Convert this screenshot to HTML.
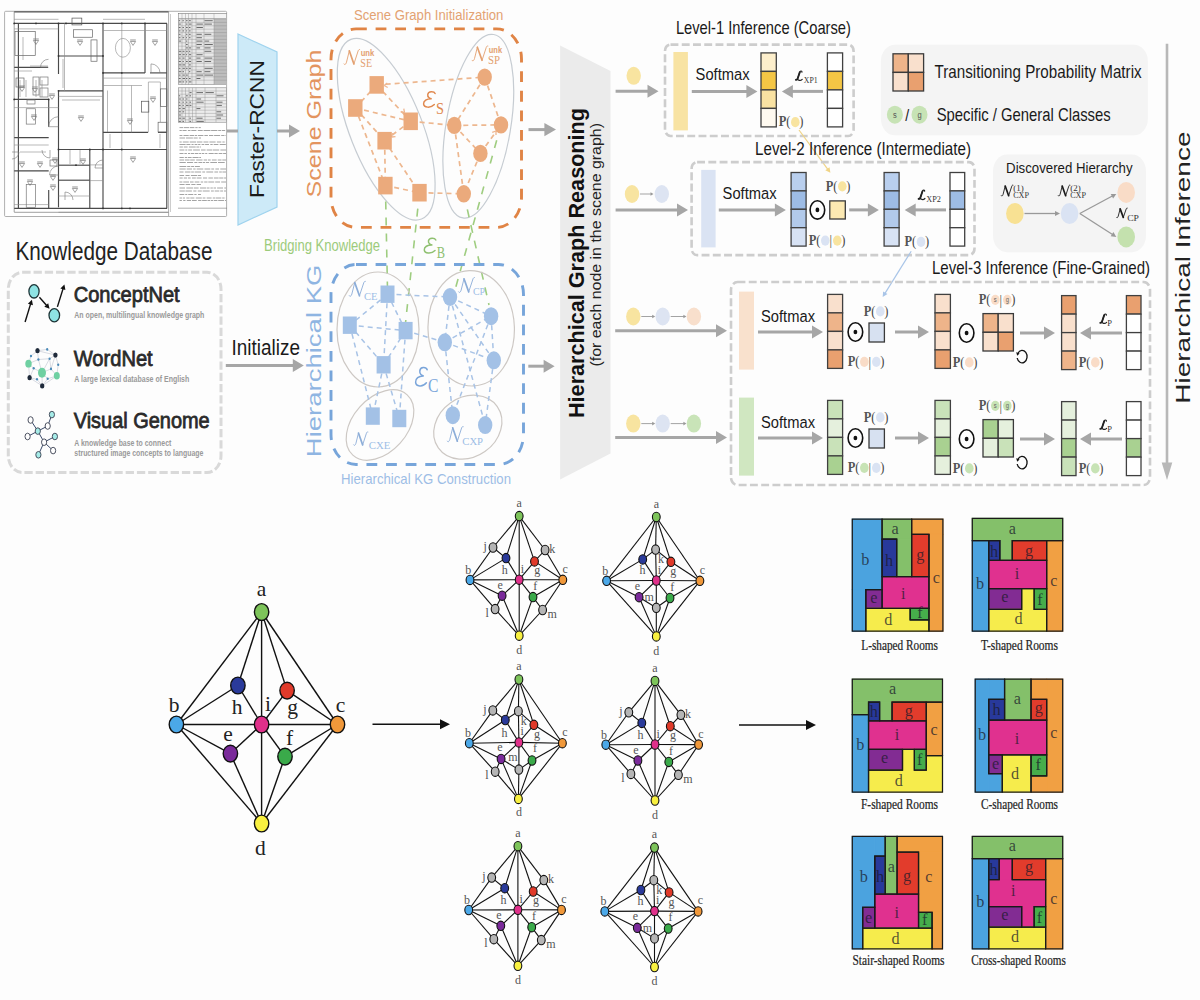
<!DOCTYPE html>
<html><head><meta charset="utf-8"><style>
html,body{margin:0;padding:0;background:#fdfdfd;width:1200px;height:1000px;overflow:hidden;}
svg{display:block;font-family:"Liberation Sans", sans-serif;}
</style></head><body>
<svg width="1200" height="1000" viewBox="0 0 1200 1000">
<rect x="0" y="0" width="1200" height="1000" fill="#fdfdfd"/>
<g fill="none">
<rect x="4.6" y="11.3" width="222" height="205.2" rx="1" fill="#fff" stroke="#9a9a9a" stroke-width="0.8"/>
<line x1="14.2" y1="11.8" x2="168.6" y2="11.8" stroke="#555" stroke-width="1.3" />
<line x1="14.2" y1="11.8" x2="14.2" y2="212.1" stroke="#777" stroke-width="0.7" />
<line x1="168.6" y1="11.8" x2="168.6" y2="216.0" stroke="#888" stroke-width="0.7" />
<line x1="170.5" y1="14.0" x2="170.5" y2="212.0" stroke="#999" stroke-width="0.5" />
<line x1="14.2" y1="212.3" x2="168.6" y2="212.3" stroke="#777" stroke-width="0.7" />
<line x1="14.2" y1="19.3" x2="58.5" y2="19.3" stroke="#888" stroke-width="0.6" />
<line x1="103.0" y1="19.3" x2="145.0" y2="19.3" stroke="#888" stroke-width="0.6" />
<line x1="14.2" y1="23.4" x2="167.0" y2="23.4" stroke="#4a4a4a" stroke-width="1.15" />
<line x1="14.2" y1="208.4" x2="167.0" y2="208.4" stroke="#4a4a4a" stroke-width="1.15" />
<line x1="18.4" y1="23.4" x2="18.4" y2="208.4" stroke="#4a4a4a" stroke-width="1.15" />
<line x1="166.8" y1="23.4" x2="166.8" y2="208.4" stroke="#4a4a4a" stroke-width="1.15" />
<line x1="58.5" y1="23.4" x2="58.5" y2="74.0" stroke="#4a4a4a" stroke-width="1.15" />
<line x1="58.5" y1="90.7" x2="58.5" y2="207.3" stroke="#4a4a4a" stroke-width="1.15" />
<line x1="103.0" y1="23.4" x2="103.0" y2="208.4" stroke="#4a4a4a" stroke-width="1.15" />
<line x1="145.0" y1="23.4" x2="145.0" y2="72.9" stroke="#4a4a4a" stroke-width="1.15" />
<line x1="48.7" y1="99.4" x2="48.7" y2="126.7" stroke="#4a4a4a" stroke-width="1.15" />
<line x1="48.7" y1="190.0" x2="48.7" y2="208.4" stroke="#4a4a4a" stroke-width="1.15" />
<line x1="89.8" y1="149.5" x2="89.8" y2="208.4" stroke="#4a4a4a" stroke-width="1.15" />
<line x1="58.5" y1="56.0" x2="103.0" y2="56.0" stroke="#4a4a4a" stroke-width="1.15" />
<line x1="103.0" y1="72.9" x2="145.0" y2="72.9" stroke="#4a4a4a" stroke-width="1.15" />
<line x1="150.0" y1="72.9" x2="166.8" y2="72.9" stroke="#4a4a4a" stroke-width="1.15" />
<line x1="58.5" y1="90.8" x2="103.0" y2="90.8" stroke="#4a4a4a" stroke-width="1.15" />
<line x1="14.2" y1="67.3" x2="48.0" y2="67.3" stroke="#4a4a4a" stroke-width="1.15" />
<line x1="14.2" y1="99.4" x2="48.7" y2="99.4" stroke="#4a4a4a" stroke-width="1.15" />
<line x1="14.2" y1="137.6" x2="48.7" y2="137.6" stroke="#4a4a4a" stroke-width="1.15" />
<line x1="14.2" y1="170.9" x2="48.7" y2="170.9" stroke="#4a4a4a" stroke-width="1.15" />
<line x1="58.5" y1="149.5" x2="166.8" y2="149.5" stroke="#4a4a4a" stroke-width="1.15" />
<line x1="103.0" y1="132.4" x2="148.0" y2="132.4" stroke="#4a4a4a" stroke-width="1.15" />
<line x1="58.5" y1="165.2" x2="89.8" y2="165.2" stroke="#4a4a4a" stroke-width="1.15" />
<line x1="58.5" y1="180.2" x2="89.8" y2="180.2" stroke="#4a4a4a" stroke-width="1.15" />
<line x1="158.0" y1="132.4" x2="166.8" y2="132.4" stroke="#4a4a4a" stroke-width="1.15" />
<line x1="64.5" y1="23.4" x2="64.5" y2="91.0" stroke="#8a8a8a" stroke-width="0.6" />
<line x1="121.8" y1="23.4" x2="121.8" y2="208.4" stroke="#8a8a8a" stroke-width="0.6" />
<line x1="14.2" y1="28.9" x2="58.5" y2="28.9" stroke="#8a8a8a" stroke-width="0.6" />
<line x1="103.0" y1="30.5" x2="166.8" y2="30.5" stroke="#8a8a8a" stroke-width="0.6" />
<line x1="103.0" y1="78.1" x2="166.8" y2="78.1" stroke="#8a8a8a" stroke-width="0.6" />
<line x1="58.5" y1="96.4" x2="103.0" y2="96.4" stroke="#8a8a8a" stroke-width="0.6" />
<line x1="14.2" y1="107.6" x2="58.5" y2="107.6" stroke="#8a8a8a" stroke-width="0.6" />
<line x1="14.2" y1="71.0" x2="32.0" y2="71.0" stroke="#8a8a8a" stroke-width="0.6" />
<line x1="131.5" y1="85.5" x2="131.5" y2="132.4" stroke="#8a8a8a" stroke-width="0.6" />
<line x1="107.5" y1="90.5" x2="107.5" y2="132.0" stroke="#8a8a8a" stroke-width="0.6" />
<line x1="148.4" y1="82.0" x2="148.4" y2="132.4" stroke="#8a8a8a" stroke-width="0.6" />
<line x1="160.4" y1="82.0" x2="160.4" y2="122.0" stroke="#8a8a8a" stroke-width="0.6" />
<line x1="103.0" y1="85.5" x2="142.0" y2="85.5" stroke="#8a8a8a" stroke-width="0.6" />
<line x1="148.4" y1="82.0" x2="160.4" y2="82.0" stroke="#8a8a8a" stroke-width="0.6" />
<line x1="14.2" y1="204.6" x2="48.7" y2="204.6" stroke="#8a8a8a" stroke-width="0.6" />
<line x1="58.5" y1="212.3" x2="168.0" y2="212.3" stroke="#8a8a8a" stroke-width="0.6" />
<line x1="62.0" y1="100.0" x2="100.0" y2="100.0" stroke="#8a8a8a" stroke-width="0.6" />
<line x1="89.8" y1="164.9" x2="103.0" y2="164.9" stroke="#8a8a8a" stroke-width="0.6" />
<line x1="89.8" y1="180.6" x2="103.0" y2="180.6" stroke="#8a8a8a" stroke-width="0.6" />
<line x1="23.0" y1="37.0" x2="23.0" y2="60.0" stroke="#8a8a8a" stroke-width="0.6" />
<line x1="30.0" y1="66.0" x2="48.0" y2="66.0" stroke="#8a8a8a" stroke-width="0.6" />
<line x1="14.2" y1="145.0" x2="48.7" y2="145.0" stroke="#8a8a8a" stroke-width="0.6" />
<line x1="20.0" y1="152.0" x2="46.0" y2="152.0" stroke="#8a8a8a" stroke-width="0.6" />
<line x1="63.0" y1="59.0" x2="63.0" y2="88.0" stroke="#8a8a8a" stroke-width="0.6" />
<line x1="20.0" y1="80.0" x2="20.0" y2="97.0" stroke="#8a8a8a" stroke-width="0.6" />
<line x1="26.0" y1="80.0" x2="26.0" y2="97.0" stroke="#8a8a8a" stroke-width="0.6" />
<line x1="36.0" y1="80.0" x2="36.0" y2="97.0" stroke="#8a8a8a" stroke-width="0.6" />
<line x1="42.0" y1="80.0" x2="42.0" y2="97.0" stroke="#8a8a8a" stroke-width="0.6" />
<line x1="110.0" y1="134.0" x2="110.0" y2="148.0" stroke="#8a8a8a" stroke-width="0.6" />
<line x1="160.0" y1="134.0" x2="160.0" y2="148.0" stroke="#8a8a8a" stroke-width="0.6" />
<line x1="70.0" y1="150.0" x2="70.0" y2="164.0" stroke="#8a8a8a" stroke-width="0.6" />
<line x1="80.0" y1="150.0" x2="80.0" y2="164.0" stroke="#8a8a8a" stroke-width="0.6" />
<line x1="58.5" y1="196.0" x2="89.8" y2="196.0" stroke="#8a8a8a" stroke-width="0.6" />
<rect x="15" y="31.6" width="20.25" height="24" stroke="#666" stroke-width="0.7"/>
<rect x="72" y="18.1" width="9.8" height="6.8" stroke="#555" stroke-width="0.7"/>
<rect x="73.5" y="29.75" width="19" height="7.5" stroke="#666" stroke-width="0.7"/>
<rect x="91" y="39.9" width="6" height="21.35" stroke="#666" stroke-width="0.7"/>
<rect x="26.25" y="108.75" width="9.35" height="15.35" stroke="#777" stroke-width="0.7"/>
<rect x="26.25" y="184.4" width="9.35" height="22.9" stroke="#777" stroke-width="0.7"/>
<rect x="141.6" y="101.25" width="7.2" height="10.85" stroke="#555" stroke-width="0.7"/>
<rect x="158.1" y="122.25" width="8.7" height="9.75" stroke="#666" stroke-width="0.7"/>
<rect x="160.4" y="88.9" width="6.4" height="17.6" stroke="#666" stroke-width="0.7"/>
<rect x="16" y="78" width="8" height="9" stroke="#666" stroke-width="0.7"/>
<rect x="27" y="100" width="8" height="4" stroke="#777" stroke-width="0.7"/>
<rect x="33" y="77" width="6" height="18" stroke="#777" stroke-width="0.7"/>
<rect x="40" y="77" width="8" height="8" stroke="#777" stroke-width="0.7"/>
<rect x="40" y="88" width="8" height="9" stroke="#777" stroke-width="0.7"/>
<rect x="50" y="160" width="7" height="6" stroke="#777" stroke-width="0.7"/>
<ellipse cx="122.9" cy="47.8" rx="7.5" ry="9.4" fill="none" stroke="#888" stroke-width="0.6" />
<path d="M48.5 67.3 L40.5 67.3 A8 8 0 0 1 48.5 59.3" stroke="#777" stroke-width="0.6"/>
<path d="M58.5 126.7 L48.5 126.7 A10 10 0 0 1 58.5 116.7" stroke="#777" stroke-width="0.6"/>
<path d="M50.0 150.0 L50.0 158.0 A8 8 0 0 1 42.0 150.0" stroke="#777" stroke-width="0.6"/>
<path d="M58.5 175.0 L49.5 175.0 A9 9 0 0 1 58.5 166.0" stroke="#777" stroke-width="0.6"/>
<path d="M65.0 200.0 L65.0 192.0 A8 8 0 0 1 73.0 200.0" stroke="#777" stroke-width="0.6"/>
<path d="M151.0 72.9 L151.0 63.9 A9 9 0 0 1 160.0 72.9" stroke="#777" stroke-width="0.6"/>
<path d="M12.0 152.0 L19.0 152.0 A7 7 0 0 1 12.0 159.0" stroke="#777" stroke-width="0.6"/>
<path d="M103.0 168.0 L95.0 168.0 A8 8 0 0 1 103.0 160.0" stroke="#777" stroke-width="0.6"/>
<path d="M33.4 40.5 L36.0 44.4 L38.6 40.5 Z" stroke="#666" stroke-width="0.6"/>
<line x1="33.2" y1="39.0" x2="38.8" y2="39.0" stroke="#777" stroke-width="0.8" />
<path d="M77.4 41.5 L80.0 45.4 L82.6 41.5 Z" stroke="#666" stroke-width="0.6"/>
<line x1="77.2" y1="40.0" x2="82.8" y2="40.0" stroke="#777" stroke-width="0.8" />
<path d="M130.4 41.5 L133.0 45.4 L135.6 41.5 Z" stroke="#666" stroke-width="0.6"/>
<line x1="130.2" y1="40.0" x2="135.8" y2="40.0" stroke="#777" stroke-width="0.8" />
<path d="M152.4 41.5 L155.0 45.4 L157.6 41.5 Z" stroke="#666" stroke-width="0.6"/>
<line x1="152.2" y1="40.0" x2="157.8" y2="40.0" stroke="#777" stroke-width="0.8" />
<path d="M19.4 87.5 L22.0 91.4 L24.6 87.5 Z" stroke="#666" stroke-width="0.6"/>
<line x1="19.2" y1="86.0" x2="24.8" y2="86.0" stroke="#777" stroke-width="0.8" />
<path d="M32.4 88.5 L35.0 92.4 L37.6 88.5 Z" stroke="#666" stroke-width="0.6"/>
<line x1="32.2" y1="87.0" x2="37.8" y2="87.0" stroke="#777" stroke-width="0.8" />
<path d="M49.4 95.5 L52.0 99.4 L54.6 95.5 Z" stroke="#666" stroke-width="0.6"/>
<line x1="49.2" y1="94.0" x2="54.8" y2="94.0" stroke="#777" stroke-width="0.8" />
<path d="M78.4 117.5 L81.0 121.4 L83.6 117.5 Z" stroke="#666" stroke-width="0.6"/>
<line x1="78.2" y1="116.0" x2="83.8" y2="116.0" stroke="#777" stroke-width="0.8" />
<path d="M31.4 116.5 L34.0 120.4 L36.6 116.5 Z" stroke="#666" stroke-width="0.6"/>
<line x1="31.2" y1="115.0" x2="36.8" y2="115.0" stroke="#777" stroke-width="0.8" />
<path d="M127.4 120.5 L130.0 124.4 L132.6 120.5 Z" stroke="#666" stroke-width="0.6"/>
<line x1="127.2" y1="119.0" x2="132.8" y2="119.0" stroke="#777" stroke-width="0.8" />
<path d="M150.4 98.5 L153.0 102.4 L155.6 98.5 Z" stroke="#666" stroke-width="0.6"/>
<line x1="150.2" y1="97.0" x2="155.8" y2="97.0" stroke="#777" stroke-width="0.8" />
<path d="M27.4 181.5 L30.0 185.4 L32.6 181.5 Z" stroke="#666" stroke-width="0.6"/>
<line x1="27.2" y1="180.0" x2="32.8" y2="180.0" stroke="#777" stroke-width="0.8" />
<path d="M72.4 188.5 L75.0 192.4 L77.6 188.5 Z" stroke="#666" stroke-width="0.6"/>
<line x1="72.2" y1="187.0" x2="77.8" y2="187.0" stroke="#777" stroke-width="0.8" />
<path d="M80.4 160.5 L83.0 164.4 L85.6 160.5 Z" stroke="#666" stroke-width="0.6"/>
<line x1="80.2" y1="159.0" x2="85.8" y2="159.0" stroke="#777" stroke-width="0.8" />
<path d="M130.4 158.5 L133.0 162.4 L135.6 158.5 Z" stroke="#666" stroke-width="0.6"/>
<line x1="130.2" y1="157.0" x2="135.8" y2="157.0" stroke="#777" stroke-width="0.8" />
<path d="M52.4 159.5 L55.0 163.4 L57.6 159.5 Z" stroke="#666" stroke-width="0.6"/>
<line x1="52.2" y1="158.0" x2="57.8" y2="158.0" stroke="#777" stroke-width="0.8" />
<path d="M19.4 163.5 L22.0 167.4 L24.6 163.5 Z" stroke="#666" stroke-width="0.6"/>
<line x1="19.2" y1="162.0" x2="24.8" y2="162.0" stroke="#777" stroke-width="0.8" />
<path d="M37.4 163.5 L40.0 167.4 L42.6 163.5 Z" stroke="#666" stroke-width="0.6"/>
<line x1="37.2" y1="162.0" x2="42.8" y2="162.0" stroke="#777" stroke-width="0.8" />
<path d="M50.4 176.5 L53.0 180.4 L55.6 176.5 Z" stroke="#666" stroke-width="0.6"/>
<line x1="50.2" y1="175.0" x2="55.8" y2="175.0" stroke="#777" stroke-width="0.8" />
<path d="M50.4 186.5 L53.0 190.4 L55.6 186.5 Z" stroke="#666" stroke-width="0.6"/>
<line x1="50.2" y1="185.0" x2="55.8" y2="185.0" stroke="#777" stroke-width="0.8" />
<ellipse cx="14.2" cy="23.4" rx="0.9" ry="0.9" fill="#333" stroke="none" stroke-width="1" />
<ellipse cx="58.5" cy="23.4" rx="0.9" ry="0.9" fill="#333" stroke="none" stroke-width="1" />
<ellipse cx="103.0" cy="23.4" rx="0.9" ry="0.9" fill="#333" stroke="none" stroke-width="1" />
<ellipse cx="121.8" cy="23.4" rx="0.9" ry="0.9" fill="#333" stroke="none" stroke-width="1" />
<ellipse cx="145.0" cy="23.4" rx="0.9" ry="0.9" fill="#333" stroke="none" stroke-width="1" />
<ellipse cx="58.5" cy="56.0" rx="0.9" ry="0.9" fill="#333" stroke="none" stroke-width="1" />
<ellipse cx="103.0" cy="56.0" rx="0.9" ry="0.9" fill="#333" stroke="none" stroke-width="1" />
<ellipse cx="103.0" cy="72.9" rx="0.9" ry="0.9" fill="#333" stroke="none" stroke-width="1" />
<ellipse cx="121.8" cy="72.9" rx="0.9" ry="0.9" fill="#333" stroke="none" stroke-width="1" />
<ellipse cx="14.2" cy="99.4" rx="0.9" ry="0.9" fill="#333" stroke="none" stroke-width="1" />
<ellipse cx="48.7" cy="99.4" rx="0.9" ry="0.9" fill="#333" stroke="none" stroke-width="1" />
<ellipse cx="58.5" cy="90.8" rx="0.9" ry="0.9" fill="#333" stroke="none" stroke-width="1" />
<ellipse cx="103.0" cy="149.5" rx="0.9" ry="0.9" fill="#333" stroke="none" stroke-width="1" />
<ellipse cx="121.8" cy="149.5" rx="0.9" ry="0.9" fill="#333" stroke="none" stroke-width="1" />
<ellipse cx="58.5" cy="149.5" rx="0.9" ry="0.9" fill="#333" stroke="none" stroke-width="1" />
<ellipse cx="89.8" cy="149.5" rx="0.9" ry="0.9" fill="#333" stroke="none" stroke-width="1" />
<ellipse cx="103.0" cy="208.4" rx="0.9" ry="0.9" fill="#333" stroke="none" stroke-width="1" />
<ellipse cx="121.8" cy="208.4" rx="0.9" ry="0.9" fill="#333" stroke="none" stroke-width="1" />
<ellipse cx="130.0" cy="208.4" rx="0.9" ry="0.9" fill="#333" stroke="none" stroke-width="1" />
<ellipse cx="76.0" cy="165.2" rx="0.9" ry="0.9" fill="#333" stroke="none" stroke-width="1" />
<ellipse cx="66.0" cy="23.4" rx="0.9" ry="0.9" fill="#333" stroke="none" stroke-width="1" />
<ellipse cx="36.0" cy="23.4" rx="0.9" ry="0.9" fill="#333" stroke="none" stroke-width="1" />
</g>
<g>
<rect x="178.3" y="13.6" width="48.4" height="71.0" rx="0" ry="0.0" fill="#e9e9e9" stroke="#777" stroke-width="0.5" />
<rect x="178.3" y="13.6" width="48.4" height="5.0" rx="0" ry="0.0" fill="#f4f4f4" stroke="#777" stroke-width="0.4" />
<rect x="214.0" y="19.0" width="12.7" height="65.0" rx="0" ry="0.0" fill="#bdbdbd" stroke="none" stroke-width="1" />
<line x1="178.3" y1="19.0" x2="226.7" y2="19.0" stroke="#8c8c8c" stroke-width="0.4" />
<line x1="178.3" y1="22.4" x2="226.7" y2="22.4" stroke="#8c8c8c" stroke-width="0.4" />
<line x1="178.3" y1="25.8" x2="226.7" y2="25.8" stroke="#8c8c8c" stroke-width="0.4" />
<line x1="178.3" y1="29.2" x2="226.7" y2="29.2" stroke="#8c8c8c" stroke-width="0.4" />
<line x1="178.3" y1="32.6" x2="226.7" y2="32.6" stroke="#8c8c8c" stroke-width="0.4" />
<line x1="178.3" y1="36.0" x2="226.7" y2="36.0" stroke="#8c8c8c" stroke-width="0.4" />
<line x1="178.3" y1="39.4" x2="226.7" y2="39.4" stroke="#8c8c8c" stroke-width="0.4" />
<line x1="178.3" y1="42.8" x2="226.7" y2="42.8" stroke="#8c8c8c" stroke-width="0.4" />
<line x1="178.3" y1="46.2" x2="226.7" y2="46.2" stroke="#8c8c8c" stroke-width="0.4" />
<line x1="178.3" y1="49.6" x2="226.7" y2="49.6" stroke="#8c8c8c" stroke-width="0.4" />
<line x1="178.3" y1="53.0" x2="226.7" y2="53.0" stroke="#8c8c8c" stroke-width="0.4" />
<line x1="178.3" y1="56.4" x2="226.7" y2="56.4" stroke="#8c8c8c" stroke-width="0.4" />
<line x1="178.3" y1="59.8" x2="226.7" y2="59.8" stroke="#8c8c8c" stroke-width="0.4" />
<line x1="178.3" y1="63.2" x2="226.7" y2="63.2" stroke="#8c8c8c" stroke-width="0.4" />
<line x1="178.3" y1="66.6" x2="226.7" y2="66.6" stroke="#8c8c8c" stroke-width="0.4" />
<line x1="178.3" y1="70.0" x2="226.7" y2="70.0" stroke="#8c8c8c" stroke-width="0.4" />
<line x1="178.3" y1="73.4" x2="226.7" y2="73.4" stroke="#8c8c8c" stroke-width="0.4" />
<line x1="178.3" y1="76.8" x2="226.7" y2="76.8" stroke="#8c8c8c" stroke-width="0.4" />
<line x1="178.3" y1="80.2" x2="226.7" y2="80.2" stroke="#8c8c8c" stroke-width="0.4" />
<line x1="182.0" y1="13.6" x2="182.0" y2="84.6" stroke="#8c8c8c" stroke-width="0.4" />
<line x1="185.5" y1="13.6" x2="185.5" y2="84.6" stroke="#8c8c8c" stroke-width="0.4" />
<line x1="188.5" y1="13.6" x2="188.5" y2="84.6" stroke="#8c8c8c" stroke-width="0.4" />
<line x1="192.0" y1="13.6" x2="192.0" y2="84.6" stroke="#8c8c8c" stroke-width="0.4" />
<line x1="196.0" y1="13.6" x2="196.0" y2="84.6" stroke="#8c8c8c" stroke-width="0.4" />
<line x1="204.0" y1="13.6" x2="204.0" y2="84.6" stroke="#8c8c8c" stroke-width="0.4" />
<line x1="214.0" y1="13.6" x2="214.0" y2="84.6" stroke="#8c8c8c" stroke-width="0.4" />
<rect x="178.3" y="87.8" width="48.4" height="34.4" rx="0" ry="0.0" fill="#ececec" stroke="#777" stroke-width="0.5" />
<line x1="178.3" y1="91.0" x2="226.7" y2="91.0" stroke="#8c8c8c" stroke-width="0.4" />
<line x1="178.3" y1="94.2" x2="226.7" y2="94.2" stroke="#8c8c8c" stroke-width="0.4" />
<line x1="178.3" y1="97.4" x2="226.7" y2="97.4" stroke="#8c8c8c" stroke-width="0.4" />
<line x1="178.3" y1="100.6" x2="226.7" y2="100.6" stroke="#8c8c8c" stroke-width="0.4" />
<line x1="178.3" y1="103.8" x2="226.7" y2="103.8" stroke="#8c8c8c" stroke-width="0.4" />
<line x1="178.3" y1="107.0" x2="226.7" y2="107.0" stroke="#8c8c8c" stroke-width="0.4" />
<line x1="178.3" y1="110.2" x2="226.7" y2="110.2" stroke="#8c8c8c" stroke-width="0.4" />
<line x1="178.3" y1="113.4" x2="226.7" y2="113.4" stroke="#8c8c8c" stroke-width="0.4" />
<line x1="178.3" y1="116.6" x2="226.7" y2="116.6" stroke="#8c8c8c" stroke-width="0.4" />
<line x1="178.3" y1="119.8" x2="226.7" y2="119.8" stroke="#8c8c8c" stroke-width="0.4" />
<line x1="182.0" y1="87.8" x2="182.0" y2="122.2" stroke="#8c8c8c" stroke-width="0.4" />
<line x1="185.5" y1="87.8" x2="185.5" y2="122.2" stroke="#8c8c8c" stroke-width="0.4" />
<line x1="189.0" y1="87.8" x2="189.0" y2="122.2" stroke="#8c8c8c" stroke-width="0.4" />
<line x1="192.5" y1="87.8" x2="192.5" y2="122.2" stroke="#8c8c8c" stroke-width="0.4" />
<line x1="196.0" y1="87.8" x2="196.0" y2="122.2" stroke="#8c8c8c" stroke-width="0.4" />
<line x1="205.0" y1="87.8" x2="205.0" y2="122.2" stroke="#8c8c8c" stroke-width="0.4" />
<line x1="216.0" y1="87.8" x2="216.0" y2="122.2" stroke="#8c8c8c" stroke-width="0.4" />
<line x1="179.5" y1="127.6" x2="183.1" y2="127.6" stroke="#9a9a9a" stroke-width="0.9" />
<line x1="183.8" y1="127.6" x2="189.1" y2="127.6" stroke="#9a9a9a" stroke-width="0.9" />
<line x1="189.8" y1="127.6" x2="194.4" y2="127.6" stroke="#9a9a9a" stroke-width="0.9" />
<line x1="195.3" y1="127.6" x2="197.6" y2="127.6" stroke="#9a9a9a" stroke-width="0.9" />
<line x1="198.6" y1="127.6" x2="200.8" y2="127.6" stroke="#9a9a9a" stroke-width="0.9" />
<line x1="179.5" y1="130.5" x2="181.8" y2="130.5" stroke="#9a9a9a" stroke-width="0.9" />
<line x1="182.5" y1="130.5" x2="186.6" y2="130.5" stroke="#9a9a9a" stroke-width="0.9" />
<line x1="187.9" y1="130.5" x2="190.5" y2="130.5" stroke="#9a9a9a" stroke-width="0.9" />
<line x1="191.3" y1="130.5" x2="196.4" y2="130.5" stroke="#9a9a9a" stroke-width="0.9" />
<line x1="197.8" y1="130.5" x2="202.7" y2="130.5" stroke="#9a9a9a" stroke-width="0.9" />
<line x1="203.6" y1="130.5" x2="210.5" y2="130.5" stroke="#9a9a9a" stroke-width="0.9" />
<line x1="211.1" y1="130.5" x2="217.4" y2="130.5" stroke="#9a9a9a" stroke-width="0.9" />
<line x1="218.2" y1="130.5" x2="221.0" y2="130.5" stroke="#9a9a9a" stroke-width="0.9" />
<line x1="221.7" y1="130.5" x2="225.2" y2="130.5" stroke="#9a9a9a" stroke-width="0.9" />
<line x1="179.5" y1="135.5" x2="182.4" y2="135.5" stroke="#9a9a9a" stroke-width="0.9" />
<line x1="183.5" y1="135.5" x2="188.7" y2="135.5" stroke="#9a9a9a" stroke-width="0.9" />
<line x1="189.6" y1="135.5" x2="194.3" y2="135.5" stroke="#9a9a9a" stroke-width="0.9" />
<line x1="195.0" y1="135.5" x2="197.2" y2="135.5" stroke="#9a9a9a" stroke-width="0.9" />
<line x1="198.0" y1="135.5" x2="203.4" y2="135.5" stroke="#9a9a9a" stroke-width="0.9" />
<line x1="204.4" y1="135.5" x2="207.9" y2="135.5" stroke="#9a9a9a" stroke-width="0.9" />
<line x1="209.0" y1="135.5" x2="213.3" y2="135.5" stroke="#9a9a9a" stroke-width="0.9" />
<line x1="214.1" y1="135.5" x2="220.1" y2="135.5" stroke="#9a9a9a" stroke-width="0.9" />
<line x1="221.2" y1="135.5" x2="224.5" y2="135.5" stroke="#9a9a9a" stroke-width="0.9" />
<line x1="225.5" y1="135.5" x2="226.0" y2="135.5" stroke="#9a9a9a" stroke-width="0.9" />
<line x1="179.5" y1="138.0" x2="185.1" y2="138.0" stroke="#9a9a9a" stroke-width="0.9" />
<line x1="186.0" y1="138.0" x2="192.9" y2="138.0" stroke="#9a9a9a" stroke-width="0.9" />
<line x1="193.6" y1="138.0" x2="197.7" y2="138.0" stroke="#9a9a9a" stroke-width="0.9" />
<line x1="198.9" y1="138.0" x2="201.0" y2="138.0" stroke="#9a9a9a" stroke-width="0.9" />
<line x1="179.5" y1="142.0" x2="181.7" y2="142.0" stroke="#9a9a9a" stroke-width="0.9" />
<line x1="182.8" y1="142.0" x2="188.7" y2="142.0" stroke="#9a9a9a" stroke-width="0.9" />
<line x1="189.7" y1="142.0" x2="196.1" y2="142.0" stroke="#9a9a9a" stroke-width="0.9" />
<line x1="196.9" y1="142.0" x2="202.4" y2="142.0" stroke="#9a9a9a" stroke-width="0.9" />
<line x1="203.5" y1="142.0" x2="208.4" y2="142.0" stroke="#9a9a9a" stroke-width="0.9" />
<line x1="209.4" y1="142.0" x2="215.6" y2="142.0" stroke="#9a9a9a" stroke-width="0.9" />
<line x1="216.9" y1="142.0" x2="221.3" y2="142.0" stroke="#9a9a9a" stroke-width="0.9" />
<line x1="222.4" y1="142.0" x2="224.7" y2="142.0" stroke="#9a9a9a" stroke-width="0.9" />
<line x1="225.9" y1="142.0" x2="226.0" y2="142.0" stroke="#9a9a9a" stroke-width="0.9" />
<line x1="179.5" y1="144.5" x2="185.6" y2="144.5" stroke="#9a9a9a" stroke-width="0.9" />
<line x1="186.4" y1="144.5" x2="190.4" y2="144.5" stroke="#9a9a9a" stroke-width="0.9" />
<line x1="191.5" y1="144.5" x2="193.6" y2="144.5" stroke="#9a9a9a" stroke-width="0.9" />
<line x1="194.6" y1="144.5" x2="197.4" y2="144.5" stroke="#9a9a9a" stroke-width="0.9" />
<line x1="198.1" y1="144.5" x2="200.4" y2="144.5" stroke="#9a9a9a" stroke-width="0.9" />
<line x1="201.6" y1="144.5" x2="204.3" y2="144.5" stroke="#9a9a9a" stroke-width="0.9" />
<line x1="205.1" y1="144.5" x2="209.0" y2="144.5" stroke="#9a9a9a" stroke-width="0.9" />
<line x1="210.3" y1="144.5" x2="212.7" y2="144.5" stroke="#9a9a9a" stroke-width="0.9" />
<line x1="213.7" y1="144.5" x2="218.4" y2="144.5" stroke="#9a9a9a" stroke-width="0.9" />
<line x1="219.7" y1="144.5" x2="225.8" y2="144.5" stroke="#9a9a9a" stroke-width="0.9" />
<line x1="179.5" y1="147.0" x2="182.9" y2="147.0" stroke="#9a9a9a" stroke-width="0.9" />
<line x1="183.8" y1="147.0" x2="187.6" y2="147.0" stroke="#9a9a9a" stroke-width="0.9" />
<line x1="188.9" y1="147.0" x2="195.7" y2="147.0" stroke="#9a9a9a" stroke-width="0.9" />
<line x1="196.4" y1="147.0" x2="199.3" y2="147.0" stroke="#9a9a9a" stroke-width="0.9" />
<line x1="200.1" y1="147.0" x2="201.0" y2="147.0" stroke="#9a9a9a" stroke-width="0.9" />
<line x1="179.5" y1="150.0" x2="184.4" y2="150.0" stroke="#9a9a9a" stroke-width="0.9" />
<line x1="185.3" y1="150.0" x2="187.3" y2="150.0" stroke="#9a9a9a" stroke-width="0.9" />
<line x1="188.2" y1="150.0" x2="192.1" y2="150.0" stroke="#9a9a9a" stroke-width="0.9" />
<line x1="193.1" y1="150.0" x2="199.9" y2="150.0" stroke="#9a9a9a" stroke-width="0.9" />
<line x1="201.0" y1="150.0" x2="205.6" y2="150.0" stroke="#9a9a9a" stroke-width="0.9" />
<line x1="206.7" y1="150.0" x2="212.1" y2="150.0" stroke="#9a9a9a" stroke-width="0.9" />
<line x1="212.7" y1="150.0" x2="219.2" y2="150.0" stroke="#9a9a9a" stroke-width="0.9" />
<line x1="220.4" y1="150.0" x2="226.0" y2="150.0" stroke="#9a9a9a" stroke-width="0.9" />
<line x1="179.5" y1="153.5" x2="183.5" y2="153.5" stroke="#9a9a9a" stroke-width="0.9" />
<line x1="184.4" y1="153.5" x2="186.9" y2="153.5" stroke="#9a9a9a" stroke-width="0.9" />
<line x1="188.0" y1="153.5" x2="190.3" y2="153.5" stroke="#9a9a9a" stroke-width="0.9" />
<line x1="191.0" y1="153.5" x2="194.0" y2="153.5" stroke="#9a9a9a" stroke-width="0.9" />
<line x1="194.7" y1="153.5" x2="198.4" y2="153.5" stroke="#9a9a9a" stroke-width="0.9" />
<line x1="199.1" y1="153.5" x2="201.1" y2="153.5" stroke="#9a9a9a" stroke-width="0.9" />
<line x1="201.8" y1="153.5" x2="204.3" y2="153.5" stroke="#9a9a9a" stroke-width="0.9" />
<line x1="205.2" y1="153.5" x2="207.3" y2="153.5" stroke="#9a9a9a" stroke-width="0.9" />
<line x1="208.6" y1="153.5" x2="213.7" y2="153.5" stroke="#9a9a9a" stroke-width="0.9" />
<line x1="214.4" y1="153.5" x2="217.7" y2="153.5" stroke="#9a9a9a" stroke-width="0.9" />
<line x1="218.6" y1="153.5" x2="222.4" y2="153.5" stroke="#9a9a9a" stroke-width="0.9" />
<line x1="223.1" y1="153.5" x2="226.0" y2="153.5" stroke="#9a9a9a" stroke-width="0.9" />
<line x1="179.5" y1="157.5" x2="183.8" y2="157.5" stroke="#9a9a9a" stroke-width="0.9" />
<line x1="184.8" y1="157.5" x2="187.2" y2="157.5" stroke="#9a9a9a" stroke-width="0.9" />
<line x1="187.9" y1="157.5" x2="191.6" y2="157.5" stroke="#9a9a9a" stroke-width="0.9" />
<line x1="192.5" y1="157.5" x2="198.6" y2="157.5" stroke="#9a9a9a" stroke-width="0.9" />
<line x1="199.3" y1="157.5" x2="201.0" y2="157.5" stroke="#9a9a9a" stroke-width="0.9" />
<line x1="179.5" y1="160.0" x2="184.1" y2="160.0" stroke="#9a9a9a" stroke-width="0.9" />
<line x1="184.9" y1="160.0" x2="189.6" y2="160.0" stroke="#9a9a9a" stroke-width="0.9" />
<line x1="190.2" y1="160.0" x2="194.8" y2="160.0" stroke="#9a9a9a" stroke-width="0.9" />
<line x1="196.2" y1="160.0" x2="202.5" y2="160.0" stroke="#9a9a9a" stroke-width="0.9" />
<line x1="203.7" y1="160.0" x2="207.0" y2="160.0" stroke="#9a9a9a" stroke-width="0.9" />
<line x1="207.9" y1="160.0" x2="210.7" y2="160.0" stroke="#9a9a9a" stroke-width="0.9" />
<line x1="211.9" y1="160.0" x2="216.6" y2="160.0" stroke="#9a9a9a" stroke-width="0.9" />
<line x1="217.8" y1="160.0" x2="221.5" y2="160.0" stroke="#9a9a9a" stroke-width="0.9" />
<line x1="222.3" y1="160.0" x2="226.0" y2="160.0" stroke="#9a9a9a" stroke-width="0.9" />
<line x1="179.5" y1="162.5" x2="185.8" y2="162.5" stroke="#9a9a9a" stroke-width="0.9" />
<line x1="187.0" y1="162.5" x2="193.1" y2="162.5" stroke="#9a9a9a" stroke-width="0.9" />
<line x1="194.3" y1="162.5" x2="197.4" y2="162.5" stroke="#9a9a9a" stroke-width="0.9" />
<line x1="198.4" y1="162.5" x2="202.2" y2="162.5" stroke="#9a9a9a" stroke-width="0.9" />
<line x1="202.8" y1="162.5" x2="205.0" y2="162.5" stroke="#9a9a9a" stroke-width="0.9" />
<line x1="205.8" y1="162.5" x2="209.1" y2="162.5" stroke="#9a9a9a" stroke-width="0.9" />
<line x1="210.3" y1="162.5" x2="217.0" y2="162.5" stroke="#9a9a9a" stroke-width="0.9" />
<line x1="218.0" y1="162.5" x2="224.7" y2="162.5" stroke="#9a9a9a" stroke-width="0.9" />
<line x1="179.5" y1="166.5" x2="186.3" y2="166.5" stroke="#9a9a9a" stroke-width="0.9" />
<line x1="187.2" y1="166.5" x2="190.3" y2="166.5" stroke="#9a9a9a" stroke-width="0.9" />
<line x1="191.1" y1="166.5" x2="194.0" y2="166.5" stroke="#9a9a9a" stroke-width="0.9" />
<line x1="194.8" y1="166.5" x2="199.9" y2="166.5" stroke="#9a9a9a" stroke-width="0.9" />
<line x1="179.5" y1="169.0" x2="185.7" y2="169.0" stroke="#9a9a9a" stroke-width="0.9" />
<line x1="186.7" y1="169.0" x2="192.0" y2="169.0" stroke="#9a9a9a" stroke-width="0.9" />
<line x1="193.2" y1="169.0" x2="195.6" y2="169.0" stroke="#9a9a9a" stroke-width="0.9" />
<line x1="196.7" y1="169.0" x2="203.3" y2="169.0" stroke="#9a9a9a" stroke-width="0.9" />
<line x1="204.5" y1="169.0" x2="210.3" y2="169.0" stroke="#9a9a9a" stroke-width="0.9" />
<line x1="211.3" y1="169.0" x2="214.1" y2="169.0" stroke="#9a9a9a" stroke-width="0.9" />
<line x1="215.4" y1="169.0" x2="219.0" y2="169.0" stroke="#9a9a9a" stroke-width="0.9" />
<line x1="220.3" y1="169.0" x2="226.0" y2="169.0" stroke="#9a9a9a" stroke-width="0.9" />
<line x1="179.5" y1="172.0" x2="183.5" y2="172.0" stroke="#9a9a9a" stroke-width="0.9" />
<line x1="184.9" y1="172.0" x2="190.5" y2="172.0" stroke="#9a9a9a" stroke-width="0.9" />
<line x1="191.2" y1="172.0" x2="193.9" y2="172.0" stroke="#9a9a9a" stroke-width="0.9" />
<line x1="194.6" y1="172.0" x2="201.1" y2="172.0" stroke="#9a9a9a" stroke-width="0.9" />
<line x1="202.3" y1="172.0" x2="205.1" y2="172.0" stroke="#9a9a9a" stroke-width="0.9" />
<line x1="206.3" y1="172.0" x2="213.2" y2="172.0" stroke="#9a9a9a" stroke-width="0.9" />
<line x1="214.4" y1="172.0" x2="218.1" y2="172.0" stroke="#9a9a9a" stroke-width="0.9" />
<line x1="219.2" y1="172.0" x2="221.8" y2="172.0" stroke="#9a9a9a" stroke-width="0.9" />
<line x1="222.4" y1="172.0" x2="226.0" y2="172.0" stroke="#9a9a9a" stroke-width="0.9" />
<line x1="179.5" y1="175.5" x2="184.1" y2="175.5" stroke="#9a9a9a" stroke-width="0.9" />
<line x1="185.5" y1="175.5" x2="189.6" y2="175.5" stroke="#9a9a9a" stroke-width="0.9" />
<line x1="190.9" y1="175.5" x2="197.1" y2="175.5" stroke="#9a9a9a" stroke-width="0.9" />
<line x1="197.8" y1="175.5" x2="201.0" y2="175.5" stroke="#9a9a9a" stroke-width="0.9" />
<line x1="179.5" y1="178.0" x2="182.7" y2="178.0" stroke="#9a9a9a" stroke-width="0.9" />
<line x1="183.8" y1="178.0" x2="187.1" y2="178.0" stroke="#9a9a9a" stroke-width="0.9" />
<line x1="188.0" y1="178.0" x2="190.7" y2="178.0" stroke="#9a9a9a" stroke-width="0.9" />
<line x1="192.0" y1="178.0" x2="195.8" y2="178.0" stroke="#9a9a9a" stroke-width="0.9" />
<line x1="196.7" y1="178.0" x2="201.6" y2="178.0" stroke="#9a9a9a" stroke-width="0.9" />
<line x1="203.0" y1="178.0" x2="207.1" y2="178.0" stroke="#9a9a9a" stroke-width="0.9" />
<line x1="208.4" y1="178.0" x2="212.9" y2="178.0" stroke="#9a9a9a" stroke-width="0.9" />
<line x1="213.9" y1="178.0" x2="218.6" y2="178.0" stroke="#9a9a9a" stroke-width="0.9" />
<line x1="219.2" y1="178.0" x2="223.4" y2="178.0" stroke="#9a9a9a" stroke-width="0.9" />
<line x1="224.1" y1="178.0" x2="226.0" y2="178.0" stroke="#9a9a9a" stroke-width="0.9" />
<line x1="179.5" y1="182.0" x2="182.4" y2="182.0" stroke="#9a9a9a" stroke-width="0.9" />
<line x1="183.3" y1="182.0" x2="189.0" y2="182.0" stroke="#9a9a9a" stroke-width="0.9" />
<line x1="190.0" y1="182.0" x2="193.6" y2="182.0" stroke="#9a9a9a" stroke-width="0.9" />
<line x1="194.7" y1="182.0" x2="199.4" y2="182.0" stroke="#9a9a9a" stroke-width="0.9" />
<line x1="200.7" y1="182.0" x2="203.2" y2="182.0" stroke="#9a9a9a" stroke-width="0.9" />
<line x1="204.2" y1="182.0" x2="207.5" y2="182.0" stroke="#9a9a9a" stroke-width="0.9" />
<line x1="208.3" y1="182.0" x2="214.2" y2="182.0" stroke="#9a9a9a" stroke-width="0.9" />
<line x1="215.2" y1="182.0" x2="220.0" y2="182.0" stroke="#9a9a9a" stroke-width="0.9" />
<line x1="221.2" y1="182.0" x2="226.0" y2="182.0" stroke="#9a9a9a" stroke-width="0.9" />
<line x1="179.5" y1="184.5" x2="184.6" y2="184.5" stroke="#9a9a9a" stroke-width="0.9" />
<line x1="185.6" y1="184.5" x2="190.1" y2="184.5" stroke="#9a9a9a" stroke-width="0.9" />
<line x1="191.3" y1="184.5" x2="195.5" y2="184.5" stroke="#9a9a9a" stroke-width="0.9" />
<line x1="196.6" y1="184.5" x2="201.0" y2="184.5" stroke="#9a9a9a" stroke-width="0.9" />
<line x1="179.5" y1="188.0" x2="185.0" y2="188.0" stroke="#9a9a9a" stroke-width="0.9" />
<line x1="186.3" y1="188.0" x2="193.0" y2="188.0" stroke="#9a9a9a" stroke-width="0.9" />
<line x1="193.8" y1="188.0" x2="198.6" y2="188.0" stroke="#9a9a9a" stroke-width="0.9" />
<line x1="200.0" y1="188.0" x2="206.2" y2="188.0" stroke="#9a9a9a" stroke-width="0.9" />
<line x1="206.9" y1="188.0" x2="209.5" y2="188.0" stroke="#9a9a9a" stroke-width="0.9" />
<line x1="210.4" y1="188.0" x2="212.8" y2="188.0" stroke="#9a9a9a" stroke-width="0.9" />
<line x1="213.6" y1="188.0" x2="216.0" y2="188.0" stroke="#9a9a9a" stroke-width="0.9" />
<line x1="217.1" y1="188.0" x2="223.0" y2="188.0" stroke="#9a9a9a" stroke-width="0.9" />
<line x1="224.3" y1="188.0" x2="226.0" y2="188.0" stroke="#9a9a9a" stroke-width="0.9" />
<line x1="179.5" y1="191.0" x2="184.8" y2="191.0" stroke="#9a9a9a" stroke-width="0.9" />
<line x1="185.5" y1="191.0" x2="191.9" y2="191.0" stroke="#9a9a9a" stroke-width="0.9" />
<line x1="193.3" y1="191.0" x2="196.4" y2="191.0" stroke="#9a9a9a" stroke-width="0.9" />
<line x1="197.8" y1="191.0" x2="201.8" y2="191.0" stroke="#9a9a9a" stroke-width="0.9" />
<line x1="202.7" y1="191.0" x2="209.7" y2="191.0" stroke="#9a9a9a" stroke-width="0.9" />
<line x1="211.0" y1="191.0" x2="213.8" y2="191.0" stroke="#9a9a9a" stroke-width="0.9" />
<line x1="214.7" y1="191.0" x2="219.3" y2="191.0" stroke="#9a9a9a" stroke-width="0.9" />
<line x1="220.2" y1="191.0" x2="223.1" y2="191.0" stroke="#9a9a9a" stroke-width="0.9" />
<line x1="224.0" y1="191.0" x2="226.0" y2="191.0" stroke="#9a9a9a" stroke-width="0.9" />
<line x1="179.5" y1="194.5" x2="184.3" y2="194.5" stroke="#9a9a9a" stroke-width="0.9" />
<line x1="185.2" y1="194.5" x2="187.3" y2="194.5" stroke="#9a9a9a" stroke-width="0.9" />
<line x1="188.2" y1="194.5" x2="193.3" y2="194.5" stroke="#9a9a9a" stroke-width="0.9" />
<line x1="194.3" y1="194.5" x2="196.6" y2="194.5" stroke="#9a9a9a" stroke-width="0.9" />
<line x1="198.0" y1="194.5" x2="201.0" y2="194.5" stroke="#9a9a9a" stroke-width="0.9" />
<line x1="179.5" y1="198.0" x2="182.0" y2="198.0" stroke="#9a9a9a" stroke-width="0.9" />
<line x1="182.8" y1="198.0" x2="185.0" y2="198.0" stroke="#9a9a9a" stroke-width="0.9" />
<line x1="186.3" y1="198.0" x2="189.6" y2="198.0" stroke="#9a9a9a" stroke-width="0.9" />
<line x1="190.3" y1="198.0" x2="194.4" y2="198.0" stroke="#9a9a9a" stroke-width="0.9" />
<line x1="195.8" y1="198.0" x2="201.8" y2="198.0" stroke="#9a9a9a" stroke-width="0.9" />
<line x1="202.7" y1="198.0" x2="205.4" y2="198.0" stroke="#9a9a9a" stroke-width="0.9" />
<line x1="206.7" y1="198.0" x2="211.6" y2="198.0" stroke="#9a9a9a" stroke-width="0.9" />
<line x1="212.8" y1="198.0" x2="215.2" y2="198.0" stroke="#9a9a9a" stroke-width="0.9" />
<line x1="215.8" y1="198.0" x2="221.3" y2="198.0" stroke="#9a9a9a" stroke-width="0.9" />
<line x1="222.2" y1="198.0" x2="224.6" y2="198.0" stroke="#9a9a9a" stroke-width="0.9" />
<line x1="225.9" y1="198.0" x2="226.0" y2="198.0" stroke="#9a9a9a" stroke-width="0.9" />
<line x1="179.5" y1="200.5" x2="181.9" y2="200.5" stroke="#9a9a9a" stroke-width="0.9" />
<line x1="183.2" y1="200.5" x2="185.5" y2="200.5" stroke="#9a9a9a" stroke-width="0.9" />
<line x1="186.8" y1="200.5" x2="191.1" y2="200.5" stroke="#9a9a9a" stroke-width="0.9" />
<line x1="192.0" y1="200.5" x2="196.7" y2="200.5" stroke="#9a9a9a" stroke-width="0.9" />
<line x1="198.1" y1="200.5" x2="201.4" y2="200.5" stroke="#9a9a9a" stroke-width="0.9" />
<line x1="202.1" y1="200.5" x2="206.8" y2="200.5" stroke="#9a9a9a" stroke-width="0.9" />
<line x1="207.5" y1="200.5" x2="210.1" y2="200.5" stroke="#9a9a9a" stroke-width="0.9" />
<line x1="210.8" y1="200.5" x2="213.1" y2="200.5" stroke="#9a9a9a" stroke-width="0.9" />
<line x1="213.8" y1="200.5" x2="217.4" y2="200.5" stroke="#9a9a9a" stroke-width="0.9" />
<line x1="218.2" y1="200.5" x2="224.0" y2="200.5" stroke="#9a9a9a" stroke-width="0.9" />
<line x1="224.9" y1="200.5" x2="226.0" y2="200.5" stroke="#9a9a9a" stroke-width="0.9" />
<line x1="178.8" y1="20.7" x2="180.2" y2="20.7" stroke="#6a6a6a" stroke-width="1.0" />
<line x1="182.5" y1="20.7" x2="183.8" y2="20.7" stroke="#6a6a6a" stroke-width="1.0" />
<line x1="186.0" y1="20.7" x2="187.6" y2="20.7" stroke="#6a6a6a" stroke-width="1.0" />
<line x1="189.0" y1="20.7" x2="190.8" y2="20.7" stroke="#6a6a6a" stroke-width="1.0" />
<line x1="204.5" y1="20.7" x2="212.7" y2="20.7" stroke="#6a6a6a" stroke-width="1.0" />
<line x1="178.8" y1="24.1" x2="180.8" y2="24.1" stroke="#6a6a6a" stroke-width="1.0" />
<line x1="186.0" y1="24.1" x2="187.5" y2="24.1" stroke="#6a6a6a" stroke-width="1.0" />
<line x1="189.0" y1="24.1" x2="191.5" y2="24.1" stroke="#6a6a6a" stroke-width="1.0" />
<line x1="196.5" y1="24.1" x2="202.9" y2="24.1" stroke="#6a6a6a" stroke-width="1.0" />
<line x1="204.5" y1="24.1" x2="211.9" y2="24.1" stroke="#6a6a6a" stroke-width="1.0" />
<line x1="178.8" y1="27.5" x2="180.6" y2="27.5" stroke="#6a6a6a" stroke-width="1.0" />
<line x1="182.5" y1="27.5" x2="183.9" y2="27.5" stroke="#6a6a6a" stroke-width="1.0" />
<line x1="186.0" y1="27.5" x2="187.7" y2="27.5" stroke="#6a6a6a" stroke-width="1.0" />
<line x1="189.0" y1="27.5" x2="190.5" y2="27.5" stroke="#6a6a6a" stroke-width="1.0" />
<line x1="196.5" y1="27.5" x2="202.9" y2="27.5" stroke="#6a6a6a" stroke-width="1.0" />
<line x1="178.8" y1="30.9" x2="180.5" y2="30.9" stroke="#6a6a6a" stroke-width="1.0" />
<line x1="182.5" y1="30.9" x2="184.1" y2="30.9" stroke="#6a6a6a" stroke-width="1.0" />
<line x1="186.0" y1="30.9" x2="187.2" y2="30.9" stroke="#6a6a6a" stroke-width="1.0" />
<line x1="189.0" y1="30.9" x2="190.6" y2="30.9" stroke="#6a6a6a" stroke-width="1.0" />
<line x1="178.8" y1="34.3" x2="180.5" y2="34.3" stroke="#6a6a6a" stroke-width="1.0" />
<line x1="186.0" y1="34.3" x2="187.4" y2="34.3" stroke="#6a6a6a" stroke-width="1.0" />
<line x1="189.0" y1="34.3" x2="190.7" y2="34.3" stroke="#6a6a6a" stroke-width="1.0" />
<line x1="196.5" y1="34.3" x2="201.8" y2="34.3" stroke="#6a6a6a" stroke-width="1.0" />
<line x1="204.5" y1="34.3" x2="211.3" y2="34.3" stroke="#6a6a6a" stroke-width="1.0" />
<line x1="178.8" y1="37.7" x2="180.5" y2="37.7" stroke="#6a6a6a" stroke-width="1.0" />
<line x1="182.5" y1="37.7" x2="184.2" y2="37.7" stroke="#6a6a6a" stroke-width="1.0" />
<line x1="186.0" y1="37.7" x2="187.0" y2="37.7" stroke="#6a6a6a" stroke-width="1.0" />
<line x1="189.0" y1="37.7" x2="190.5" y2="37.7" stroke="#6a6a6a" stroke-width="1.0" />
<line x1="196.5" y1="37.7" x2="201.9" y2="37.7" stroke="#6a6a6a" stroke-width="1.0" />
<line x1="178.8" y1="41.1" x2="181.1" y2="41.1" stroke="#6a6a6a" stroke-width="1.0" />
<line x1="186.0" y1="41.1" x2="187.3" y2="41.1" stroke="#6a6a6a" stroke-width="1.0" />
<line x1="196.5" y1="41.1" x2="202.5" y2="41.1" stroke="#6a6a6a" stroke-width="1.0" />
<line x1="204.5" y1="41.1" x2="209.2" y2="41.1" stroke="#6a6a6a" stroke-width="1.0" />
<line x1="186.0" y1="44.5" x2="187.7" y2="44.5" stroke="#6a6a6a" stroke-width="1.0" />
<line x1="196.5" y1="44.5" x2="201.8" y2="44.5" stroke="#6a6a6a" stroke-width="1.0" />
<line x1="204.5" y1="44.5" x2="212.8" y2="44.5" stroke="#6a6a6a" stroke-width="1.0" />
<line x1="186.0" y1="47.9" x2="187.9" y2="47.9" stroke="#6a6a6a" stroke-width="1.0" />
<line x1="189.0" y1="47.9" x2="191.1" y2="47.9" stroke="#6a6a6a" stroke-width="1.0" />
<line x1="196.5" y1="47.9" x2="200.1" y2="47.9" stroke="#6a6a6a" stroke-width="1.0" />
<line x1="204.5" y1="47.9" x2="210.6" y2="47.9" stroke="#6a6a6a" stroke-width="1.0" />
<line x1="178.8" y1="51.3" x2="181.3" y2="51.3" stroke="#6a6a6a" stroke-width="1.0" />
<line x1="182.5" y1="51.3" x2="184.5" y2="51.3" stroke="#6a6a6a" stroke-width="1.0" />
<line x1="186.0" y1="51.3" x2="187.7" y2="51.3" stroke="#6a6a6a" stroke-width="1.0" />
<line x1="189.0" y1="51.3" x2="190.3" y2="51.3" stroke="#6a6a6a" stroke-width="1.0" />
<line x1="204.5" y1="51.3" x2="211.3" y2="51.3" stroke="#6a6a6a" stroke-width="1.0" />
<line x1="178.8" y1="54.7" x2="181.0" y2="54.7" stroke="#6a6a6a" stroke-width="1.0" />
<line x1="182.5" y1="54.7" x2="184.7" y2="54.7" stroke="#6a6a6a" stroke-width="1.0" />
<line x1="186.0" y1="54.7" x2="187.1" y2="54.7" stroke="#6a6a6a" stroke-width="1.0" />
<line x1="189.0" y1="54.7" x2="191.2" y2="54.7" stroke="#6a6a6a" stroke-width="1.0" />
<line x1="196.5" y1="54.7" x2="202.6" y2="54.7" stroke="#6a6a6a" stroke-width="1.0" />
<line x1="178.8" y1="58.1" x2="180.7" y2="58.1" stroke="#6a6a6a" stroke-width="1.0" />
<line x1="182.5" y1="58.1" x2="184.6" y2="58.1" stroke="#6a6a6a" stroke-width="1.0" />
<line x1="189.0" y1="58.1" x2="191.1" y2="58.1" stroke="#6a6a6a" stroke-width="1.0" />
<line x1="196.5" y1="58.1" x2="200.5" y2="58.1" stroke="#6a6a6a" stroke-width="1.0" />
<line x1="204.5" y1="58.1" x2="212.3" y2="58.1" stroke="#6a6a6a" stroke-width="1.0" />
<line x1="178.8" y1="61.5" x2="180.9" y2="61.5" stroke="#6a6a6a" stroke-width="1.0" />
<line x1="182.5" y1="61.5" x2="183.8" y2="61.5" stroke="#6a6a6a" stroke-width="1.0" />
<line x1="186.0" y1="61.5" x2="187.7" y2="61.5" stroke="#6a6a6a" stroke-width="1.0" />
<line x1="189.0" y1="61.5" x2="191.1" y2="61.5" stroke="#6a6a6a" stroke-width="1.0" />
<line x1="196.5" y1="61.5" x2="201.8" y2="61.5" stroke="#6a6a6a" stroke-width="1.0" />
<line x1="204.5" y1="61.5" x2="211.1" y2="61.5" stroke="#6a6a6a" stroke-width="1.0" />
<line x1="178.8" y1="64.9" x2="181.4" y2="64.9" stroke="#6a6a6a" stroke-width="1.0" />
<line x1="182.5" y1="64.9" x2="185.0" y2="64.9" stroke="#6a6a6a" stroke-width="1.0" />
<line x1="189.0" y1="64.9" x2="190.8" y2="64.9" stroke="#6a6a6a" stroke-width="1.0" />
<line x1="178.8" y1="68.3" x2="180.5" y2="68.3" stroke="#6a6a6a" stroke-width="1.0" />
<line x1="182.5" y1="68.3" x2="184.9" y2="68.3" stroke="#6a6a6a" stroke-width="1.0" />
<line x1="186.0" y1="68.3" x2="187.6" y2="68.3" stroke="#6a6a6a" stroke-width="1.0" />
<line x1="189.0" y1="68.3" x2="190.9" y2="68.3" stroke="#6a6a6a" stroke-width="1.0" />
<line x1="204.5" y1="68.3" x2="212.7" y2="68.3" stroke="#6a6a6a" stroke-width="1.0" />
<line x1="178.8" y1="71.7" x2="181.3" y2="71.7" stroke="#6a6a6a" stroke-width="1.0" />
<line x1="182.5" y1="71.7" x2="184.0" y2="71.7" stroke="#6a6a6a" stroke-width="1.0" />
<line x1="189.0" y1="71.7" x2="190.3" y2="71.7" stroke="#6a6a6a" stroke-width="1.0" />
<line x1="196.5" y1="71.7" x2="201.7" y2="71.7" stroke="#6a6a6a" stroke-width="1.0" />
<line x1="204.5" y1="71.7" x2="210.4" y2="71.7" stroke="#6a6a6a" stroke-width="1.0" />
<line x1="178.8" y1="75.1" x2="180.6" y2="75.1" stroke="#6a6a6a" stroke-width="1.0" />
<line x1="182.5" y1="75.1" x2="184.8" y2="75.1" stroke="#6a6a6a" stroke-width="1.0" />
<line x1="186.0" y1="75.1" x2="187.8" y2="75.1" stroke="#6a6a6a" stroke-width="1.0" />
<line x1="196.5" y1="75.1" x2="203.2" y2="75.1" stroke="#6a6a6a" stroke-width="1.0" />
<line x1="204.5" y1="75.1" x2="213.1" y2="75.1" stroke="#6a6a6a" stroke-width="1.0" />
<line x1="178.8" y1="78.5" x2="180.7" y2="78.5" stroke="#6a6a6a" stroke-width="1.0" />
<line x1="182.5" y1="78.5" x2="185.0" y2="78.5" stroke="#6a6a6a" stroke-width="1.0" />
<line x1="186.0" y1="78.5" x2="187.4" y2="78.5" stroke="#6a6a6a" stroke-width="1.0" />
<line x1="189.0" y1="78.5" x2="190.6" y2="78.5" stroke="#6a6a6a" stroke-width="1.0" />
<line x1="196.5" y1="78.5" x2="200.4" y2="78.5" stroke="#6a6a6a" stroke-width="1.0" />
<line x1="178.8" y1="81.9" x2="181.4" y2="81.9" stroke="#6a6a6a" stroke-width="1.0" />
<line x1="182.5" y1="81.9" x2="184.1" y2="81.9" stroke="#6a6a6a" stroke-width="1.0" />
<line x1="186.0" y1="81.9" x2="187.2" y2="81.9" stroke="#6a6a6a" stroke-width="1.0" />
<line x1="189.0" y1="81.9" x2="191.4" y2="81.9" stroke="#6a6a6a" stroke-width="1.0" />
<line x1="189.5" y1="92.6" x2="191.6" y2="92.6" stroke="#6a6a6a" stroke-width="1.0" />
<line x1="196.5" y1="92.6" x2="203.0" y2="92.6" stroke="#6a6a6a" stroke-width="1.0" />
<line x1="205.5" y1="92.6" x2="213.8" y2="92.6" stroke="#6a6a6a" stroke-width="1.0" />
<line x1="178.8" y1="95.8" x2="180.2" y2="95.8" stroke="#6a6a6a" stroke-width="1.0" />
<line x1="186.0" y1="95.8" x2="187.8" y2="95.8" stroke="#6a6a6a" stroke-width="1.0" />
<line x1="189.5" y1="95.8" x2="191.1" y2="95.8" stroke="#6a6a6a" stroke-width="1.0" />
<line x1="216.5" y1="95.8" x2="223.5" y2="95.8" stroke="#6a6a6a" stroke-width="1.0" />
<line x1="178.8" y1="99.0" x2="180.9" y2="99.0" stroke="#6a6a6a" stroke-width="1.0" />
<line x1="182.5" y1="99.0" x2="184.0" y2="99.0" stroke="#6a6a6a" stroke-width="1.0" />
<line x1="186.0" y1="99.0" x2="187.5" y2="99.0" stroke="#6a6a6a" stroke-width="1.0" />
<line x1="196.5" y1="99.0" x2="201.1" y2="99.0" stroke="#6a6a6a" stroke-width="1.0" />
<line x1="178.8" y1="102.2" x2="180.3" y2="102.2" stroke="#6a6a6a" stroke-width="1.0" />
<line x1="182.5" y1="102.2" x2="183.9" y2="102.2" stroke="#6a6a6a" stroke-width="1.0" />
<line x1="186.0" y1="102.2" x2="187.4" y2="102.2" stroke="#6a6a6a" stroke-width="1.0" />
<line x1="189.5" y1="102.2" x2="191.1" y2="102.2" stroke="#6a6a6a" stroke-width="1.0" />
<line x1="196.5" y1="102.2" x2="203.6" y2="102.2" stroke="#6a6a6a" stroke-width="1.0" />
<line x1="216.5" y1="102.2" x2="222.5" y2="102.2" stroke="#6a6a6a" stroke-width="1.0" />
<line x1="178.8" y1="105.4" x2="180.7" y2="105.4" stroke="#6a6a6a" stroke-width="1.0" />
<line x1="182.5" y1="105.4" x2="183.8" y2="105.4" stroke="#6a6a6a" stroke-width="1.0" />
<line x1="186.0" y1="105.4" x2="188.5" y2="105.4" stroke="#6a6a6a" stroke-width="1.0" />
<line x1="189.5" y1="105.4" x2="191.4" y2="105.4" stroke="#6a6a6a" stroke-width="1.0" />
<line x1="216.5" y1="105.4" x2="221.9" y2="105.4" stroke="#6a6a6a" stroke-width="1.0" />
<line x1="178.8" y1="108.6" x2="180.7" y2="108.6" stroke="#6a6a6a" stroke-width="1.0" />
<line x1="182.5" y1="108.6" x2="184.9" y2="108.6" stroke="#6a6a6a" stroke-width="1.0" />
<line x1="196.5" y1="108.6" x2="200.4" y2="108.6" stroke="#6a6a6a" stroke-width="1.0" />
<line x1="178.8" y1="111.8" x2="180.9" y2="111.8" stroke="#6a6a6a" stroke-width="1.0" />
<line x1="182.5" y1="111.8" x2="184.2" y2="111.8" stroke="#6a6a6a" stroke-width="1.0" />
<line x1="216.5" y1="111.8" x2="221.2" y2="111.8" stroke="#6a6a6a" stroke-width="1.0" />
<line x1="178.8" y1="115.0" x2="180.9" y2="115.0" stroke="#6a6a6a" stroke-width="1.0" />
<line x1="216.5" y1="115.0" x2="223.1" y2="115.0" stroke="#6a6a6a" stroke-width="1.0" />
<line x1="178.8" y1="118.2" x2="181.2" y2="118.2" stroke="#6a6a6a" stroke-width="1.0" />
<line x1="182.5" y1="118.2" x2="184.9" y2="118.2" stroke="#6a6a6a" stroke-width="1.0" />
<line x1="189.5" y1="118.2" x2="190.9" y2="118.2" stroke="#6a6a6a" stroke-width="1.0" />
<line x1="196.5" y1="118.2" x2="202.6" y2="118.2" stroke="#6a6a6a" stroke-width="1.0" />
<line x1="216.5" y1="118.2" x2="221.0" y2="118.2" stroke="#6a6a6a" stroke-width="1.0" />
<line x1="178.8" y1="121.4" x2="180.9" y2="121.4" stroke="#6a6a6a" stroke-width="1.0" />
<line x1="182.5" y1="121.4" x2="184.0" y2="121.4" stroke="#6a6a6a" stroke-width="1.0" />
<line x1="189.5" y1="121.4" x2="191.1" y2="121.4" stroke="#6a6a6a" stroke-width="1.0" />
<line x1="196.5" y1="121.4" x2="203.8" y2="121.4" stroke="#6a6a6a" stroke-width="1.0" />
<line x1="178.0" y1="208.2" x2="227.0" y2="208.2" stroke="#777" stroke-width="0.6" />
</g>
<polygon points="238,34 277,52 277,207 238,225" fill="#cdeaf8" stroke="#9fd3ee" stroke-width="1.2"/>
<text x="264.0" y="198.0" font-size="20" fill="#1a1a1a" text-anchor="start" font-weight="normal" font-family='"Liberation Sans", sans-serif' font-style="normal" textLength="138" lengthAdjust="spacingAndGlyphs" transform="rotate(-90 264.0 198.0)" >Faster-RCNN</text>
<line x1="227.0" y1="131.0" x2="238.0" y2="131.0" stroke="#a6a6a6" stroke-width="3" />
<line x1="277.0" y1="131.0" x2="290.0" y2="131.0" stroke="#a6a6a6" stroke-width="3" />
<polygon points="300.0,131.0 289.0,137.5 289.0,124.5" fill="#a6a6a6"/>
<text x="0" y="0" font-size="13.12" fill="#e3a272" text-anchor="start" font-weight="normal" font-family='"Liberation Sans", sans-serif' font-style="normal" textLength="149.5" lengthAdjust="spacingAndGlyphs" transform="matrix(1 0 0 1.1497770734851742 353.90 20.20)" >Scene Graph Initialization</text>
<text x="321.4" y="197.6" font-size="21" fill="#e3945f" text-anchor="start" font-weight="normal" font-family='"Liberation Sans", sans-serif' font-style="normal" textLength="148" lengthAdjust="spacingAndGlyphs" transform="rotate(-90 321.4 197.6)" >Scene Graph</text>
<rect x="331.0" y="28.9" width="190.5" height="198.5" rx="25" ry="30.0" fill="none" stroke="#e08445" stroke-width="2.9" stroke-dasharray="10.8 8.8" />
<ellipse cx="386.2" cy="129.2" rx="36.3" ry="96.5" fill="none" stroke="#c6ccd2" stroke-width="1.2" transform="rotate(-21.5 386.2 129.2)" />
<ellipse cx="478.3" cy="126.2" rx="32.3" ry="93" fill="none" stroke="#c6ccd2" stroke-width="1.2" transform="rotate(9.5 478.3 126.2)" />
<line x1="376.7" y1="84.9" x2="484.7" y2="77.1" stroke="#edb78f" stroke-width="1.7" stroke-dasharray="5 4" />
<line x1="376.7" y1="84.9" x2="355.3" y2="108.0" stroke="#edb78f" stroke-width="1.7" stroke-dasharray="5 4" />
<line x1="376.7" y1="84.9" x2="410.7" y2="121.3" stroke="#edb78f" stroke-width="1.7" stroke-dasharray="5 4" />
<line x1="355.3" y1="108.0" x2="410.7" y2="121.3" stroke="#edb78f" stroke-width="1.7" stroke-dasharray="5 4" />
<line x1="355.3" y1="108.0" x2="384.6" y2="140.7" stroke="#edb78f" stroke-width="1.7" stroke-dasharray="5 4" />
<line x1="355.3" y1="108.0" x2="385.4" y2="185.6" stroke="#edb78f" stroke-width="1.7" stroke-dasharray="5 4" />
<line x1="410.7" y1="121.3" x2="384.6" y2="140.7" stroke="#edb78f" stroke-width="1.7" stroke-dasharray="5 4" />
<line x1="410.7" y1="121.3" x2="454.3" y2="125.4" stroke="#edb78f" stroke-width="1.7" stroke-dasharray="5 4" />
<line x1="384.6" y1="140.7" x2="385.4" y2="185.6" stroke="#edb78f" stroke-width="1.7" stroke-dasharray="5 4" />
<line x1="384.6" y1="140.7" x2="419.5" y2="192.7" stroke="#edb78f" stroke-width="1.7" stroke-dasharray="5 4" />
<line x1="385.4" y1="185.6" x2="419.5" y2="192.7" stroke="#edb78f" stroke-width="1.7" stroke-dasharray="5 4" />
<line x1="419.5" y1="192.7" x2="463.8" y2="193.8" stroke="#edb78f" stroke-width="1.7" stroke-dasharray="5 4" />
<line x1="484.7" y1="77.1" x2="454.3" y2="125.4" stroke="#edb78f" stroke-width="1.7" stroke-dasharray="5 4" />
<line x1="484.7" y1="77.1" x2="501.0" y2="124.9" stroke="#edb78f" stroke-width="1.7" stroke-dasharray="5 4" />
<line x1="454.3" y1="125.4" x2="501.0" y2="124.9" stroke="#edb78f" stroke-width="1.7" stroke-dasharray="5 4" />
<line x1="454.3" y1="125.4" x2="480.4" y2="153.4" stroke="#edb78f" stroke-width="1.7" stroke-dasharray="5 4" />
<line x1="454.3" y1="125.4" x2="463.8" y2="193.8" stroke="#edb78f" stroke-width="1.7" stroke-dasharray="5 4" />
<line x1="480.4" y1="153.4" x2="501.0" y2="124.9" stroke="#edb78f" stroke-width="1.7" stroke-dasharray="5 4" />
<line x1="480.4" y1="153.4" x2="463.8" y2="193.8" stroke="#edb78f" stroke-width="1.7" stroke-dasharray="5 4" />
<line x1="384.2" y1="85.5" x2="387.7" y2="87.5" stroke="#eeb690" stroke-width="1.3" />
<line x1="384.2" y1="85.5" x2="387.3" y2="82.9" stroke="#eeb690" stroke-width="1.3" />
<line x1="391.5" y1="137.0" x2="395.5" y2="136.7" stroke="#eeb690" stroke-width="1.3" />
<line x1="391.5" y1="137.0" x2="392.6" y2="133.1" stroke="#eeb690" stroke-width="1.3" />
<line x1="496.0" y1="131.0" x2="492.2" y2="132.4" stroke="#eeb690" stroke-width="1.3" />
<line x1="496.0" y1="131.0" x2="496.0" y2="135.0" stroke="#eeb690" stroke-width="1.3" />
<line x1="404.5" y1="112.5" x2="403.8" y2="108.6" stroke="#eeb690" stroke-width="1.3" />
<line x1="404.5" y1="112.5" x2="400.6" y2="111.8" stroke="#eeb690" stroke-width="1.3" />
<line x1="385.4" y1="185.6" x2="387.5" y2="290.0" stroke="#9fcd80" stroke-width="1.6" stroke-dasharray="8 8" />
<line x1="419.5" y1="192.7" x2="405.6" y2="322.0" stroke="#9fcd80" stroke-width="1.6" stroke-dasharray="8 8" />
<line x1="463.8" y1="193.8" x2="489.0" y2="305.0" stroke="#9fcd80" stroke-width="1.6" stroke-dasharray="8 8" />
<line x1="501.0" y1="124.9" x2="455.0" y2="290.0" stroke="#9fcd80" stroke-width="1.6" stroke-dasharray="8 8" />
<rect x="369.5" y="76.1" width="14.4" height="17.6" rx="0" ry="0.0" fill="#ebaa7c" stroke="none" stroke-width="1" />
<rect x="348.1" y="99.2" width="14.4" height="17.6" rx="0" ry="0.0" fill="#ebaa7c" stroke="none" stroke-width="1" />
<rect x="403.5" y="112.5" width="14.4" height="17.6" rx="0" ry="0.0" fill="#ebaa7c" stroke="none" stroke-width="1" />
<rect x="377.4" y="131.9" width="14.4" height="17.6" rx="0" ry="0.0" fill="#ebaa7c" stroke="none" stroke-width="1" />
<rect x="378.2" y="176.8" width="14.4" height="17.6" rx="0" ry="0.0" fill="#ebaa7c" stroke="none" stroke-width="1" />
<rect x="412.3" y="183.9" width="14.4" height="17.6" rx="0" ry="0.0" fill="#ebaa7c" stroke="none" stroke-width="1" />
<ellipse cx="484.7" cy="77.1" rx="7.2" ry="8.7" fill="#ebaa7c" stroke="none" stroke-width="1" />
<ellipse cx="454.3" cy="125.4" rx="7.2" ry="8.7" fill="#ebaa7c" stroke="none" stroke-width="1" />
<ellipse cx="501.0" cy="124.9" rx="7.2" ry="8.7" fill="#ebaa7c" stroke="none" stroke-width="1" />
<ellipse cx="480.4" cy="153.4" rx="7.2" ry="8.7" fill="#ebaa7c" stroke="none" stroke-width="1" />
<ellipse cx="463.8" cy="193.8" rx="7.2" ry="8.7" fill="#ebaa7c" stroke="none" stroke-width="1" />
<path d="M344.00,64.00 C344.60,65.20 345.80,64.60 346.50,62.20 L349.30,50.80" fill="none" stroke="#e3a070" stroke-width="0.9" stroke-linecap="round"/>
<path d="M349.30,50.80 L353.90,64.00" fill="none" stroke="#e3a070" stroke-width="1.7" stroke-linecap="round"/>
<path d="M353.90,64.00 L358.10,51.00 C358.50,49.70 359.30,49.30 359.70,49.50" fill="none" stroke="#e3a070" stroke-width="0.9" stroke-linecap="round"/>
<path d="M472.00,60.31 C472.61,61.50 473.83,60.90 474.53,58.52 L477.37,47.19" fill="none" stroke="#e3a070" stroke-width="0.9" stroke-linecap="round"/>
<path d="M477.37,47.19 L482.03,60.31" fill="none" stroke="#e3a070" stroke-width="1.7" stroke-linecap="round"/>
<path d="M482.03,60.31 L486.28,47.39 C486.69,46.10 487.50,45.70 487.90,45.90" fill="none" stroke="#e3a070" stroke-width="0.9" stroke-linecap="round"/>
<text x="0" y="0" font-size="8.26" fill="#e3a070" font-family='"Liberation Sans", sans-serif' font-weight="bold" textLength="13.6" lengthAdjust="spacingAndGlyphs" transform="matrix(1 0 0 1.2 360.70 56.30)">unk</text>
<text x="0" y="0" font-size="9.57" fill="#e3a070" font-family='"Liberation Serif", serif' font-weight="normal" textLength="11.7" lengthAdjust="spacingAndGlyphs" transform="matrix(1 0 0 1.2 360.30 67.30)">SE</text>
<text x="0" y="0" font-size="8.26" fill="#e3a070" font-family='"Liberation Sans", sans-serif' font-weight="bold" textLength="13.3" lengthAdjust="spacingAndGlyphs" transform="matrix(1 0 0 1.2 488.75 52.50)">unk</text>
<text x="0" y="0" font-size="9.94" fill="#e3a070" font-family='"Liberation Serif", serif' font-weight="normal" textLength="12" lengthAdjust="spacingAndGlyphs" transform="matrix(1 0 0 1.2 488.00 63.75)">SP</text>
<path d="M435.11,93.50 C434.11,91.10 428.36,90.70 427.76,94.50 C427.36,97.10 429.75,98.50 431.73,98.70 C426.57,98.50 423.39,100.90 423.59,103.90 C423.79,107.70 430.54,108.50 434.31,104.50" fill="none" stroke="#e0894f" stroke-width="1.5" stroke-linecap="round"/>
<text x="0" y="0" font-size="14.10" fill="#e0894f" font-family='"Liberation Serif", serif' font-weight="normal" textLength="8" lengthAdjust="spacingAndGlyphs" transform="matrix(1 0 0 1.2 436.00 113.80)">S</text>
<text x="0" y="0" font-size="13.04" fill="#9ccb7b" text-anchor="start" font-weight="normal" font-family='"Liberation Sans", sans-serif' font-style="normal" textLength="116" lengthAdjust="spacingAndGlyphs" transform="matrix(1 0 0 1.199532544307455 264.10 250.70)" >Bridging Knowledge</text>
<path d="M435.81,239.97 C434.81,237.69 429.06,237.31 428.46,240.93 C428.06,243.40 430.45,244.73 432.43,244.92 C427.27,244.73 424.09,247.02 424.29,249.87 C424.49,253.49 431.24,254.25 435.01,250.44" fill="none" stroke="#8fc070" stroke-width="1.5" stroke-linecap="round"/>
<text x="0" y="0" font-size="13.60" fill="#8fc070" font-family='"Liberation Serif", serif' font-weight="normal" textLength="8.3" lengthAdjust="spacingAndGlyphs" transform="matrix(1 0 0 1.2 436.70 258.30)">B</text>
<text x="321.4" y="457.2" font-size="21" fill="#8fb5e2" text-anchor="start" font-weight="normal" font-family='"Liberation Sans", sans-serif' font-style="normal" textLength="192.6" lengthAdjust="spacingAndGlyphs" transform="rotate(-90 321.4 457.2)" >Hierarchical KG</text>
<rect x="331.0" y="264.5" width="192.5" height="200.0" rx="25" ry="30.0" fill="none" stroke="#77a5da" stroke-width="2.9" stroke-dasharray="10.8 8.8" />
<text x="0" y="0" font-size="13.18" fill="#9dbde6" text-anchor="start" font-weight="normal" font-family='"Liberation Sans", sans-serif' font-style="normal" textLength="170" lengthAdjust="spacingAndGlyphs" transform="matrix(1 0 0 1.165239638103845 341.00 483.70)" >Hierarchical KG Construction</text>
<ellipse cx="378.0" cy="329.5" rx="41" ry="57.5" fill="none" stroke="#cdc8c4" stroke-width="1.2" />
<ellipse cx="471.2" cy="328.3" rx="43.2" ry="57.7" fill="none" stroke="#cdc8c4" stroke-width="1.2" transform="rotate(-2 471.2 328.3)" />
<ellipse cx="380.0" cy="425.0" rx="27.1" ry="40.6" fill="none" stroke="#cdc8c4" stroke-width="1.2" transform="rotate(42 380.0 425.0)" />
<ellipse cx="467.8" cy="427.2" rx="36" ry="29.8" fill="none" stroke="#cdc8c4" stroke-width="1.2" transform="rotate(-35 467.8 427.2)" />
<line x1="387.5" y1="294.2" x2="349.8" y2="325.2" stroke="#a8c3e6" stroke-width="1.5" stroke-dasharray="5 4" />
<line x1="387.5" y1="294.2" x2="405.6" y2="330.6" stroke="#a8c3e6" stroke-width="1.5" stroke-dasharray="5 4" />
<line x1="387.5" y1="294.2" x2="383.6" y2="364.8" stroke="#a8c3e6" stroke-width="1.5" stroke-dasharray="5 4" />
<line x1="387.5" y1="294.2" x2="450.0" y2="297.0" stroke="#a8c3e6" stroke-width="1.5" stroke-dasharray="5 4" />
<line x1="349.8" y1="325.2" x2="405.6" y2="330.6" stroke="#a8c3e6" stroke-width="1.5" stroke-dasharray="5 4" />
<line x1="349.8" y1="325.2" x2="383.6" y2="364.8" stroke="#a8c3e6" stroke-width="1.5" stroke-dasharray="5 4" />
<line x1="349.8" y1="325.2" x2="372.8" y2="416.1" stroke="#a8c3e6" stroke-width="1.5" stroke-dasharray="5 4" />
<line x1="405.6" y1="330.6" x2="383.6" y2="364.8" stroke="#a8c3e6" stroke-width="1.5" stroke-dasharray="5 4" />
<line x1="405.6" y1="330.6" x2="399.3" y2="418.5" stroke="#a8c3e6" stroke-width="1.5" stroke-dasharray="5 4" />
<line x1="405.6" y1="330.6" x2="444.8" y2="342.3" stroke="#a8c3e6" stroke-width="1.5" stroke-dasharray="5 4" />
<line x1="383.6" y1="364.8" x2="372.8" y2="416.1" stroke="#a8c3e6" stroke-width="1.5" stroke-dasharray="5 4" />
<line x1="383.6" y1="364.8" x2="399.3" y2="418.5" stroke="#a8c3e6" stroke-width="1.5" stroke-dasharray="5 4" />
<line x1="450.0" y1="297.0" x2="491.1" y2="316.2" stroke="#a8c3e6" stroke-width="1.5" stroke-dasharray="5 4" />
<line x1="450.0" y1="297.0" x2="444.8" y2="342.3" stroke="#a8c3e6" stroke-width="1.5" stroke-dasharray="5 4" />
<line x1="450.0" y1="297.0" x2="493.8" y2="360.3" stroke="#a8c3e6" stroke-width="1.5" stroke-dasharray="5 4" />
<line x1="450.0" y1="297.0" x2="485.2" y2="425.1" stroke="#a8c3e6" stroke-width="1.5" stroke-dasharray="5 4" />
<line x1="444.8" y1="342.3" x2="491.1" y2="316.2" stroke="#a8c3e6" stroke-width="1.5" stroke-dasharray="5 4" />
<line x1="444.8" y1="342.3" x2="493.8" y2="360.3" stroke="#a8c3e6" stroke-width="1.5" stroke-dasharray="5 4" />
<line x1="491.1" y1="316.2" x2="493.8" y2="360.3" stroke="#a8c3e6" stroke-width="1.5" stroke-dasharray="5 4" />
<line x1="491.1" y1="316.2" x2="452.8" y2="415.2" stroke="#a8c3e6" stroke-width="1.5" stroke-dasharray="5 4" />
<line x1="444.8" y1="342.3" x2="452.8" y2="415.2" stroke="#a8c3e6" stroke-width="1.5" stroke-dasharray="5 4" />
<line x1="493.8" y1="360.3" x2="485.2" y2="425.1" stroke="#a8c3e6" stroke-width="1.5" stroke-dasharray="5 4" />
<rect x="380.5" y="285.5" width="14.0" height="17.4" rx="0" ry="0.0" fill="#a3c1e6" stroke="none" stroke-width="1" />
<rect x="342.8" y="316.5" width="14.0" height="17.4" rx="0" ry="0.0" fill="#a3c1e6" stroke="none" stroke-width="1" />
<rect x="398.6" y="321.9" width="14.0" height="17.4" rx="0" ry="0.0" fill="#a3c1e6" stroke="none" stroke-width="1" />
<rect x="376.6" y="356.1" width="14.0" height="17.4" rx="0" ry="0.0" fill="#a3c1e6" stroke="none" stroke-width="1" />
<rect x="365.8" y="407.4" width="14.0" height="17.4" rx="0" ry="0.0" fill="#a3c1e6" stroke="none" stroke-width="1" />
<rect x="392.3" y="409.8" width="14.0" height="17.4" rx="0" ry="0.0" fill="#a3c1e6" stroke="none" stroke-width="1" />
<ellipse cx="450.0" cy="297.0" rx="7.2" ry="9" fill="#a3c1e6" stroke="none" stroke-width="1" />
<ellipse cx="491.1" cy="316.2" rx="7.2" ry="9" fill="#a3c1e6" stroke="none" stroke-width="1" />
<ellipse cx="444.8" cy="342.3" rx="7.2" ry="9" fill="#a3c1e6" stroke="none" stroke-width="1" />
<ellipse cx="493.8" cy="360.3" rx="7.2" ry="9" fill="#a3c1e6" stroke="none" stroke-width="1" />
<ellipse cx="452.8" cy="415.2" rx="7.2" ry="9" fill="#a3c1e6" stroke="none" stroke-width="1" />
<ellipse cx="485.2" cy="425.1" rx="7.2" ry="9" fill="#a3c1e6" stroke="none" stroke-width="1" />
<path d="M349.31,295.80 C349.92,297.00 351.15,296.40 351.87,294.00 L354.74,282.60" fill="none" stroke="#8cadd8" stroke-width="0.9" stroke-linecap="round"/>
<path d="M354.74,282.60 L359.45,295.80" fill="none" stroke="#8cadd8" stroke-width="1.7" stroke-linecap="round"/>
<path d="M359.45,295.80 L363.76,282.80 C364.17,281.50 364.99,281.10 365.40,281.30" fill="none" stroke="#8cadd8" stroke-width="0.9" stroke-linecap="round"/>
<text x="0" y="0" font-size="8.94" fill="#9dbde6" font-family='"Liberation Serif", serif' font-weight="normal" textLength="13.5" lengthAdjust="spacingAndGlyphs" transform="matrix(1 0 0 1.2 364.00 299.60)">CE</text>
<path d="M458.61,291.91 C459.22,293.10 460.44,292.50 461.15,290.12 L464.00,278.79" fill="none" stroke="#8cadd8" stroke-width="0.9" stroke-linecap="round"/>
<path d="M464.00,278.79 L468.69,291.91" fill="none" stroke="#8cadd8" stroke-width="1.7" stroke-linecap="round"/>
<path d="M468.69,291.91 L472.97,278.99 C473.38,277.70 474.19,277.30 474.60,277.50" fill="none" stroke="#8cadd8" stroke-width="0.9" stroke-linecap="round"/>
<text x="0" y="0" font-size="9.44" fill="#9dbde6" font-family='"Liberation Serif", serif' font-weight="normal" textLength="12.1" lengthAdjust="spacingAndGlyphs" transform="matrix(1 0 0 1.2 472.90 295.40)">CP</text>
<path d="M353.67,444.90 C354.22,445.98 355.30,445.44 355.94,443.28 L358.47,433.02" fill="none" stroke="#8cadd8" stroke-width="0.9" stroke-linecap="round"/>
<path d="M358.47,433.02 L362.64,444.90" fill="none" stroke="#8cadd8" stroke-width="1.7" stroke-linecap="round"/>
<path d="M362.64,444.90 L366.45,433.20 C366.81,432.03 367.54,431.67 367.90,431.85" fill="none" stroke="#8cadd8" stroke-width="0.9" stroke-linecap="round"/>
<text x="0" y="0" font-size="9.44" fill="#9dbde6" font-family='"Liberation Serif", serif' font-weight="normal" textLength="21.6" lengthAdjust="spacingAndGlyphs" transform="matrix(1 0 0 1.2 368.70 448.50)">CXE</text>
<path d="M447.30,441.19 C447.91,442.40 449.13,441.80 449.83,439.37 L452.67,427.82" fill="none" stroke="#8cadd8" stroke-width="0.9" stroke-linecap="round"/>
<path d="M452.67,427.82 L457.33,441.19" fill="none" stroke="#8cadd8" stroke-width="1.7" stroke-linecap="round"/>
<path d="M457.33,441.19 L461.58,428.02 C461.99,426.71 462.80,426.30 463.20,426.51" fill="none" stroke="#8cadd8" stroke-width="0.9" stroke-linecap="round"/>
<text x="0" y="0" font-size="9.44" fill="#9dbde6" font-family='"Liberation Serif", serif' font-weight="normal" textLength="20.7" lengthAdjust="spacingAndGlyphs" transform="matrix(1 0 0 1.2 462.30 445.00)">CXP</text>
<path d="M427.20,369.70 C426.20,366.84 420.40,366.36 419.80,370.89 C419.40,374.00 421.80,375.67 423.80,375.90 C418.60,375.67 415.40,378.53 415.60,382.11 C415.80,386.64 422.60,387.59 426.40,382.82" fill="none" stroke="#7aa5da" stroke-width="1.5" stroke-linecap="round"/>
<text x="0" y="0" font-size="15.61" fill="#7aa5da" font-family='"Liberation Serif", serif' font-weight="normal" textLength="10.4" lengthAdjust="spacingAndGlyphs" transform="matrix(1 0 0 1.2 428.10 391.80)">C</text>
<text x="0" y="0" font-size="20.72" fill="#222" text-anchor="start" font-weight="normal" font-family='"Liberation Sans", sans-serif' font-style="normal" textLength="197" lengthAdjust="spacingAndGlyphs" transform="matrix(1 0 0 1.2132261063295806 15.50 260.40)" >Knowledge Database</text>
<rect x="8.3" y="272.3" width="212.7" height="200.2" rx="14" ry="16.8" fill="none" stroke="#d9d9d9" stroke-width="3" stroke-dasharray="8.3 2.95" />
<text x="0" y="0" font-size="20.07" fill="#2a2a2a" text-anchor="start" font-weight="normal" font-family='"Liberation Sans", sans-serif' font-style="normal" textLength="106" lengthAdjust="spacingAndGlyphs" transform="matrix(1 0 0 1.0784932053402025 73.70 302.00)" stroke="#2a2a2a" stroke-width="0.7">ConceptNet</text>
<text x="0" y="0" font-size="6.96" fill="#9a9a9a" text-anchor="start" font-weight="bold" font-family='"Liberation Sans", sans-serif' font-style="normal" textLength="130" lengthAdjust="spacingAndGlyphs" transform="matrix(1 0 0 1.2032995810055866 74.30 318.30)" >An open, multilingual knowledge graph</text>
<text x="0" y="0" font-size="20.12" fill="#2a2a2a" text-anchor="start" font-weight="normal" font-family='"Liberation Sans", sans-serif' font-style="normal" textLength="79" lengthAdjust="spacingAndGlyphs" transform="matrix(1 0 0 1.0761938357435825 73.70 366.00)" stroke="#2a2a2a" stroke-width="0.7">WordNet</text>
<text x="0" y="0" font-size="7.01" fill="#9a9a9a" text-anchor="start" font-weight="bold" font-family='"Liberation Sans", sans-serif' font-style="normal" textLength="115" lengthAdjust="spacingAndGlyphs" transform="matrix(1 0 0 1.1960184145008501 74.30 382.00)" >A large lexical database of English</text>
<text x="0" y="0" font-size="19.94" fill="#2a2a2a" text-anchor="start" font-weight="normal" font-family='"Liberation Sans", sans-serif' font-style="normal" textLength="136" lengthAdjust="spacingAndGlyphs" transform="matrix(1 0 0 1.085436542371837 73.70 427.50)" stroke="#2a2a2a" stroke-width="0.7">Visual Genome</text>
<text x="0" y="0" font-size="6.92" fill="#9a9a9a" text-anchor="start" font-weight="bold" font-family='"Liberation Sans", sans-serif' font-style="normal" textLength="97" lengthAdjust="spacingAndGlyphs" transform="matrix(1 0 0 1.2113109593676208 74.30 445.50)" >A knowledge base to connect</text>
<text x="0" y="0" font-size="6.91" fill="#9a9a9a" text-anchor="start" font-weight="bold" font-family='"Liberation Sans", sans-serif' font-style="normal" textLength="129" lengthAdjust="spacingAndGlyphs" transform="matrix(1 0 0 1.2128660111082241 74.30 456.00)" >structured image concepts to language</text>
<ellipse cx="34.0" cy="291.3" rx="5.1" ry="6.7" fill="#8ee3e3" stroke="#1d3436" stroke-width="1.3" />
<ellipse cx="54.3" cy="315.2" rx="5.3" ry="6.6" fill="#8ee3e3" stroke="#1d3436" stroke-width="1.3" />
<line x1="25.1" y1="322.0" x2="30.7" y2="303.6" stroke="#111" stroke-width="1.4" />
<polygon points="31.9,299.8 32.9,305.3 27.9,303.8" fill="#111"/>
<line x1="39.4" y1="297.2" x2="46.9" y2="305.7" stroke="#111" stroke-width="1.4" />
<polygon points="49.6,308.7 44.3,306.7 48.2,303.2" fill="#111"/>
<line x1="57.4" y1="306.9" x2="63.2" y2="288.3" stroke="#111" stroke-width="1.4" />
<polygon points="64.4,284.5 65.4,290.0 60.4,288.5" fill="#111"/>
<line x1="37.5" y1="350.7" x2="47.2" y2="349.4" stroke="#c9ccd6" stroke-width="0.7" />
<line x1="47.2" y1="349.4" x2="55.4" y2="355.1" stroke="#c9ccd6" stroke-width="0.7" />
<line x1="37.5" y1="350.7" x2="55.4" y2="355.1" stroke="#c9ccd6" stroke-width="0.7" />
<line x1="37.5" y1="350.7" x2="31.0" y2="356.0" stroke="#c9ccd6" stroke-width="0.7" />
<line x1="31.0" y1="356.0" x2="28.5" y2="363.7" stroke="#c9ccd6" stroke-width="0.7" />
<line x1="37.5" y1="350.7" x2="38.4" y2="359.5" stroke="#c9ccd6" stroke-width="0.7" />
<line x1="38.4" y1="359.5" x2="49.6" y2="358.7" stroke="#c9ccd6" stroke-width="0.7" />
<line x1="49.6" y1="358.7" x2="55.4" y2="355.1" stroke="#c9ccd6" stroke-width="0.7" />
<line x1="55.4" y1="355.1" x2="58.2" y2="364.8" stroke="#c9ccd6" stroke-width="0.7" />
<line x1="58.2" y1="364.8" x2="56.8" y2="375.8" stroke="#c9ccd6" stroke-width="0.7" />
<line x1="55.4" y1="355.1" x2="51.0" y2="368.9" stroke="#c9ccd6" stroke-width="0.7" />
<line x1="38.4" y1="359.5" x2="42.0" y2="372.7" stroke="#c9ccd6" stroke-width="0.7" />
<line x1="49.6" y1="358.7" x2="42.0" y2="372.7" stroke="#c9ccd6" stroke-width="0.7" />
<line x1="28.5" y1="363.7" x2="38.4" y2="359.5" stroke="#c9ccd6" stroke-width="0.7" />
<line x1="28.5" y1="363.7" x2="33.7" y2="368.3" stroke="#c9ccd6" stroke-width="0.7" />
<line x1="33.7" y1="368.3" x2="42.0" y2="372.7" stroke="#c9ccd6" stroke-width="0.7" />
<line x1="28.5" y1="363.7" x2="29.6" y2="377.7" stroke="#c9ccd6" stroke-width="0.7" />
<line x1="33.7" y1="368.3" x2="29.6" y2="377.7" stroke="#c9ccd6" stroke-width="0.7" />
<line x1="29.6" y1="377.7" x2="37.0" y2="379.3" stroke="#c9ccd6" stroke-width="0.7" />
<line x1="37.0" y1="379.3" x2="42.2" y2="385.9" stroke="#c9ccd6" stroke-width="0.7" />
<line x1="29.6" y1="377.7" x2="42.2" y2="385.9" stroke="#c9ccd6" stroke-width="0.7" />
<line x1="42.0" y1="372.7" x2="51.0" y2="368.9" stroke="#c9ccd6" stroke-width="0.7" />
<line x1="51.0" y1="368.9" x2="56.8" y2="375.8" stroke="#c9ccd6" stroke-width="0.7" />
<line x1="42.0" y1="372.7" x2="47.7" y2="378.8" stroke="#c9ccd6" stroke-width="0.7" />
<line x1="47.7" y1="378.8" x2="56.8" y2="375.8" stroke="#c9ccd6" stroke-width="0.7" />
<line x1="47.7" y1="378.8" x2="42.2" y2="385.9" stroke="#c9ccd6" stroke-width="0.7" />
<line x1="56.8" y1="375.8" x2="42.2" y2="385.9" stroke="#c9ccd6" stroke-width="0.7" />
<line x1="42.0" y1="372.7" x2="42.2" y2="385.9" stroke="#c9ccd6" stroke-width="0.7" />
<line x1="49.6" y1="358.7" x2="51.0" y2="368.9" stroke="#c9ccd6" stroke-width="0.7" />
<ellipse cx="47.2" cy="349.4" rx="1.1" ry="1.3" fill="#4a8ab8" stroke="none" stroke-width="1" />
<ellipse cx="31.0" cy="356.0" rx="1.1" ry="1.3" fill="#4a8ab8" stroke="none" stroke-width="1" />
<ellipse cx="38.4" cy="359.5" rx="1.1" ry="1.3" fill="#4a8ab8" stroke="none" stroke-width="1" />
<ellipse cx="49.6" cy="358.7" rx="1.1" ry="1.3" fill="#4a8ab8" stroke="none" stroke-width="1" />
<ellipse cx="58.2" cy="364.8" rx="1.1" ry="1.3" fill="#4a8ab8" stroke="none" stroke-width="1" />
<ellipse cx="33.7" cy="368.3" rx="1.1" ry="1.3" fill="#4a8ab8" stroke="none" stroke-width="1" />
<ellipse cx="51.0" cy="368.9" rx="1.1" ry="1.3" fill="#4a8ab8" stroke="none" stroke-width="1" />
<ellipse cx="37.0" cy="379.3" rx="1.1" ry="1.3" fill="#4a8ab8" stroke="none" stroke-width="1" />
<ellipse cx="47.7" cy="378.8" rx="1.1" ry="1.3" fill="#4a8ab8" stroke="none" stroke-width="1" />
<ellipse cx="37.5" cy="350.7" rx="2.2" ry="2.6" fill="#1f2a3a" stroke="none" stroke-width="1" />
<ellipse cx="55.4" cy="355.1" rx="2.2" ry="2.6" fill="#1f2a3a" stroke="none" stroke-width="1" />
<ellipse cx="29.6" cy="377.7" rx="2.2" ry="2.6" fill="#1f2a3a" stroke="none" stroke-width="1" />
<ellipse cx="42.2" cy="385.9" rx="2.2" ry="2.6" fill="#1f2a3a" stroke="none" stroke-width="1" />
<ellipse cx="28.5" cy="363.7" rx="3.2" ry="3.9" fill="#6fd0a2" stroke="none" stroke-width="1" />
<ellipse cx="42.0" cy="372.7" rx="4" ry="5" fill="#6fd0a2" stroke="none" stroke-width="1" />
<ellipse cx="56.8" cy="375.8" rx="3" ry="3.8" fill="#6fd0a2" stroke="none" stroke-width="1" />
<line x1="30.6" y1="420.0" x2="37.8" y2="431.1" stroke="#3a4a6a" stroke-width="1" />
<line x1="37.8" y1="431.1" x2="47.7" y2="426.0" stroke="#3a4a6a" stroke-width="1" />
<line x1="47.7" y1="426.0" x2="51.9" y2="414.6" stroke="#3a4a6a" stroke-width="1" />
<line x1="37.8" y1="431.1" x2="27.6" y2="436.5" stroke="#3a4a6a" stroke-width="1" />
<line x1="37.8" y1="431.1" x2="44.1" y2="442.2" stroke="#3a4a6a" stroke-width="1" />
<line x1="44.1" y1="442.2" x2="54.9" y2="436.5" stroke="#3a4a6a" stroke-width="1" />
<line x1="44.1" y1="442.2" x2="53.1" y2="450.6" stroke="#3a4a6a" stroke-width="1" />
<line x1="44.1" y1="442.2" x2="38.4" y2="454.8" stroke="#3a4a6a" stroke-width="1" />
<ellipse cx="30.6" cy="420.0" rx="2.6" ry="3.3" fill="#fff" stroke="#3a4050" stroke-width="0.9" />
<ellipse cx="51.9" cy="414.6" rx="2.6" ry="3.3" fill="#a6ece8" stroke="#3a4050" stroke-width="0.9" />
<ellipse cx="47.7" cy="426.0" rx="2.6" ry="3.3" fill="#fff" stroke="#3a4050" stroke-width="0.9" />
<ellipse cx="37.8" cy="431.1" rx="2.6" ry="3.3" fill="#a6ece8" stroke="#3a4050" stroke-width="0.9" />
<ellipse cx="27.6" cy="436.5" rx="2.6" ry="3.3" fill="#fff" stroke="#3a4050" stroke-width="0.9" />
<ellipse cx="44.1" cy="442.2" rx="2.6" ry="3.3" fill="#fff" stroke="#3a4050" stroke-width="0.9" />
<ellipse cx="54.9" cy="436.5" rx="2.6" ry="3.3" fill="#a6ece8" stroke="#3a4050" stroke-width="0.9" />
<ellipse cx="53.1" cy="450.6" rx="2.6" ry="3.3" fill="#fff" stroke="#3a4050" stroke-width="0.9" />
<ellipse cx="38.4" cy="454.8" rx="2.6" ry="3.3" fill="#a6ece8" stroke="#3a4050" stroke-width="0.9" />
<text x="0" y="0" font-size="18.96" fill="#1a1a1a" text-anchor="start" font-weight="normal" font-family='"Liberation Sans", sans-serif' font-style="normal" textLength="68.5" lengthAdjust="spacingAndGlyphs" transform="matrix(1 0 0 1.178612934795906 231.50 355.00)" >Initialize</text>
<line x1="225.8" y1="365.5" x2="293.8" y2="365.5" stroke="#a6a6a6" stroke-width="3" />
<polygon points="303.8,365.5 292.8,372.0 292.8,359.0" fill="#a6a6a6"/>
<polygon points="560.1,45.5 610.5,71 610.5,453.6 560.1,479.5" fill="#ebebeb"/>
<text x="584.0" y="418.0" font-size="21.5" fill="#111" text-anchor="start" font-weight="bold" font-family='"Liberation Sans", sans-serif' font-style="normal" textLength="310" lengthAdjust="spacingAndGlyphs" transform="rotate(-90 584.0 418.0)" >Hierarchical Graph Reasoning</text>
<text x="601.5" y="366.6" font-size="15" fill="#222" text-anchor="start" font-weight="normal" font-family='"Liberation Sans", sans-serif' font-style="normal" textLength="243.6" lengthAdjust="spacingAndGlyphs" transform="rotate(-90 601.5 366.6)" >(for each node in the scene graph)</text>
<line x1="528.5" y1="129.6" x2="545.4" y2="129.6" stroke="#a6a6a6" stroke-width="3" />
<polygon points="556.0,129.6 544.4,136.3 544.4,122.9" fill="#a6a6a6"/>
<line x1="528.3" y1="366.2" x2="544.6" y2="366.2" stroke="#a6a6a6" stroke-width="3" />
<polygon points="554.6,366.2 543.6,372.7 543.6,359.7" fill="#a6a6a6"/>
<line x1="615.6" y1="91.2" x2="648.5" y2="91.2" stroke="#a6a6a6" stroke-width="3" />
<polygon points="658.5,91.2 647.5,97.7 647.5,84.7" fill="#a6a6a6"/>
<ellipse cx="633.7" cy="75.8" rx="7.2" ry="9" fill="#f8e4a0" stroke="none" stroke-width="1" />
<line x1="615.6" y1="210.0" x2="678.0" y2="210.0" stroke="#a6a6a6" stroke-width="3" />
<polygon points="688.0,210.0 677.0,216.5 677.0,203.5" fill="#a6a6a6"/>
<ellipse cx="632.0" cy="194.0" rx="7.2" ry="9" fill="#f8e4a0" stroke="none" stroke-width="1" />
<ellipse cx="661.8" cy="194.0" rx="7.2" ry="9" fill="#dde4f2" stroke="none" stroke-width="1" />
<line x1="640.0" y1="194.0" x2="651.5" y2="194.0" stroke="#999" stroke-width="0.9" />
<polygon points="653.5,194.0 650.5,195.8 650.5,192.2" fill="#999"/>
<line x1="615.2" y1="330.7" x2="717.0" y2="330.7" stroke="#a6a6a6" stroke-width="3" />
<polygon points="727.0,330.7 716.0,337.2 716.0,324.2" fill="#a6a6a6"/>
<line x1="615.2" y1="437.5" x2="717.0" y2="437.5" stroke="#a6a6a6" stroke-width="3" />
<polygon points="727.0,437.5 716.0,444.0 716.0,431.0" fill="#a6a6a6"/>
<line x1="641.3" y1="316.5" x2="653.2" y2="316.5" stroke="#999" stroke-width="0.9" />
<polygon points="655.2,316.5 652.2,318.3 652.2,314.7" fill="#999"/>
<line x1="670.7" y1="316.5" x2="684.4" y2="316.5" stroke="#999" stroke-width="0.9" />
<polygon points="686.4,316.5 683.4,318.3 683.4,314.7" fill="#999"/>
<ellipse cx="633.3" cy="316.5" rx="7.2" ry="9" fill="#f8e4a0" stroke="none" stroke-width="1" />
<ellipse cx="662.7" cy="316.5" rx="7.2" ry="9" fill="#dde4f2" stroke="none" stroke-width="1" />
<ellipse cx="693.9" cy="316.5" rx="7.2" ry="9" fill="#f8dfcc" stroke="none" stroke-width="1" />
<line x1="641.3" y1="423.6" x2="653.2" y2="423.6" stroke="#999" stroke-width="0.9" />
<polygon points="655.2,423.6 652.2,425.4 652.2,421.8" fill="#999"/>
<line x1="670.7" y1="423.6" x2="684.4" y2="423.6" stroke="#999" stroke-width="0.9" />
<polygon points="686.4,423.6 683.4,425.4 683.4,421.8" fill="#999"/>
<ellipse cx="633.3" cy="423.6" rx="7.2" ry="9" fill="#f8e4a0" stroke="none" stroke-width="1" />
<ellipse cx="662.7" cy="423.6" rx="7.2" ry="9" fill="#dde4f2" stroke="none" stroke-width="1" />
<ellipse cx="693.9" cy="423.6" rx="7.2" ry="9" fill="#c9e4b8" stroke="none" stroke-width="1" />
<text x="0" y="0" font-size="14.71" fill="#1a1a1a" text-anchor="start" font-weight="normal" font-family='"Liberation Sans", sans-serif' font-style="normal" textLength="175" lengthAdjust="spacingAndGlyphs" transform="matrix(1 0 0 1.1961373952513965 675.90 34.30)" >Level-1 Inference (Coarse)</text>
<rect x="665.0" y="44.6" width="188.6" height="91.4" rx="5.5" ry="6.6" fill="none" stroke="#cdcdcd" stroke-width="2.6" stroke-dasharray="7.9 3.35" />
<rect x="673.4" y="52.0" width="14.5" height="78.4" rx="0" ry="0.0" fill="#f8e3a3" stroke="none" stroke-width="1" />
<text x="0" y="0" font-size="14.72" fill="#1a1a1a" text-anchor="start" font-weight="normal" font-family='"Liberation Sans", sans-serif' font-style="normal" textLength="54" lengthAdjust="spacingAndGlyphs" transform="matrix(1 0 0 1.1763858175563833 695.60 79.70)" >Softmax</text>
<line x1="691.8" y1="91.4" x2="747.4" y2="91.4" stroke="#a6a6a6" stroke-width="3" />
<polygon points="757.4,91.4 746.4,97.9 746.4,84.9" fill="#a6a6a6"/>
<rect x="761.0" y="52.9" width="15.3" height="18.5" rx="0" ry="0.0" fill="#fdefcc" stroke="#404040" stroke-width="1.3" />
<rect x="761.0" y="71.4" width="15.3" height="18.5" rx="0" ry="0.0" fill="#f4c645" stroke="#404040" stroke-width="1.3" />
<rect x="761.0" y="89.9" width="15.3" height="18.5" rx="0" ry="0.0" fill="#f9e2a2" stroke="#404040" stroke-width="1.3" />
<rect x="761.0" y="108.4" width="15.3" height="18.5" rx="0" ry="0.0" fill="#fffaf0" stroke="#404040" stroke-width="1.3" />
<line x1="823.0" y1="91.4" x2="791.9" y2="91.4" stroke="#a6a6a6" stroke-width="3" />
<polygon points="781.9,91.4 792.9,84.9 792.9,97.9" fill="#a6a6a6"/>
<path d="M801.90,72.10 C802.10,70.80 800.50,70.50 799.80,72.10 L797.50,79.00 C797.10,80.40 795.70,80.60 795.50,79.80 C795.70,78.90 797.40,79.20 798.40,79.90 C799.50,80.70 800.90,80.70 802.20,79.40" fill="none" stroke="#222" stroke-width="1.2" stroke-linecap="round"/>
<path d="M799.80,72.10 L797.50,79.00" fill="none" stroke="#222" stroke-width="1.7999999999999998" stroke-linecap="round"/>
<text x="0" y="0" font-size="6.55" fill="#333" font-family='"Liberation Serif", serif' font-weight="normal" textLength="13.9" lengthAdjust="spacingAndGlyphs" transform="matrix(1 0 0 1.2 803.80 82.90)">XP1</text>
<rect x="827.4" y="52.9" width="15.2" height="18.5" rx="0" ry="0.0" fill="#ffffff" stroke="#404040" stroke-width="1.3" />
<rect x="827.4" y="71.4" width="15.2" height="18.5" rx="0" ry="0.0" fill="#f4c645" stroke="#404040" stroke-width="1.3" />
<rect x="827.4" y="89.9" width="15.2" height="18.5" rx="0" ry="0.0" fill="#ffffff" stroke="#404040" stroke-width="1.3" />
<rect x="827.4" y="108.4" width="15.2" height="18.5" rx="0" ry="0.0" fill="#ffffff" stroke="#404040" stroke-width="1.3" />
<text x="0" y="0" font-size="12.50" fill="#555" text-anchor="start" font-weight="bold" font-family='"Liberation Serif", serif' font-style="normal" transform="matrix(1 0 0 1.2 778.70 126.40)" >P</text>
<text x="0" y="0" font-size="12.50" fill="#444" text-anchor="start" font-weight="normal" font-family='"Liberation Serif", serif' font-style="normal" transform="matrix(1 0 0 1.2 786.30 126.40)" >(</text>
<ellipse cx="795.3" cy="122.2" rx="4.3" ry="5.1" fill="#f8e4a0" stroke="none" stroke-width="1" />
<text x="0" y="0" font-size="12.50" fill="#444" text-anchor="start" font-weight="normal" font-family='"Liberation Serif", serif' font-style="normal" transform="matrix(1 0 0 1.2 799.30 126.40)" >)</text>
<line x1="799.0" y1="130.0" x2="828.0" y2="169.6" stroke="#f0d486" stroke-width="1.2" />
<polygon points="830.4,172.8 825.3,170.3 829.5,167.2" fill="#f0d486"/>
<text x="0" y="0" font-size="15.18" fill="#1a1a1a" text-anchor="start" font-weight="normal" font-family='"Liberation Sans", sans-serif' font-style="normal" textLength="216" lengthAdjust="spacingAndGlyphs" transform="matrix(1 0 0 1.1501268844241415 755.00 155.00)" >Level-2 Inference (Intermediate)</text>
<rect x="691.6" y="162.1" width="282.9" height="93.0" rx="5.5" ry="6.6" fill="none" stroke="#cdcdcd" stroke-width="2.6" stroke-dasharray="7.9 3.35" />
<rect x="701.2" y="169.9" width="14.4" height="77.5" rx="0" ry="0.0" fill="#dae3f3" stroke="none" stroke-width="1" />
<text x="0" y="0" font-size="14.72" fill="#1a1a1a" text-anchor="start" font-weight="normal" font-family='"Liberation Sans", sans-serif' font-style="normal" textLength="54" lengthAdjust="spacingAndGlyphs" transform="matrix(1 0 0 1.1763858175563833 722.60 199.00)" >Softmax</text>
<line x1="718.8" y1="209.9" x2="775.9" y2="209.9" stroke="#a6a6a6" stroke-width="3" />
<polygon points="785.9,209.9 774.9,216.4 774.9,203.4" fill="#a6a6a6"/>
<rect x="791.1" y="172.5" width="15.0" height="18.4" rx="0" ry="0.0" fill="#b9cfee" stroke="#404040" stroke-width="1.3" />
<rect x="791.1" y="190.9" width="15.0" height="18.4" rx="0" ry="0.0" fill="#9dbce5" stroke="#404040" stroke-width="1.3" />
<rect x="791.1" y="209.3" width="15.0" height="18.4" rx="0" ry="0.0" fill="#b2caeb" stroke="#404040" stroke-width="1.3" />
<rect x="791.1" y="227.7" width="15.0" height="18.4" rx="0" ry="0.0" fill="#d7e2f4" stroke="#404040" stroke-width="1.3" />
<ellipse cx="817.4" cy="209.9" rx="7.3" ry="9.198" fill="none" stroke="#111" stroke-width="1.6" />
<ellipse cx="817.4" cy="209.9" rx="1.9" ry="2.3" fill="#111" stroke="none" stroke-width="1" />
<rect x="829.8" y="200.9" width="15.5" height="18.1" rx="0" ry="0.0" fill="#fce9b2" stroke="#3a3a3a" stroke-width="1.3" />
<text x="0" y="0" font-size="12.50" fill="#555" text-anchor="start" font-weight="bold" font-family='"Liberation Serif", serif' font-style="normal" transform="matrix(1 0 0 1.2 825.70 190.50)" >P</text>
<text x="0" y="0" font-size="12.50" fill="#444" text-anchor="start" font-weight="normal" font-family='"Liberation Serif", serif' font-style="normal" transform="matrix(1 0 0 1.2 833.30 190.50)" >(</text>
<ellipse cx="842.3" cy="186.3" rx="4.3" ry="5.1" fill="#f8e4a0" stroke="none" stroke-width="1" />
<text x="0" y="0" font-size="12.50" fill="#444" text-anchor="start" font-weight="normal" font-family='"Liberation Serif", serif' font-style="normal" transform="matrix(1 0 0 1.2 846.30 190.50)" >)</text>
<text x="0" y="0" font-size="12.50" fill="#555" text-anchor="start" font-weight="bold" font-family='"Liberation Serif", serif' font-style="normal" transform="matrix(1 0 0 1.2 808.70 244.80)" >P</text>
<text x="0" y="0" font-size="12.50" fill="#444" text-anchor="start" font-weight="normal" font-family='"Liberation Serif", serif' font-style="normal" transform="matrix(1 0 0 1.2 816.30 244.80)" >(</text>
<ellipse cx="825.3" cy="240.6" rx="4.3" ry="5.1" fill="#dae3f3" stroke="none" stroke-width="1" />
<text x="0" y="0" font-size="12.50" fill="#444" text-anchor="start" font-weight="normal" font-family='"Liberation Serif", serif' font-style="normal" transform="matrix(1 0 0 1.2 829.40 245.30)" >|</text>
<ellipse cx="837.3" cy="240.6" rx="4.3" ry="5.1" fill="#f8e4a0" stroke="none" stroke-width="1" />
<text x="0" y="0" font-size="12.50" fill="#444" text-anchor="start" font-weight="normal" font-family='"Liberation Serif", serif' font-style="normal" transform="matrix(1 0 0 1.2 841.30 244.80)" >)</text>
<line x1="849.2" y1="209.9" x2="868.9" y2="209.9" stroke="#a6a6a6" stroke-width="3" />
<polygon points="878.9,209.9 867.9,216.4 867.9,203.4" fill="#a6a6a6"/>
<rect x="884.1" y="172.5" width="15.0" height="18.4" rx="0" ry="0.0" fill="#b9cfee" stroke="#404040" stroke-width="1.3" />
<rect x="884.1" y="190.9" width="15.0" height="18.4" rx="0" ry="0.0" fill="#9dbce5" stroke="#404040" stroke-width="1.3" />
<rect x="884.1" y="209.3" width="15.0" height="18.4" rx="0" ry="0.0" fill="#b2caeb" stroke="#404040" stroke-width="1.3" />
<rect x="884.1" y="227.7" width="15.0" height="18.4" rx="0" ry="0.0" fill="#d7e2f4" stroke="#404040" stroke-width="1.3" />
<line x1="946.0" y1="209.9" x2="914.7" y2="209.9" stroke="#a6a6a6" stroke-width="3" />
<polygon points="904.7,209.9 915.7,203.4 915.7,216.4" fill="#a6a6a6"/>
<path d="M924.60,191.20 C924.80,189.90 923.20,189.60 922.50,191.20 L920.20,198.10 C919.80,199.50 918.40,199.70 918.20,198.90 C918.40,198.00 920.10,198.30 921.10,199.00 C922.20,199.80 923.60,199.80 924.90,198.50" fill="none" stroke="#222" stroke-width="1.2" stroke-linecap="round"/>
<path d="M922.50,191.20 L920.20,198.10" fill="none" stroke="#222" stroke-width="1.7999999999999998" stroke-linecap="round"/>
<text x="0" y="0" font-size="6.55" fill="#333" font-family='"Liberation Serif", serif' font-weight="normal" textLength="14.7" lengthAdjust="spacingAndGlyphs" transform="matrix(1 0 0 1.2 926.30 202.00)">XP2</text>
<rect x="950.0" y="172.5" width="14.7" height="18.4" rx="0" ry="0.0" fill="#ffffff" stroke="#404040" stroke-width="1.3" />
<rect x="950.0" y="190.9" width="14.7" height="18.4" rx="0" ry="0.0" fill="#9dbce5" stroke="#404040" stroke-width="1.3" />
<rect x="950.0" y="209.3" width="14.7" height="18.4" rx="0" ry="0.0" fill="#ffffff" stroke="#404040" stroke-width="1.3" />
<rect x="950.0" y="227.7" width="14.7" height="18.4" rx="0" ry="0.0" fill="#ffffff" stroke="#404040" stroke-width="1.3" />
<text x="0" y="0" font-size="12.50" fill="#555" text-anchor="start" font-weight="bold" font-family='"Liberation Serif", serif' font-style="normal" transform="matrix(1 0 0 1.2 904.40 246.10)" >P</text>
<text x="0" y="0" font-size="12.50" fill="#444" text-anchor="start" font-weight="normal" font-family='"Liberation Serif", serif' font-style="normal" transform="matrix(1 0 0 1.2 912.00 246.10)" >(</text>
<ellipse cx="921.0" cy="241.9" rx="4.3" ry="5.1" fill="#dae3f3" stroke="none" stroke-width="1" />
<text x="0" y="0" font-size="12.50" fill="#444" text-anchor="start" font-weight="normal" font-family='"Liberation Serif", serif' font-style="normal" transform="matrix(1 0 0 1.2 925.00 246.10)" >)</text>
<line x1="911.2" y1="251.2" x2="884.8" y2="293.6" stroke="#a9c5e8" stroke-width="1.2" />
<polygon points="882.7,297.0 883.1,291.4 887.5,294.1" fill="#a9c5e8"/>
<text x="0" y="0" font-size="15.03" fill="#1a1a1a" text-anchor="start" font-weight="normal" font-family='"Liberation Sans", sans-serif' font-style="normal" textLength="218" lengthAdjust="spacingAndGlyphs" transform="matrix(1 0 0 1.161792045993286 932.00 273.60)" >Level-3 Inference (Fine-Grained)</text>
<rect x="731.0" y="282.0" width="419.0" height="203.0" rx="6.5" ry="7.8" fill="none" stroke="#cdcdcd" stroke-width="2.6" stroke-dasharray="7.9 3.35" />
<rect x="739.0" y="291.6" width="15.0" height="78.0" rx="0" ry="0.0" fill="#f9e1cd" stroke="none" stroke-width="1" />
<text x="0" y="0" font-size="14.72" fill="#1a1a1a" text-anchor="start" font-weight="normal" font-family='"Liberation Sans", sans-serif' font-style="normal" textLength="54" lengthAdjust="spacingAndGlyphs" transform="matrix(1 0 0 1.1763858175563833 761.00 321.60)" >Softmax</text>
<line x1="758.0" y1="332.0" x2="813.0" y2="332.0" stroke="#a6a6a6" stroke-width="3" />
<polygon points="823.0,332.0 812.0,338.5 812.0,325.5" fill="#a6a6a6"/>
<rect x="827.6" y="294.4" width="15.0" height="18.5" rx="0" ry="0.0" fill="#f9e0cd" stroke="#404040" stroke-width="1.3" />
<rect x="827.6" y="312.9" width="15.0" height="18.5" rx="0" ry="0.0" fill="#eeb48a" stroke="#404040" stroke-width="1.3" />
<rect x="827.6" y="331.4" width="15.0" height="18.5" rx="0" ry="0.0" fill="#f9e0cd" stroke="#404040" stroke-width="1.3" />
<rect x="827.6" y="349.9" width="15.0" height="18.5" rx="0" ry="0.0" fill="#e9a06f" stroke="#404040" stroke-width="1.3" />
<ellipse cx="855.4" cy="332.0" rx="7.3" ry="9.198" fill="none" stroke="#111" stroke-width="1.6" />
<ellipse cx="855.4" cy="332.0" rx="1.9" ry="2.3" fill="#111" stroke="none" stroke-width="1" />
<rect x="869.0" y="323.0" width="15.4" height="19.0" rx="0" ry="0.0" fill="#d7e1f1" stroke="#3a3a3a" stroke-width="1.3" />
<text x="0" y="0" font-size="12.50" fill="#555" text-anchor="start" font-weight="bold" font-family='"Liberation Serif", serif' font-style="normal" transform="matrix(1 0 0 1.2 863.70 315.60)" >P</text>
<text x="0" y="0" font-size="12.50" fill="#444" text-anchor="start" font-weight="normal" font-family='"Liberation Serif", serif' font-style="normal" transform="matrix(1 0 0 1.2 871.30 315.60)" >(</text>
<ellipse cx="880.3" cy="311.4" rx="4.3" ry="5.1" fill="#dae3f3" stroke="none" stroke-width="1" />
<text x="0" y="0" font-size="12.50" fill="#444" text-anchor="start" font-weight="normal" font-family='"Liberation Serif", serif' font-style="normal" transform="matrix(1 0 0 1.2 884.30 315.60)" >)</text>
<text x="0" y="0" font-size="12.50" fill="#555" text-anchor="start" font-weight="bold" font-family='"Liberation Serif", serif' font-style="normal" transform="matrix(1 0 0 1.2 847.70 366.00)" >P</text>
<text x="0" y="0" font-size="12.50" fill="#444" text-anchor="start" font-weight="normal" font-family='"Liberation Serif", serif' font-style="normal" transform="matrix(1 0 0 1.2 855.30 366.00)" >(</text>
<ellipse cx="864.3" cy="361.8" rx="4.3" ry="5.1" fill="#f9dcc7" stroke="none" stroke-width="1" />
<text x="0" y="0" font-size="12.50" fill="#444" text-anchor="start" font-weight="normal" font-family='"Liberation Serif", serif' font-style="normal" transform="matrix(1 0 0 1.2 868.40 366.50)" >|</text>
<ellipse cx="876.3" cy="361.8" rx="4.3" ry="5.1" fill="#dae3f3" stroke="none" stroke-width="1" />
<text x="0" y="0" font-size="12.50" fill="#444" text-anchor="start" font-weight="normal" font-family='"Liberation Serif", serif' font-style="normal" transform="matrix(1 0 0 1.2 880.30 366.00)" >)</text>
<line x1="895.0" y1="332.0" x2="919.0" y2="332.0" stroke="#a6a6a6" stroke-width="3" />
<polygon points="929.0,332.0 918.0,338.5 918.0,325.5" fill="#a6a6a6"/>
<rect x="935.0" y="294.4" width="15.4" height="18.5" rx="0" ry="0.0" fill="#f9e0cd" stroke="#404040" stroke-width="1.3" />
<rect x="935.0" y="312.9" width="15.4" height="18.5" rx="0" ry="0.0" fill="#eeb48a" stroke="#404040" stroke-width="1.3" />
<rect x="935.0" y="331.4" width="15.4" height="18.5" rx="0" ry="0.0" fill="#f9e0cd" stroke="#404040" stroke-width="1.3" />
<rect x="935.0" y="349.9" width="15.4" height="18.5" rx="0" ry="0.0" fill="#e9a06f" stroke="#404040" stroke-width="1.3" />
<text x="0" y="0" font-size="12.50" fill="#555" text-anchor="start" font-weight="bold" font-family='"Liberation Serif", serif' font-style="normal" transform="matrix(1 0 0 1.2 952.70 366.60)" >P</text>
<text x="0" y="0" font-size="12.50" fill="#444" text-anchor="start" font-weight="normal" font-family='"Liberation Serif", serif' font-style="normal" transform="matrix(1 0 0 1.2 960.30 366.60)" >(</text>
<ellipse cx="969.3" cy="362.4" rx="4.3" ry="5.1" fill="#f9dcc7" stroke="none" stroke-width="1" />
<text x="0" y="0" font-size="12.50" fill="#444" text-anchor="start" font-weight="normal" font-family='"Liberation Serif", serif' font-style="normal" transform="matrix(1 0 0 1.2 973.30 366.60)" >)</text>
<ellipse cx="966.6" cy="333.0" rx="7.3" ry="9.198" fill="none" stroke="#111" stroke-width="1.6" />
<ellipse cx="966.6" cy="333.0" rx="1.9" ry="2.3" fill="#111" stroke="none" stroke-width="1" />
<rect x="983.0" y="313.6" width="15.2" height="18.7" rx="0" ry="0.0" fill="#eeb48a" stroke="#3a3a3a" stroke-width="1.3" />
<rect x="998.2" y="313.6" width="15.2" height="18.7" rx="0" ry="0.0" fill="#f9e0cd" stroke="#3a3a3a" stroke-width="1.3" />
<rect x="983.0" y="332.3" width="15.2" height="18.7" rx="0" ry="0.0" fill="#f9e0cd" stroke="#3a3a3a" stroke-width="1.3" />
<rect x="998.2" y="332.3" width="15.2" height="18.7" rx="0" ry="0.0" fill="#e9a06f" stroke="#3a3a3a" stroke-width="1.3" />
<text x="0" y="0" font-size="12.50" fill="#555" text-anchor="start" font-weight="bold" font-family='"Liberation Serif", serif' font-style="normal" transform="matrix(1 0 0 1.2 978.70 304.00)" >P</text>
<text x="0" y="0" font-size="12.50" fill="#444" text-anchor="start" font-weight="normal" font-family='"Liberation Serif", serif' font-style="normal" transform="matrix(1 0 0 1.2 986.30 304.00)" >(</text>
<ellipse cx="995.3" cy="299.8" rx="4.3" ry="5.1" fill="#f9dcc7" stroke="none" stroke-width="1" />
<text x="0" y="0" font-size="5.83" fill="#666" text-anchor="middle" font-weight="normal" font-family='"Liberation Sans", sans-serif' font-style="normal" transform="matrix(1 0 0 1.2 995.30 301.60)" >s</text>
<text x="0" y="0" font-size="12.50" fill="#444" text-anchor="start" font-weight="normal" font-family='"Liberation Serif", serif' font-style="normal" transform="matrix(1 0 0 1.2 999.40 304.50)" >|</text>
<ellipse cx="1007.3" cy="299.8" rx="4.3" ry="5.1" fill="#f9dcc7" stroke="none" stroke-width="1" />
<text x="0" y="0" font-size="5.83" fill="#666" text-anchor="middle" font-weight="normal" font-family='"Liberation Sans", sans-serif' font-style="normal" transform="matrix(1 0 0 1.2 1007.30 301.60)" >g</text>
<text x="0" y="0" font-size="12.50" fill="#444" text-anchor="start" font-weight="normal" font-family='"Liberation Serif", serif' font-style="normal" transform="matrix(1 0 0 1.2 1011.30 304.00)" >)</text>
<path d="M1017.2 358.0 A5 6.2 0 1 0 1017.9 353.2" fill="none" stroke="#111" stroke-width="1.3"/>
<polygon points="1016.2,352.2 1019.6,353.4 1017.2,355.8" fill="#111"/>
<line x1="1020.0" y1="333.0" x2="1045.0" y2="333.0" stroke="#a6a6a6" stroke-width="3" />
<polygon points="1055.0,333.0 1044.0,339.5 1044.0,326.5" fill="#a6a6a6"/>
<rect x="1061.6" y="295.6" width="14.4" height="18.5" rx="0" ry="0.0" fill="#e9a06f" stroke="#404040" stroke-width="1.3" />
<rect x="1061.6" y="314.1" width="14.4" height="18.5" rx="0" ry="0.0" fill="#f9e0cd" stroke="#404040" stroke-width="1.3" />
<rect x="1061.6" y="332.6" width="14.4" height="18.5" rx="0" ry="0.0" fill="#f9e0cd" stroke="#404040" stroke-width="1.3" />
<rect x="1061.6" y="351.1" width="14.4" height="18.5" rx="0" ry="0.0" fill="#eeb48a" stroke="#404040" stroke-width="1.3" />
<text x="0" y="0" font-size="12.50" fill="#555" text-anchor="start" font-weight="bold" font-family='"Liberation Serif", serif' font-style="normal" transform="matrix(1 0 0 1.2 1078.70 366.60)" >P</text>
<text x="0" y="0" font-size="12.50" fill="#444" text-anchor="start" font-weight="normal" font-family='"Liberation Serif", serif' font-style="normal" transform="matrix(1 0 0 1.2 1086.30 366.60)" >(</text>
<ellipse cx="1095.3" cy="362.4" rx="4.3" ry="5.1" fill="#f9dcc7" stroke="none" stroke-width="1" />
<text x="0" y="0" font-size="12.50" fill="#444" text-anchor="start" font-weight="normal" font-family='"Liberation Serif", serif' font-style="normal" transform="matrix(1 0 0 1.2 1099.30 366.60)" >)</text>
<line x1="1122.0" y1="333.0" x2="1090.0" y2="333.0" stroke="#a6a6a6" stroke-width="3" />
<polygon points="1080.0,333.0 1091.0,326.5 1091.0,339.5" fill="#a6a6a6"/>
<path d="M1106.30,315.10 C1106.50,313.80 1104.90,313.50 1104.20,315.10 L1101.90,322.00 C1101.50,323.40 1100.10,323.60 1099.90,322.80 C1100.10,321.90 1101.80,322.20 1102.80,322.90 C1103.90,323.70 1105.30,323.70 1106.60,322.40" fill="none" stroke="#222" stroke-width="1.2" stroke-linecap="round"/>
<path d="M1104.20,315.10 L1101.90,322.00" fill="none" stroke="#222" stroke-width="1.7999999999999998" stroke-linecap="round"/>
<text x="0" y="0" font-size="6.55" fill="#333" font-family='"Liberation Serif", serif' font-weight="normal" textLength="4.7" lengthAdjust="spacingAndGlyphs" transform="matrix(1 0 0 1.2 1107.30 325.90)">P</text>
<rect x="1126.4" y="295.6" width="14.6" height="18.5" rx="0" ry="0.0" fill="#e9a06f" stroke="#404040" stroke-width="1.3" />
<rect x="1126.4" y="314.1" width="14.6" height="18.5" rx="0" ry="0.0" fill="#ffffff" stroke="#404040" stroke-width="1.3" />
<rect x="1126.4" y="332.6" width="14.6" height="18.5" rx="0" ry="0.0" fill="#ffffff" stroke="#404040" stroke-width="1.3" />
<rect x="1126.4" y="351.1" width="14.6" height="18.5" rx="0" ry="0.0" fill="#ffffff" stroke="#404040" stroke-width="1.3" />
<rect x="739.0" y="397.6" width="15.0" height="78.0" rx="0" ry="0.0" fill="#d0e7c1" stroke="none" stroke-width="1" />
<text x="0" y="0" font-size="14.72" fill="#1a1a1a" text-anchor="start" font-weight="normal" font-family='"Liberation Sans", sans-serif' font-style="normal" textLength="54" lengthAdjust="spacingAndGlyphs" transform="matrix(1 0 0 1.1763858175563833 761.00 427.60)" >Softmax</text>
<line x1="758.0" y1="438.0" x2="813.0" y2="438.0" stroke="#a6a6a6" stroke-width="3" />
<polygon points="823.0,438.0 812.0,444.5 812.0,431.5" fill="#a6a6a6"/>
<rect x="827.6" y="400.4" width="15.0" height="18.5" rx="0" ry="0.0" fill="#c9e2b9" stroke="#404040" stroke-width="1.3" />
<rect x="827.6" y="418.9" width="15.0" height="18.5" rx="0" ry="0.0" fill="#e5f0dd" stroke="#404040" stroke-width="1.3" />
<rect x="827.6" y="437.4" width="15.0" height="18.5" rx="0" ry="0.0" fill="#c9e2b9" stroke="#404040" stroke-width="1.3" />
<rect x="827.6" y="455.9" width="15.0" height="18.5" rx="0" ry="0.0" fill="#a9d191" stroke="#404040" stroke-width="1.3" />
<ellipse cx="855.4" cy="438.0" rx="7.3" ry="9.198" fill="none" stroke="#111" stroke-width="1.6" />
<ellipse cx="855.4" cy="438.0" rx="1.9" ry="2.3" fill="#111" stroke="none" stroke-width="1" />
<rect x="869.0" y="429.0" width="15.4" height="19.0" rx="0" ry="0.0" fill="#d7e1f1" stroke="#3a3a3a" stroke-width="1.3" />
<text x="0" y="0" font-size="12.50" fill="#555" text-anchor="start" font-weight="bold" font-family='"Liberation Serif", serif' font-style="normal" transform="matrix(1 0 0 1.2 863.70 421.60)" >P</text>
<text x="0" y="0" font-size="12.50" fill="#444" text-anchor="start" font-weight="normal" font-family='"Liberation Serif", serif' font-style="normal" transform="matrix(1 0 0 1.2 871.30 421.60)" >(</text>
<ellipse cx="880.3" cy="417.4" rx="4.3" ry="5.1" fill="#dae3f3" stroke="none" stroke-width="1" />
<text x="0" y="0" font-size="12.50" fill="#444" text-anchor="start" font-weight="normal" font-family='"Liberation Serif", serif' font-style="normal" transform="matrix(1 0 0 1.2 884.30 421.60)" >)</text>
<text x="0" y="0" font-size="12.50" fill="#555" text-anchor="start" font-weight="bold" font-family='"Liberation Serif", serif' font-style="normal" transform="matrix(1 0 0 1.2 847.70 472.00)" >P</text>
<text x="0" y="0" font-size="12.50" fill="#444" text-anchor="start" font-weight="normal" font-family='"Liberation Serif", serif' font-style="normal" transform="matrix(1 0 0 1.2 855.30 472.00)" >(</text>
<ellipse cx="864.3" cy="467.8" rx="4.3" ry="5.1" fill="#c7e3b5" stroke="none" stroke-width="1" />
<text x="0" y="0" font-size="12.50" fill="#444" text-anchor="start" font-weight="normal" font-family='"Liberation Serif", serif' font-style="normal" transform="matrix(1 0 0 1.2 868.40 472.50)" >|</text>
<ellipse cx="876.3" cy="467.8" rx="4.3" ry="5.1" fill="#dae3f3" stroke="none" stroke-width="1" />
<text x="0" y="0" font-size="12.50" fill="#444" text-anchor="start" font-weight="normal" font-family='"Liberation Serif", serif' font-style="normal" transform="matrix(1 0 0 1.2 880.30 472.00)" >)</text>
<line x1="895.0" y1="438.0" x2="919.0" y2="438.0" stroke="#a6a6a6" stroke-width="3" />
<polygon points="929.0,438.0 918.0,444.5 918.0,431.5" fill="#a6a6a6"/>
<rect x="935.0" y="400.4" width="15.4" height="18.5" rx="0" ry="0.0" fill="#c9e2b9" stroke="#404040" stroke-width="1.3" />
<rect x="935.0" y="418.9" width="15.4" height="18.5" rx="0" ry="0.0" fill="#e5f0dd" stroke="#404040" stroke-width="1.3" />
<rect x="935.0" y="437.4" width="15.4" height="18.5" rx="0" ry="0.0" fill="#a9d191" stroke="#404040" stroke-width="1.3" />
<rect x="935.0" y="455.9" width="15.4" height="18.5" rx="0" ry="0.0" fill="#e5f0dd" stroke="#404040" stroke-width="1.3" />
<text x="0" y="0" font-size="12.50" fill="#555" text-anchor="start" font-weight="bold" font-family='"Liberation Serif", serif' font-style="normal" transform="matrix(1 0 0 1.2 952.70 472.60)" >P</text>
<text x="0" y="0" font-size="12.50" fill="#444" text-anchor="start" font-weight="normal" font-family='"Liberation Serif", serif' font-style="normal" transform="matrix(1 0 0 1.2 960.30 472.60)" >(</text>
<ellipse cx="969.3" cy="468.4" rx="4.3" ry="5.1" fill="#c7e3b5" stroke="none" stroke-width="1" />
<text x="0" y="0" font-size="12.50" fill="#444" text-anchor="start" font-weight="normal" font-family='"Liberation Serif", serif' font-style="normal" transform="matrix(1 0 0 1.2 973.30 472.60)" >)</text>
<ellipse cx="966.6" cy="439.0" rx="7.3" ry="9.198" fill="none" stroke="#111" stroke-width="1.6" />
<ellipse cx="966.6" cy="439.0" rx="1.9" ry="2.3" fill="#111" stroke="none" stroke-width="1" />
<rect x="983.0" y="419.6" width="15.2" height="18.7" rx="0" ry="0.0" fill="#a9d191" stroke="#3a3a3a" stroke-width="1.3" />
<rect x="998.2" y="419.6" width="15.2" height="18.7" rx="0" ry="0.0" fill="#e5f0dd" stroke="#3a3a3a" stroke-width="1.3" />
<rect x="983.0" y="438.3" width="15.2" height="18.7" rx="0" ry="0.0" fill="#e5f0dd" stroke="#3a3a3a" stroke-width="1.3" />
<rect x="998.2" y="438.3" width="15.2" height="18.7" rx="0" ry="0.0" fill="#c9e2b9" stroke="#3a3a3a" stroke-width="1.3" />
<text x="0" y="0" font-size="12.50" fill="#555" text-anchor="start" font-weight="bold" font-family='"Liberation Serif", serif' font-style="normal" transform="matrix(1 0 0 1.2 978.70 410.00)" >P</text>
<text x="0" y="0" font-size="12.50" fill="#444" text-anchor="start" font-weight="normal" font-family='"Liberation Serif", serif' font-style="normal" transform="matrix(1 0 0 1.2 986.30 410.00)" >(</text>
<ellipse cx="995.3" cy="405.8" rx="4.3" ry="5.1" fill="#c7e3b5" stroke="none" stroke-width="1" />
<text x="0" y="0" font-size="5.83" fill="#666" text-anchor="middle" font-weight="normal" font-family='"Liberation Sans", sans-serif' font-style="normal" transform="matrix(1 0 0 1.2 995.30 407.60)" >s</text>
<text x="0" y="0" font-size="12.50" fill="#444" text-anchor="start" font-weight="normal" font-family='"Liberation Serif", serif' font-style="normal" transform="matrix(1 0 0 1.2 999.40 410.50)" >|</text>
<ellipse cx="1007.3" cy="405.8" rx="4.3" ry="5.1" fill="#c7e3b5" stroke="none" stroke-width="1" />
<text x="0" y="0" font-size="5.83" fill="#666" text-anchor="middle" font-weight="normal" font-family='"Liberation Sans", sans-serif' font-style="normal" transform="matrix(1 0 0 1.2 1007.30 407.60)" >g</text>
<text x="0" y="0" font-size="12.50" fill="#444" text-anchor="start" font-weight="normal" font-family='"Liberation Serif", serif' font-style="normal" transform="matrix(1 0 0 1.2 1011.30 410.00)" >)</text>
<path d="M1017.2 464.0 A5 6.2 0 1 0 1017.9 459.2" fill="none" stroke="#111" stroke-width="1.3"/>
<polygon points="1016.2,458.2 1019.6,459.4 1017.2,461.8" fill="#111"/>
<line x1="1020.0" y1="439.0" x2="1045.0" y2="439.0" stroke="#a6a6a6" stroke-width="3" />
<polygon points="1055.0,439.0 1044.0,445.5 1044.0,432.5" fill="#a6a6a6"/>
<rect x="1061.6" y="401.6" width="14.4" height="18.5" rx="0" ry="0.0" fill="#e5f0dd" stroke="#404040" stroke-width="1.3" />
<rect x="1061.6" y="420.1" width="14.4" height="18.5" rx="0" ry="0.0" fill="#e5f0dd" stroke="#404040" stroke-width="1.3" />
<rect x="1061.6" y="438.6" width="14.4" height="18.5" rx="0" ry="0.0" fill="#a9d191" stroke="#404040" stroke-width="1.3" />
<rect x="1061.6" y="457.1" width="14.4" height="18.5" rx="0" ry="0.0" fill="#c9e2b9" stroke="#404040" stroke-width="1.3" />
<text x="0" y="0" font-size="12.50" fill="#555" text-anchor="start" font-weight="bold" font-family='"Liberation Serif", serif' font-style="normal" transform="matrix(1 0 0 1.2 1078.70 472.60)" >P</text>
<text x="0" y="0" font-size="12.50" fill="#444" text-anchor="start" font-weight="normal" font-family='"Liberation Serif", serif' font-style="normal" transform="matrix(1 0 0 1.2 1086.30 472.60)" >(</text>
<ellipse cx="1095.3" cy="468.4" rx="4.3" ry="5.1" fill="#c7e3b5" stroke="none" stroke-width="1" />
<text x="0" y="0" font-size="12.50" fill="#444" text-anchor="start" font-weight="normal" font-family='"Liberation Serif", serif' font-style="normal" transform="matrix(1 0 0 1.2 1099.30 472.60)" >)</text>
<line x1="1122.0" y1="439.0" x2="1090.0" y2="439.0" stroke="#a6a6a6" stroke-width="3" />
<polygon points="1080.0,439.0 1091.0,432.5 1091.0,445.5" fill="#a6a6a6"/>
<path d="M1106.30,421.10 C1106.50,419.80 1104.90,419.50 1104.20,421.10 L1101.90,428.00 C1101.50,429.40 1100.10,429.60 1099.90,428.80 C1100.10,427.90 1101.80,428.20 1102.80,428.90 C1103.90,429.70 1105.30,429.70 1106.60,428.40" fill="none" stroke="#222" stroke-width="1.2" stroke-linecap="round"/>
<path d="M1104.20,421.10 L1101.90,428.00" fill="none" stroke="#222" stroke-width="1.7999999999999998" stroke-linecap="round"/>
<text x="0" y="0" font-size="6.55" fill="#333" font-family='"Liberation Serif", serif' font-weight="normal" textLength="4.7" lengthAdjust="spacingAndGlyphs" transform="matrix(1 0 0 1.2 1107.30 431.90)">P</text>
<rect x="1126.4" y="401.6" width="14.6" height="18.5" rx="0" ry="0.0" fill="#ffffff" stroke="#404040" stroke-width="1.3" />
<rect x="1126.4" y="420.1" width="14.6" height="18.5" rx="0" ry="0.0" fill="#ffffff" stroke="#404040" stroke-width="1.3" />
<rect x="1126.4" y="438.6" width="14.6" height="18.5" rx="0" ry="0.0" fill="#a9d191" stroke="#404040" stroke-width="1.3" />
<rect x="1126.4" y="457.1" width="14.6" height="18.5" rx="0" ry="0.0" fill="#ffffff" stroke="#404040" stroke-width="1.3" />
<rect x="880.9" y="44.7" width="267.0" height="90.6" rx="14" ry="16.8" fill="#f4f4f4" stroke="none" stroke-width="1" />
<rect x="893.0" y="53.8" width="15.3" height="18.6" rx="0" ry="0.0" fill="#eeb48a" stroke="#3a3a3a" stroke-width="1.3" />
<rect x="908.3" y="53.8" width="15.3" height="18.6" rx="0" ry="0.0" fill="#f9e0cd" stroke="#3a3a3a" stroke-width="1.3" />
<rect x="893.0" y="72.4" width="15.3" height="18.6" rx="0" ry="0.0" fill="#f9e0cd" stroke="#3a3a3a" stroke-width="1.3" />
<rect x="908.3" y="72.4" width="15.3" height="18.6" rx="0" ry="0.0" fill="#e9a06f" stroke="#3a3a3a" stroke-width="1.3" />
<text x="0" y="0" font-size="15.18" fill="#1a1a1a" text-anchor="start" font-weight="normal" font-family='"Liberation Sans", sans-serif' font-style="normal" textLength="207" lengthAdjust="spacingAndGlyphs" transform="matrix(1 0 0 1.1499772601914824 934.60 77.90)" >Transitioning Probability Matrix</text>
<ellipse cx="894.9" cy="114.7" rx="8" ry="9" fill="#c7e3b5" stroke="none" stroke-width="1" />
<text x="0" y="0" font-size="7.50" fill="#555" text-anchor="middle" font-weight="normal" font-family='"Liberation Sans", sans-serif' font-style="normal" transform="matrix(1 0 0 1.2 894.90 117.50)" >s</text>
<ellipse cx="919.5" cy="114.7" rx="8" ry="9" fill="#c7e3b5" stroke="none" stroke-width="1" />
<text x="0" y="0" font-size="7.50" fill="#555" text-anchor="middle" font-weight="normal" font-family='"Liberation Sans", sans-serif' font-style="normal" transform="matrix(1 0 0 1.2 919.50 117.50)" >g</text>
<text x="0" y="0" font-size="14.17" fill="#222" text-anchor="middle" font-weight="normal" font-family='"Liberation Sans", sans-serif' font-style="normal" transform="matrix(1 0 0 1.2 907.20 121.00)" >/</text>
<text x="0" y="0" font-size="14.84" fill="#1a1a1a" text-anchor="start" font-weight="normal" font-family='"Liberation Sans", sans-serif' font-style="normal" textLength="174" lengthAdjust="spacingAndGlyphs" transform="matrix(1 0 0 1.1766424285020547 936.70 121.25)" >Specific / General Classes</text>
<rect x="993.0" y="154.5" width="153.0" height="97.7" rx="14" ry="16.8" fill="#f4f4f4" stroke="none" stroke-width="1" />
<text x="0" y="0" font-size="13.23" fill="#1a1a1a" text-anchor="start" font-weight="normal" font-family='"Liberation Sans", sans-serif' font-style="normal" textLength="126.5" lengthAdjust="spacingAndGlyphs" transform="matrix(1 0 0 1.1609067585620598 1006.10 172.70)" >Discovered Hierarchy</text>
<ellipse cx="1014.9" cy="213.5" rx="8.8" ry="10.5" fill="#f8e193" stroke="none" stroke-width="1" />
<ellipse cx="1069.6" cy="213.5" rx="8.8" ry="10.5" fill="#dae3f3" stroke="none" stroke-width="1" />
<ellipse cx="1126.2" cy="192.4" rx="8.8" ry="10.5" fill="#f9dcc7" stroke="none" stroke-width="1" />
<ellipse cx="1126.2" cy="236.9" rx="8.8" ry="10.5" fill="#c4e1ae" stroke="none" stroke-width="1" />
<line x1="1024.5" y1="213.5" x2="1056.0" y2="213.5" stroke="#999" stroke-width="1.3" />
<polygon points="1060.0,213.5 1055.0,216.0 1055.0,211.0" fill="#999"/>
<line x1="1079.8" y1="213.5" x2="1112.8" y2="195.8" stroke="#999" stroke-width="1.3" />
<polygon points="1116.3,193.9 1113.1,198.5 1110.7,194.1" fill="#999"/>
<line x1="1079.8" y1="213.5" x2="1112.9" y2="234.7" stroke="#999" stroke-width="1.3" />
<polygon points="1116.3,236.9 1110.7,236.3 1113.4,232.1" fill="#999"/>
<path d="M1001.23,195.67 C1001.67,196.55 1002.58,196.11 1003.10,194.35 L1005.20,186.02" fill="none" stroke="#1a1a1a" stroke-width="0.9" stroke-linecap="round"/>
<path d="M1005.20,186.02 L1008.65,195.67" fill="none" stroke="#1a1a1a" stroke-width="1.7" stroke-linecap="round"/>
<path d="M1008.65,195.67 L1011.80,186.16 C1012.10,185.21 1012.70,184.92 1013.00,185.07" fill="none" stroke="#1a1a1a" stroke-width="0.9" stroke-linecap="round"/>
<text x="0" y="0" font-size="7.43" fill="#333" font-family='"Liberation Serif", serif' font-weight="normal" textLength="10.4" lengthAdjust="spacingAndGlyphs" transform="matrix(1 0 0 1.2 1013.30 190.60)">(1)</text>
<text x="0" y="0" font-size="6.67" fill="#333" font-family='"Liberation Serif", serif' font-weight="normal" textLength="15.8" lengthAdjust="spacingAndGlyphs" transform="matrix(1 0 0 1.2 1013.20 198.00)">CXP</text>
<path d="M1058.22,195.67 C1058.67,196.55 1059.58,196.11 1060.10,194.35 L1062.20,186.02" fill="none" stroke="#1a1a1a" stroke-width="0.9" stroke-linecap="round"/>
<path d="M1062.20,186.02 L1065.65,195.67" fill="none" stroke="#1a1a1a" stroke-width="1.7" stroke-linecap="round"/>
<path d="M1065.65,195.67 L1068.80,186.16 C1069.10,185.21 1069.70,184.92 1070.00,185.07" fill="none" stroke="#1a1a1a" stroke-width="0.9" stroke-linecap="round"/>
<text x="0" y="0" font-size="7.43" fill="#333" font-family='"Liberation Serif", serif' font-weight="normal" textLength="10.4" lengthAdjust="spacingAndGlyphs" transform="matrix(1 0 0 1.2 1070.30 190.60)">(2)</text>
<text x="0" y="0" font-size="6.67" fill="#333" font-family='"Liberation Serif", serif' font-weight="normal" textLength="15.8" lengthAdjust="spacingAndGlyphs" transform="matrix(1 0 0 1.2 1070.20 198.00)">CXP</text>
<path d="M1116.51,217.36 C1116.92,218.13 1117.74,217.74 1118.22,216.20 L1120.15,208.86" fill="none" stroke="#1a1a1a" stroke-width="0.9" stroke-linecap="round"/>
<path d="M1120.15,208.86 L1123.31,217.36" fill="none" stroke="#1a1a1a" stroke-width="1.7" stroke-linecap="round"/>
<path d="M1123.31,217.36 L1126.20,208.99 C1126.47,208.15 1127.02,207.89 1127.30,208.02" fill="none" stroke="#1a1a1a" stroke-width="0.9" stroke-linecap="round"/>
<text x="0" y="0" font-size="6.92" fill="#333" font-family='"Liberation Serif", serif' font-weight="normal" textLength="11.7" lengthAdjust="spacingAndGlyphs" transform="matrix(1 0 0 1.2 1127.20 220.80)">CP</text>
<line x1="1167.0" y1="43.8" x2="1167.0" y2="463.5" stroke="#b8b8b8" stroke-width="2.6" />
<polygon points="1167.0,480.0 1161.7,462.5 1172.3,462.5" fill="#b8b8b8"/>
<text x="1190.3" y="403.8" font-size="21" fill="#222" text-anchor="start" font-weight="normal" font-family='"Liberation Sans", sans-serif' font-style="normal" textLength="272.3" lengthAdjust="spacingAndGlyphs" transform="rotate(-90 1190.3 403.8)" >Hierarchical Inference</text>
<line x1="261.6" y1="612.0" x2="176.4" y2="724.5" stroke="#111" stroke-width="1.4" />
<line x1="261.6" y1="612.0" x2="337.5" y2="724.5" stroke="#111" stroke-width="1.4" />
<line x1="261.6" y1="612.0" x2="237.9" y2="685.5" stroke="#111" stroke-width="1.4" />
<line x1="261.6" y1="612.0" x2="261.6" y2="724.5" stroke="#111" stroke-width="1.4" />
<line x1="261.6" y1="612.0" x2="287.1" y2="690.6" stroke="#111" stroke-width="1.4" />
<line x1="176.4" y1="724.5" x2="237.9" y2="685.5" stroke="#111" stroke-width="1.4" />
<line x1="176.4" y1="724.5" x2="261.6" y2="724.5" stroke="#111" stroke-width="1.4" />
<line x1="261.6" y1="724.5" x2="337.5" y2="724.5" stroke="#111" stroke-width="1.4" />
<line x1="176.4" y1="724.5" x2="230.4" y2="753.6" stroke="#111" stroke-width="1.4" />
<line x1="176.4" y1="724.5" x2="261.6" y2="823.5" stroke="#111" stroke-width="1.4" />
<line x1="337.5" y1="724.5" x2="287.1" y2="690.6" stroke="#111" stroke-width="1.4" />
<line x1="337.5" y1="724.5" x2="285.0" y2="756.6" stroke="#111" stroke-width="1.4" />
<line x1="337.5" y1="724.5" x2="261.6" y2="823.5" stroke="#111" stroke-width="1.4" />
<line x1="237.9" y1="685.5" x2="261.6" y2="724.5" stroke="#111" stroke-width="1.4" />
<line x1="287.1" y1="690.6" x2="261.6" y2="724.5" stroke="#111" stroke-width="1.4" />
<line x1="230.4" y1="753.6" x2="261.6" y2="724.5" stroke="#111" stroke-width="1.4" />
<line x1="285.0" y1="756.6" x2="261.6" y2="724.5" stroke="#111" stroke-width="1.4" />
<line x1="230.4" y1="753.6" x2="261.6" y2="823.5" stroke="#111" stroke-width="1.4" />
<line x1="285.0" y1="756.6" x2="261.6" y2="823.5" stroke="#111" stroke-width="1.4" />
<line x1="261.6" y1="724.5" x2="261.6" y2="823.5" stroke="#111" stroke-width="1.4" />
<ellipse cx="261.6" cy="612.0" rx="7.2" ry="8.4" fill="#7dc45a" stroke="#111" stroke-width="1.4" />
<ellipse cx="176.4" cy="724.5" rx="7.2" ry="8.4" fill="#4ba8e8" stroke="#111" stroke-width="1.4" />
<ellipse cx="337.5" cy="724.5" rx="7.2" ry="8.4" fill="#f0983a" stroke="#111" stroke-width="1.4" />
<ellipse cx="261.6" cy="823.5" rx="7.2" ry="8.4" fill="#f8f040" stroke="#111" stroke-width="1.4" />
<ellipse cx="237.9" cy="685.5" rx="7.2" ry="8.4" fill="#2a3a9a" stroke="#111" stroke-width="1.4" />
<ellipse cx="287.1" cy="690.6" rx="7.2" ry="8.4" fill="#e03a2a" stroke="#111" stroke-width="1.4" />
<ellipse cx="261.6" cy="724.5" rx="7.2" ry="8.4" fill="#e0308a" stroke="#111" stroke-width="1.4" />
<ellipse cx="230.4" cy="753.6" rx="7.2" ry="8.4" fill="#7a2a9a" stroke="#111" stroke-width="1.4" />
<ellipse cx="285.0" cy="756.6" rx="7.2" ry="8.4" fill="#3aaa4a" stroke="#111" stroke-width="1.4" />
<text x="0" y="0" font-size="21.50" fill="#222" text-anchor="middle" font-weight="normal" font-family='"Liberation Serif", serif' font-style="normal" transform="matrix(1 0 0 1.0 261.60 596.00)" >a</text>
<text x="0" y="0" font-size="21.50" fill="#222" text-anchor="middle" font-weight="normal" font-family='"Liberation Serif", serif' font-style="normal" transform="matrix(1 0 0 1.0 174.00 712.00)" >b</text>
<text x="0" y="0" font-size="21.50" fill="#222" text-anchor="middle" font-weight="normal" font-family='"Liberation Serif", serif' font-style="normal" transform="matrix(1 0 0 1.0 340.60 711.50)" >c</text>
<text x="0" y="0" font-size="21.50" fill="#222" text-anchor="middle" font-weight="normal" font-family='"Liberation Serif", serif' font-style="normal" transform="matrix(1 0 0 1.0 260.40 855.00)" >d</text>
<text x="0" y="0" font-size="21.50" fill="#222" text-anchor="middle" font-weight="normal" font-family='"Liberation Serif", serif' font-style="normal" transform="matrix(1 0 0 1.0 237.00 714.00)" >h</text>
<text x="0" y="0" font-size="21.50" fill="#222" text-anchor="middle" font-weight="normal" font-family='"Liberation Serif", serif' font-style="normal" transform="matrix(1 0 0 1.0 268.00 710.50)" >i</text>
<text x="0" y="0" font-size="21.50" fill="#222" text-anchor="middle" font-weight="normal" font-family='"Liberation Serif", serif' font-style="normal" transform="matrix(1 0 0 1.0 292.60 714.00)" >g</text>
<text x="0" y="0" font-size="21.50" fill="#222" text-anchor="middle" font-weight="normal" font-family='"Liberation Serif", serif' font-style="normal" transform="matrix(1 0 0 1.0 228.00 740.50)" >e</text>
<text x="0" y="0" font-size="21.50" fill="#222" text-anchor="middle" font-weight="normal" font-family='"Liberation Serif", serif' font-style="normal" transform="matrix(1 0 0 1.0 289.50 745.00)" >f</text>
<line x1="372.5" y1="724.2" x2="441.0" y2="724.2" stroke="#111" stroke-width="1.6" />
<polygon points="450.0,724.2 440.0,729.2 440.0,719.2" fill="#111"/>
<line x1="739.0" y1="725.0" x2="807.0" y2="725.0" stroke="#111" stroke-width="1.6" />
<polygon points="816.0,725.0 806.0,730.0 806.0,720.0" fill="#111"/>
<line x1="519.2" y1="516.1" x2="493.0" y2="547.5" stroke="#111" stroke-width="1.1" />
<line x1="493.0" y1="547.5" x2="470.0" y2="579.9" stroke="#111" stroke-width="1.1" />
<line x1="519.2" y1="516.1" x2="506.0" y2="558.1" stroke="#111" stroke-width="1.1" />
<line x1="519.2" y1="516.1" x2="519.2" y2="579.7" stroke="#111" stroke-width="1.1" />
<line x1="519.2" y1="516.1" x2="534.5" y2="561.4" stroke="#111" stroke-width="1.1" />
<line x1="519.2" y1="516.1" x2="545.1" y2="550.0" stroke="#111" stroke-width="1.1" />
<line x1="545.1" y1="550.0" x2="562.8" y2="579.8" stroke="#111" stroke-width="1.1" />
<line x1="493.0" y1="547.5" x2="506.0" y2="558.1" stroke="#111" stroke-width="1.1" />
<line x1="545.1" y1="550.0" x2="534.5" y2="561.4" stroke="#111" stroke-width="1.1" />
<line x1="470.0" y1="579.9" x2="506.0" y2="558.1" stroke="#111" stroke-width="1.1" />
<line x1="470.0" y1="579.9" x2="519.2" y2="579.7" stroke="#111" stroke-width="1.1" />
<line x1="519.2" y1="579.7" x2="562.8" y2="579.8" stroke="#111" stroke-width="1.1" />
<line x1="470.0" y1="579.9" x2="502.1" y2="595.7" stroke="#111" stroke-width="1.1" />
<line x1="470.0" y1="579.9" x2="495.1" y2="609.1" stroke="#111" stroke-width="1.1" />
<line x1="495.1" y1="609.1" x2="519.2" y2="635.7" stroke="#111" stroke-width="1.1" />
<line x1="495.1" y1="609.1" x2="502.1" y2="595.7" stroke="#111" stroke-width="1.1" />
<line x1="562.8" y1="579.8" x2="534.5" y2="561.4" stroke="#111" stroke-width="1.1" />
<line x1="562.8" y1="579.8" x2="533.0" y2="597.1" stroke="#111" stroke-width="1.1" />
<line x1="562.8" y1="579.8" x2="542.6" y2="610.0" stroke="#111" stroke-width="1.1" />
<line x1="542.6" y1="610.0" x2="519.2" y2="635.7" stroke="#111" stroke-width="1.1" />
<line x1="542.6" y1="610.0" x2="533.0" y2="597.1" stroke="#111" stroke-width="1.1" />
<line x1="506.0" y1="558.1" x2="519.2" y2="579.7" stroke="#111" stroke-width="1.1" />
<line x1="534.5" y1="561.4" x2="519.2" y2="579.7" stroke="#111" stroke-width="1.1" />
<line x1="502.1" y1="595.7" x2="519.2" y2="579.7" stroke="#111" stroke-width="1.1" />
<line x1="533.0" y1="597.1" x2="519.2" y2="579.7" stroke="#111" stroke-width="1.1" />
<line x1="502.1" y1="595.7" x2="519.2" y2="635.7" stroke="#111" stroke-width="1.1" />
<line x1="533.0" y1="597.1" x2="519.2" y2="635.7" stroke="#111" stroke-width="1.1" />
<line x1="519.2" y1="579.7" x2="519.2" y2="635.7" stroke="#111" stroke-width="1.1" />
<ellipse cx="519.2" cy="516.1" rx="3.9" ry="4.7" fill="#7dc45a" stroke="#111" stroke-width="1.1" />
<ellipse cx="470.0" cy="579.9" rx="3.9" ry="4.7" fill="#4ba8e8" stroke="#111" stroke-width="1.1" />
<ellipse cx="562.8" cy="579.8" rx="3.9" ry="4.7" fill="#f0983a" stroke="#111" stroke-width="1.1" />
<ellipse cx="519.2" cy="635.7" rx="3.9" ry="4.7" fill="#f8f040" stroke="#111" stroke-width="1.1" />
<ellipse cx="506.0" cy="558.1" rx="3.9" ry="4.7" fill="#2a3a9a" stroke="#111" stroke-width="1.1" />
<ellipse cx="534.5" cy="561.4" rx="3.9" ry="4.7" fill="#e03a2a" stroke="#111" stroke-width="1.1" />
<ellipse cx="519.2" cy="579.7" rx="3.9" ry="4.7" fill="#e0308a" stroke="#111" stroke-width="1.1" />
<ellipse cx="502.1" cy="595.7" rx="3.9" ry="4.7" fill="#7a2a9a" stroke="#111" stroke-width="1.1" />
<ellipse cx="533.0" cy="597.1" rx="3.9" ry="4.7" fill="#3aaa4a" stroke="#111" stroke-width="1.1" />
<ellipse cx="493.0" cy="547.5" rx="3.9" ry="4.7" fill="#b5b5b5" stroke="#111" stroke-width="1.1" />
<ellipse cx="545.1" cy="550.0" rx="3.9" ry="4.7" fill="#b5b5b5" stroke="#111" stroke-width="1.1" />
<ellipse cx="495.1" cy="609.1" rx="3.9" ry="4.7" fill="#b5b5b5" stroke="#111" stroke-width="1.1" />
<ellipse cx="542.6" cy="610.0" rx="3.9" ry="4.7" fill="#b5b5b5" stroke="#111" stroke-width="1.1" />
<text x="0" y="0" font-size="12.00" fill="#555" text-anchor="middle" font-weight="normal" font-family='"Liberation Serif", serif' font-style="normal" transform="matrix(1 0 0 1.0 519.20 506.70)" >a</text>
<text x="0" y="0" font-size="12.00" fill="#555" text-anchor="middle" font-weight="normal" font-family='"Liberation Serif", serif' font-style="normal" transform="matrix(1 0 0 1.0 468.20 573.70)" >b</text>
<text x="0" y="0" font-size="12.00" fill="#555" text-anchor="middle" font-weight="normal" font-family='"Liberation Serif", serif' font-style="normal" transform="matrix(1 0 0 1.0 565.20 572.70)" >c</text>
<text x="0" y="0" font-size="12.00" fill="#555" text-anchor="middle" font-weight="normal" font-family='"Liberation Serif", serif' font-style="normal" transform="matrix(1 0 0 1.0 519.20 653.70)" >d</text>
<text x="0" y="0" font-size="12.00" fill="#555" text-anchor="middle" font-weight="normal" font-family='"Liberation Serif", serif' font-style="normal" transform="matrix(1 0 0 1.0 504.70 573.70)" >h</text>
<text x="0" y="0" font-size="12.00" fill="#555" text-anchor="middle" font-weight="normal" font-family='"Liberation Serif", serif' font-style="normal" transform="matrix(1 0 0 1.0 522.40 573.20)" >i</text>
<text x="0" y="0" font-size="12.00" fill="#555" text-anchor="middle" font-weight="normal" font-family='"Liberation Serif", serif' font-style="normal" transform="matrix(1 0 0 1.0 537.20 574.20)" >g</text>
<text x="0" y="0" font-size="12.00" fill="#555" text-anchor="middle" font-weight="normal" font-family='"Liberation Serif", serif' font-style="normal" transform="matrix(1 0 0 1.0 500.20 588.70)" >e</text>
<text x="0" y="0" font-size="12.00" fill="#555" text-anchor="middle" font-weight="normal" font-family='"Liberation Serif", serif' font-style="normal" transform="matrix(1 0 0 1.0 535.20 589.70)" >f</text>
<text x="0" y="0" font-size="12.00" fill="#555" text-anchor="middle" font-weight="normal" font-family='"Liberation Serif", serif' font-style="normal" transform="matrix(1 0 0 1.0 485.20 550.20)" >j</text>
<text x="0" y="0" font-size="12.00" fill="#555" text-anchor="middle" font-weight="normal" font-family='"Liberation Serif", serif' font-style="normal" transform="matrix(1 0 0 1.0 552.20 553.20)" >k</text>
<text x="0" y="0" font-size="12.00" fill="#555" text-anchor="middle" font-weight="normal" font-family='"Liberation Serif", serif' font-style="normal" transform="matrix(1 0 0 1.0 487.20 616.70)" >l</text>
<text x="0" y="0" font-size="12.00" fill="#555" text-anchor="middle" font-weight="normal" font-family='"Liberation Serif", serif' font-style="normal" transform="matrix(1 0 0 1.0 552.20 617.70)" >m</text>
<line x1="656.3" y1="517.0" x2="606.6" y2="580.8" stroke="#111" stroke-width="1.1" />
<line x1="656.3" y1="517.0" x2="699.9" y2="580.8" stroke="#111" stroke-width="1.1" />
<line x1="656.3" y1="517.0" x2="642.7" y2="559.4" stroke="#111" stroke-width="1.1" />
<line x1="656.3" y1="517.0" x2="655.6" y2="549.6" stroke="#111" stroke-width="1.1" />
<line x1="656.3" y1="517.0" x2="670.9" y2="561.8" stroke="#111" stroke-width="1.1" />
<line x1="655.6" y1="549.6" x2="642.7" y2="559.4" stroke="#111" stroke-width="1.1" />
<line x1="655.6" y1="549.6" x2="670.9" y2="561.8" stroke="#111" stroke-width="1.1" />
<line x1="655.6" y1="549.6" x2="656.3" y2="580.5" stroke="#111" stroke-width="1.1" />
<line x1="606.6" y1="580.8" x2="642.7" y2="559.4" stroke="#111" stroke-width="1.1" />
<line x1="606.6" y1="580.8" x2="656.3" y2="580.5" stroke="#111" stroke-width="1.1" />
<line x1="656.3" y1="580.5" x2="699.9" y2="580.8" stroke="#111" stroke-width="1.1" />
<line x1="606.6" y1="580.8" x2="639.1" y2="597.2" stroke="#111" stroke-width="1.1" />
<line x1="606.6" y1="580.8" x2="656.3" y2="636.4" stroke="#111" stroke-width="1.1" />
<line x1="699.9" y1="580.8" x2="670.9" y2="561.8" stroke="#111" stroke-width="1.1" />
<line x1="699.9" y1="580.8" x2="670.0" y2="598.0" stroke="#111" stroke-width="1.1" />
<line x1="699.9" y1="580.8" x2="656.3" y2="636.4" stroke="#111" stroke-width="1.1" />
<line x1="642.7" y1="559.4" x2="656.3" y2="580.5" stroke="#111" stroke-width="1.1" />
<line x1="670.9" y1="561.8" x2="656.3" y2="580.5" stroke="#111" stroke-width="1.1" />
<line x1="639.1" y1="597.2" x2="656.3" y2="580.5" stroke="#111" stroke-width="1.1" />
<line x1="670.0" y1="598.0" x2="656.3" y2="580.5" stroke="#111" stroke-width="1.1" />
<line x1="639.1" y1="597.2" x2="656.3" y2="607.8" stroke="#111" stroke-width="1.1" />
<line x1="670.0" y1="598.0" x2="656.3" y2="607.8" stroke="#111" stroke-width="1.1" />
<line x1="656.3" y1="607.8" x2="656.3" y2="636.4" stroke="#111" stroke-width="1.1" />
<line x1="656.3" y1="580.5" x2="656.3" y2="607.8" stroke="#111" stroke-width="1.1" />
<line x1="639.1" y1="597.2" x2="656.3" y2="636.4" stroke="#111" stroke-width="1.1" />
<line x1="670.0" y1="598.0" x2="656.3" y2="636.4" stroke="#111" stroke-width="1.1" />
<ellipse cx="656.3" cy="517.0" rx="3.9" ry="4.7" fill="#7dc45a" stroke="#111" stroke-width="1.1" />
<ellipse cx="606.6" cy="580.8" rx="3.9" ry="4.7" fill="#4ba8e8" stroke="#111" stroke-width="1.1" />
<ellipse cx="699.9" cy="580.8" rx="3.9" ry="4.7" fill="#f0983a" stroke="#111" stroke-width="1.1" />
<ellipse cx="656.3" cy="636.4" rx="3.9" ry="4.7" fill="#f8f040" stroke="#111" stroke-width="1.1" />
<ellipse cx="642.7" cy="559.4" rx="3.9" ry="4.7" fill="#2a3a9a" stroke="#111" stroke-width="1.1" />
<ellipse cx="670.9" cy="561.8" rx="3.9" ry="4.7" fill="#e03a2a" stroke="#111" stroke-width="1.1" />
<ellipse cx="656.3" cy="580.5" rx="3.9" ry="4.7" fill="#e0308a" stroke="#111" stroke-width="1.1" />
<ellipse cx="639.1" cy="597.2" rx="3.9" ry="4.7" fill="#7a2a9a" stroke="#111" stroke-width="1.1" />
<ellipse cx="670.0" cy="598.0" rx="3.9" ry="4.7" fill="#3aaa4a" stroke="#111" stroke-width="1.1" />
<ellipse cx="655.6" cy="549.6" rx="3.9" ry="4.7" fill="#b5b5b5" stroke="#111" stroke-width="1.1" />
<ellipse cx="656.3" cy="607.8" rx="3.9" ry="4.7" fill="#b5b5b5" stroke="#111" stroke-width="1.1" />
<text x="0" y="0" font-size="12.00" fill="#555" text-anchor="middle" font-weight="normal" font-family='"Liberation Serif", serif' font-style="normal" transform="matrix(1 0 0 1.0 656.30 507.50)" >a</text>
<text x="0" y="0" font-size="12.00" fill="#555" text-anchor="middle" font-weight="normal" font-family='"Liberation Serif", serif' font-style="normal" transform="matrix(1 0 0 1.0 605.30 574.50)" >b</text>
<text x="0" y="0" font-size="12.00" fill="#555" text-anchor="middle" font-weight="normal" font-family='"Liberation Serif", serif' font-style="normal" transform="matrix(1 0 0 1.0 702.30 573.50)" >c</text>
<text x="0" y="0" font-size="12.00" fill="#555" text-anchor="middle" font-weight="normal" font-family='"Liberation Serif", serif' font-style="normal" transform="matrix(1 0 0 1.0 656.30 654.50)" >d</text>
<text x="0" y="0" font-size="12.00" fill="#555" text-anchor="middle" font-weight="normal" font-family='"Liberation Serif", serif' font-style="normal" transform="matrix(1 0 0 1.0 642.40 574.00)" >h</text>
<text x="0" y="0" font-size="12.00" fill="#555" text-anchor="middle" font-weight="normal" font-family='"Liberation Serif", serif' font-style="normal" transform="matrix(1 0 0 1.0 661.10 563.00)" >k</text>
<text x="0" y="0" font-size="12.00" fill="#555" text-anchor="middle" font-weight="normal" font-family='"Liberation Serif", serif' font-style="normal" transform="matrix(1 0 0 1.0 659.50 573.50)" >i</text>
<text x="0" y="0" font-size="12.00" fill="#555" text-anchor="middle" font-weight="normal" font-family='"Liberation Serif", serif' font-style="normal" transform="matrix(1 0 0 1.0 673.30 575.00)" >g</text>
<text x="0" y="0" font-size="12.00" fill="#555" text-anchor="middle" font-weight="normal" font-family='"Liberation Serif", serif' font-style="normal" transform="matrix(1 0 0 1.0 637.30 589.50)" >e</text>
<text x="0" y="0" font-size="12.00" fill="#555" text-anchor="middle" font-weight="normal" font-family='"Liberation Serif", serif' font-style="normal" transform="matrix(1 0 0 1.0 672.30 590.50)" >f</text>
<text x="0" y="0" font-size="12.00" fill="#555" text-anchor="middle" font-weight="normal" font-family='"Liberation Serif", serif' font-style="normal" transform="matrix(1 0 0 1.0 649.20 601.00)" >m</text>
<line x1="518.9" y1="679.5" x2="492.8" y2="710.4" stroke="#111" stroke-width="1.1" />
<line x1="492.8" y1="710.4" x2="469.3" y2="743.2" stroke="#111" stroke-width="1.1" />
<line x1="518.9" y1="679.5" x2="505.3" y2="720.0" stroke="#111" stroke-width="1.1" />
<line x1="518.9" y1="679.5" x2="518.4" y2="711.2" stroke="#111" stroke-width="1.1" />
<line x1="518.9" y1="679.5" x2="533.9" y2="724.8" stroke="#111" stroke-width="1.1" />
<line x1="518.9" y1="679.5" x2="562.4" y2="743.2" stroke="#111" stroke-width="1.1" />
<line x1="492.8" y1="710.4" x2="505.3" y2="720.0" stroke="#111" stroke-width="1.1" />
<line x1="518.4" y1="711.2" x2="505.3" y2="720.0" stroke="#111" stroke-width="1.1" />
<line x1="518.4" y1="711.2" x2="533.9" y2="724.8" stroke="#111" stroke-width="1.1" />
<line x1="518.4" y1="711.2" x2="518.9" y2="742.4" stroke="#111" stroke-width="1.1" />
<line x1="469.3" y1="743.2" x2="505.3" y2="720.0" stroke="#111" stroke-width="1.1" />
<line x1="469.3" y1="743.2" x2="518.9" y2="742.4" stroke="#111" stroke-width="1.1" />
<line x1="518.9" y1="742.4" x2="562.4" y2="743.2" stroke="#111" stroke-width="1.1" />
<line x1="469.3" y1="743.2" x2="501.1" y2="758.9" stroke="#111" stroke-width="1.1" />
<line x1="469.3" y1="743.2" x2="495.2" y2="771.7" stroke="#111" stroke-width="1.1" />
<line x1="495.2" y1="771.7" x2="518.4" y2="798.9" stroke="#111" stroke-width="1.1" />
<line x1="495.2" y1="771.7" x2="501.1" y2="758.9" stroke="#111" stroke-width="1.1" />
<line x1="562.4" y1="743.2" x2="533.9" y2="724.8" stroke="#111" stroke-width="1.1" />
<line x1="562.4" y1="743.2" x2="532.0" y2="760.5" stroke="#111" stroke-width="1.1" />
<line x1="562.4" y1="743.2" x2="518.4" y2="798.9" stroke="#111" stroke-width="1.1" />
<line x1="505.3" y1="720.0" x2="518.9" y2="742.4" stroke="#111" stroke-width="1.1" />
<line x1="533.9" y1="724.8" x2="518.9" y2="742.4" stroke="#111" stroke-width="1.1" />
<line x1="501.1" y1="758.9" x2="518.9" y2="742.4" stroke="#111" stroke-width="1.1" />
<line x1="532.0" y1="760.5" x2="518.9" y2="742.4" stroke="#111" stroke-width="1.1" />
<line x1="501.1" y1="758.9" x2="518.9" y2="769.6" stroke="#111" stroke-width="1.1" />
<line x1="532.0" y1="760.5" x2="518.9" y2="769.6" stroke="#111" stroke-width="1.1" />
<line x1="518.9" y1="769.6" x2="518.4" y2="798.9" stroke="#111" stroke-width="1.1" />
<line x1="518.9" y1="742.4" x2="518.9" y2="769.6" stroke="#111" stroke-width="1.1" />
<line x1="501.1" y1="758.9" x2="518.4" y2="798.9" stroke="#111" stroke-width="1.1" />
<line x1="532.0" y1="760.5" x2="518.4" y2="798.9" stroke="#111" stroke-width="1.1" />
<ellipse cx="518.9" cy="679.5" rx="3.9" ry="4.7" fill="#7dc45a" stroke="#111" stroke-width="1.1" />
<ellipse cx="469.3" cy="743.2" rx="3.9" ry="4.7" fill="#4ba8e8" stroke="#111" stroke-width="1.1" />
<ellipse cx="562.4" cy="743.2" rx="3.9" ry="4.7" fill="#f0983a" stroke="#111" stroke-width="1.1" />
<ellipse cx="518.4" cy="798.9" rx="3.9" ry="4.7" fill="#f8f040" stroke="#111" stroke-width="1.1" />
<ellipse cx="505.3" cy="720.0" rx="3.9" ry="4.7" fill="#2a3a9a" stroke="#111" stroke-width="1.1" />
<ellipse cx="533.9" cy="724.8" rx="3.9" ry="4.7" fill="#e03a2a" stroke="#111" stroke-width="1.1" />
<ellipse cx="518.9" cy="742.4" rx="3.9" ry="4.7" fill="#e0308a" stroke="#111" stroke-width="1.1" />
<ellipse cx="501.1" cy="758.9" rx="3.9" ry="4.7" fill="#7a2a9a" stroke="#111" stroke-width="1.1" />
<ellipse cx="532.0" cy="760.5" rx="3.9" ry="4.7" fill="#3aaa4a" stroke="#111" stroke-width="1.1" />
<ellipse cx="492.8" cy="710.4" rx="3.9" ry="4.7" fill="#b5b5b5" stroke="#111" stroke-width="1.1" />
<ellipse cx="518.4" cy="711.2" rx="3.9" ry="4.7" fill="#b5b5b5" stroke="#111" stroke-width="1.1" />
<ellipse cx="495.2" cy="771.7" rx="3.9" ry="4.7" fill="#b5b5b5" stroke="#111" stroke-width="1.1" />
<ellipse cx="518.9" cy="769.6" rx="3.9" ry="4.7" fill="#b5b5b5" stroke="#111" stroke-width="1.1" />
<text x="0" y="0" font-size="12.00" fill="#555" text-anchor="middle" font-weight="normal" font-family='"Liberation Serif", serif' font-style="normal" transform="matrix(1 0 0 1.0 518.90 670.40)" >a</text>
<text x="0" y="0" font-size="12.00" fill="#555" text-anchor="middle" font-weight="normal" font-family='"Liberation Serif", serif' font-style="normal" transform="matrix(1 0 0 1.0 467.90 737.40)" >b</text>
<text x="0" y="0" font-size="12.00" fill="#555" text-anchor="middle" font-weight="normal" font-family='"Liberation Serif", serif' font-style="normal" transform="matrix(1 0 0 1.0 564.90 736.40)" >c</text>
<text x="0" y="0" font-size="12.00" fill="#555" text-anchor="middle" font-weight="normal" font-family='"Liberation Serif", serif' font-style="normal" transform="matrix(1 0 0 1.0 518.90 816.40)" >d</text>
<text x="0" y="0" font-size="12.00" fill="#555" text-anchor="middle" font-weight="normal" font-family='"Liberation Serif", serif' font-style="normal" transform="matrix(1 0 0 1.0 504.40 737.40)" >h</text>
<text x="0" y="0" font-size="12.00" fill="#555" text-anchor="middle" font-weight="normal" font-family='"Liberation Serif", serif' font-style="normal" transform="matrix(1 0 0 1.0 523.70 724.90)" >k</text>
<text x="0" y="0" font-size="12.00" fill="#555" text-anchor="middle" font-weight="normal" font-family='"Liberation Serif", serif' font-style="normal" transform="matrix(1 0 0 1.0 522.10 735.40)" >i</text>
<text x="0" y="0" font-size="12.00" fill="#555" text-anchor="middle" font-weight="normal" font-family='"Liberation Serif", serif' font-style="normal" transform="matrix(1 0 0 1.0 536.90 737.90)" >g</text>
<text x="0" y="0" font-size="12.00" fill="#555" text-anchor="middle" font-weight="normal" font-family='"Liberation Serif", serif' font-style="normal" transform="matrix(1 0 0 1.0 499.90 751.40)" >e</text>
<text x="0" y="0" font-size="12.00" fill="#555" text-anchor="middle" font-weight="normal" font-family='"Liberation Serif", serif' font-style="normal" transform="matrix(1 0 0 1.0 534.90 752.40)" >f</text>
<text x="0" y="0" font-size="12.00" fill="#555" text-anchor="middle" font-weight="normal" font-family='"Liberation Serif", serif' font-style="normal" transform="matrix(1 0 0 1.0 484.90 712.90)" >j</text>
<text x="0" y="0" font-size="12.00" fill="#555" text-anchor="middle" font-weight="normal" font-family='"Liberation Serif", serif' font-style="normal" transform="matrix(1 0 0 1.0 486.90 779.40)" >l</text>
<text x="0" y="0" font-size="12.00" fill="#555" text-anchor="middle" font-weight="normal" font-family='"Liberation Serif", serif' font-style="normal" transform="matrix(1 0 0 1.0 512.80 760.60)" >m</text>
<line x1="655.0" y1="680.9" x2="628.8" y2="712.3" stroke="#111" stroke-width="1.1" />
<line x1="628.8" y1="712.3" x2="605.8" y2="744.7" stroke="#111" stroke-width="1.1" />
<line x1="655.0" y1="680.9" x2="641.8" y2="722.9" stroke="#111" stroke-width="1.1" />
<line x1="655.0" y1="680.9" x2="655.0" y2="744.5" stroke="#111" stroke-width="1.1" />
<line x1="655.0" y1="680.9" x2="670.3" y2="726.2" stroke="#111" stroke-width="1.1" />
<line x1="655.0" y1="680.9" x2="680.9" y2="714.8" stroke="#111" stroke-width="1.1" />
<line x1="680.9" y1="714.8" x2="698.6" y2="744.6" stroke="#111" stroke-width="1.1" />
<line x1="628.8" y1="712.3" x2="641.8" y2="722.9" stroke="#111" stroke-width="1.1" />
<line x1="680.9" y1="714.8" x2="670.3" y2="726.2" stroke="#111" stroke-width="1.1" />
<line x1="605.8" y1="744.7" x2="641.8" y2="722.9" stroke="#111" stroke-width="1.1" />
<line x1="605.8" y1="744.7" x2="655.0" y2="744.5" stroke="#111" stroke-width="1.1" />
<line x1="655.0" y1="744.5" x2="698.6" y2="744.6" stroke="#111" stroke-width="1.1" />
<line x1="605.8" y1="744.7" x2="637.9" y2="760.5" stroke="#111" stroke-width="1.1" />
<line x1="605.8" y1="744.7" x2="630.9" y2="773.9" stroke="#111" stroke-width="1.1" />
<line x1="630.9" y1="773.9" x2="655.0" y2="800.5" stroke="#111" stroke-width="1.1" />
<line x1="630.9" y1="773.9" x2="637.9" y2="760.5" stroke="#111" stroke-width="1.1" />
<line x1="698.6" y1="744.6" x2="670.3" y2="726.2" stroke="#111" stroke-width="1.1" />
<line x1="698.6" y1="744.6" x2="668.8" y2="761.9" stroke="#111" stroke-width="1.1" />
<line x1="698.6" y1="744.6" x2="678.4" y2="774.8" stroke="#111" stroke-width="1.1" />
<line x1="678.4" y1="774.8" x2="655.0" y2="800.5" stroke="#111" stroke-width="1.1" />
<line x1="678.4" y1="774.8" x2="668.8" y2="761.9" stroke="#111" stroke-width="1.1" />
<line x1="641.8" y1="722.9" x2="655.0" y2="744.5" stroke="#111" stroke-width="1.1" />
<line x1="670.3" y1="726.2" x2="655.0" y2="744.5" stroke="#111" stroke-width="1.1" />
<line x1="637.9" y1="760.5" x2="655.0" y2="744.5" stroke="#111" stroke-width="1.1" />
<line x1="668.8" y1="761.9" x2="655.0" y2="744.5" stroke="#111" stroke-width="1.1" />
<line x1="637.9" y1="760.5" x2="655.0" y2="800.5" stroke="#111" stroke-width="1.1" />
<line x1="668.8" y1="761.9" x2="655.0" y2="800.5" stroke="#111" stroke-width="1.1" />
<line x1="655.0" y1="744.5" x2="655.0" y2="800.5" stroke="#111" stroke-width="1.1" />
<ellipse cx="655.0" cy="680.9" rx="3.9" ry="4.7" fill="#7dc45a" stroke="#111" stroke-width="1.1" />
<ellipse cx="605.8" cy="744.7" rx="3.9" ry="4.7" fill="#4ba8e8" stroke="#111" stroke-width="1.1" />
<ellipse cx="698.6" cy="744.6" rx="3.9" ry="4.7" fill="#f0983a" stroke="#111" stroke-width="1.1" />
<ellipse cx="655.0" cy="800.5" rx="3.9" ry="4.7" fill="#f8f040" stroke="#111" stroke-width="1.1" />
<ellipse cx="641.8" cy="722.9" rx="3.9" ry="4.7" fill="#2a3a9a" stroke="#111" stroke-width="1.1" />
<ellipse cx="670.3" cy="726.2" rx="3.9" ry="4.7" fill="#e03a2a" stroke="#111" stroke-width="1.1" />
<ellipse cx="655.0" cy="744.5" rx="3.9" ry="4.7" fill="#e0308a" stroke="#111" stroke-width="1.1" />
<ellipse cx="637.9" cy="760.5" rx="3.9" ry="4.7" fill="#7a2a9a" stroke="#111" stroke-width="1.1" />
<ellipse cx="668.8" cy="761.9" rx="3.9" ry="4.7" fill="#3aaa4a" stroke="#111" stroke-width="1.1" />
<ellipse cx="628.8" cy="712.3" rx="3.9" ry="4.7" fill="#b5b5b5" stroke="#111" stroke-width="1.1" />
<ellipse cx="680.9" cy="714.8" rx="3.9" ry="4.7" fill="#b5b5b5" stroke="#111" stroke-width="1.1" />
<ellipse cx="630.9" cy="773.9" rx="3.9" ry="4.7" fill="#b5b5b5" stroke="#111" stroke-width="1.1" />
<ellipse cx="678.4" cy="774.8" rx="3.9" ry="4.7" fill="#b5b5b5" stroke="#111" stroke-width="1.1" />
<text x="0" y="0" font-size="12.00" fill="#555" text-anchor="middle" font-weight="normal" font-family='"Liberation Serif", serif' font-style="normal" transform="matrix(1 0 0 1.0 655.00 671.50)" >a</text>
<text x="0" y="0" font-size="12.00" fill="#555" text-anchor="middle" font-weight="normal" font-family='"Liberation Serif", serif' font-style="normal" transform="matrix(1 0 0 1.0 604.00 738.50)" >b</text>
<text x="0" y="0" font-size="12.00" fill="#555" text-anchor="middle" font-weight="normal" font-family='"Liberation Serif", serif' font-style="normal" transform="matrix(1 0 0 1.0 701.00 737.50)" >c</text>
<text x="0" y="0" font-size="12.00" fill="#555" text-anchor="middle" font-weight="normal" font-family='"Liberation Serif", serif' font-style="normal" transform="matrix(1 0 0 1.0 655.00 818.50)" >d</text>
<text x="0" y="0" font-size="12.00" fill="#555" text-anchor="middle" font-weight="normal" font-family='"Liberation Serif", serif' font-style="normal" transform="matrix(1 0 0 1.0 640.50 738.50)" >h</text>
<text x="0" y="0" font-size="12.00" fill="#555" text-anchor="middle" font-weight="normal" font-family='"Liberation Serif", serif' font-style="normal" transform="matrix(1 0 0 1.0 658.20 738.00)" >i</text>
<text x="0" y="0" font-size="12.00" fill="#555" text-anchor="middle" font-weight="normal" font-family='"Liberation Serif", serif' font-style="normal" transform="matrix(1 0 0 1.0 673.00 739.00)" >g</text>
<text x="0" y="0" font-size="12.00" fill="#555" text-anchor="middle" font-weight="normal" font-family='"Liberation Serif", serif' font-style="normal" transform="matrix(1 0 0 1.0 636.00 753.50)" >e</text>
<text x="0" y="0" font-size="12.00" fill="#555" text-anchor="middle" font-weight="normal" font-family='"Liberation Serif", serif' font-style="normal" transform="matrix(1 0 0 1.0 671.00 754.50)" >f</text>
<text x="0" y="0" font-size="12.00" fill="#555" text-anchor="middle" font-weight="normal" font-family='"Liberation Serif", serif' font-style="normal" transform="matrix(1 0 0 1.0 621.00 715.00)" >j</text>
<text x="0" y="0" font-size="12.00" fill="#555" text-anchor="middle" font-weight="normal" font-family='"Liberation Serif", serif' font-style="normal" transform="matrix(1 0 0 1.0 688.00 718.00)" >k</text>
<text x="0" y="0" font-size="12.00" fill="#555" text-anchor="middle" font-weight="normal" font-family='"Liberation Serif", serif' font-style="normal" transform="matrix(1 0 0 1.0 623.00 781.50)" >l</text>
<text x="0" y="0" font-size="12.00" fill="#555" text-anchor="middle" font-weight="normal" font-family='"Liberation Serif", serif' font-style="normal" transform="matrix(1 0 0 1.0 688.00 782.50)" >m</text>
<line x1="517.9" y1="846.2" x2="491.7" y2="877.6" stroke="#111" stroke-width="1.1" />
<line x1="491.7" y1="877.6" x2="468.7" y2="910.0" stroke="#111" stroke-width="1.1" />
<line x1="517.9" y1="846.2" x2="504.7" y2="888.2" stroke="#111" stroke-width="1.1" />
<line x1="517.9" y1="846.2" x2="517.9" y2="909.8" stroke="#111" stroke-width="1.1" />
<line x1="517.9" y1="846.2" x2="533.2" y2="891.5" stroke="#111" stroke-width="1.1" />
<line x1="517.9" y1="846.2" x2="543.8" y2="880.1" stroke="#111" stroke-width="1.1" />
<line x1="543.8" y1="880.1" x2="561.5" y2="909.9" stroke="#111" stroke-width="1.1" />
<line x1="491.7" y1="877.6" x2="504.7" y2="888.2" stroke="#111" stroke-width="1.1" />
<line x1="543.8" y1="880.1" x2="533.2" y2="891.5" stroke="#111" stroke-width="1.1" />
<line x1="468.7" y1="910.0" x2="504.7" y2="888.2" stroke="#111" stroke-width="1.1" />
<line x1="468.7" y1="910.0" x2="517.9" y2="909.8" stroke="#111" stroke-width="1.1" />
<line x1="517.9" y1="909.8" x2="561.5" y2="909.9" stroke="#111" stroke-width="1.1" />
<line x1="468.7" y1="910.0" x2="500.8" y2="925.8" stroke="#111" stroke-width="1.1" />
<line x1="468.7" y1="910.0" x2="493.8" y2="939.2" stroke="#111" stroke-width="1.1" />
<line x1="493.8" y1="939.2" x2="517.9" y2="965.8" stroke="#111" stroke-width="1.1" />
<line x1="493.8" y1="939.2" x2="500.8" y2="925.8" stroke="#111" stroke-width="1.1" />
<line x1="561.5" y1="909.9" x2="533.2" y2="891.5" stroke="#111" stroke-width="1.1" />
<line x1="561.5" y1="909.9" x2="531.7" y2="927.2" stroke="#111" stroke-width="1.1" />
<line x1="561.5" y1="909.9" x2="541.3" y2="940.1" stroke="#111" stroke-width="1.1" />
<line x1="541.3" y1="940.1" x2="517.9" y2="965.8" stroke="#111" stroke-width="1.1" />
<line x1="541.3" y1="940.1" x2="531.7" y2="927.2" stroke="#111" stroke-width="1.1" />
<line x1="504.7" y1="888.2" x2="517.9" y2="909.8" stroke="#111" stroke-width="1.1" />
<line x1="533.2" y1="891.5" x2="517.9" y2="909.8" stroke="#111" stroke-width="1.1" />
<line x1="500.8" y1="925.8" x2="517.9" y2="909.8" stroke="#111" stroke-width="1.1" />
<line x1="531.7" y1="927.2" x2="517.9" y2="909.8" stroke="#111" stroke-width="1.1" />
<line x1="500.8" y1="925.8" x2="517.9" y2="965.8" stroke="#111" stroke-width="1.1" />
<line x1="531.7" y1="927.2" x2="517.9" y2="965.8" stroke="#111" stroke-width="1.1" />
<line x1="517.9" y1="909.8" x2="517.9" y2="965.8" stroke="#111" stroke-width="1.1" />
<ellipse cx="517.9" cy="846.2" rx="3.9" ry="4.7" fill="#7dc45a" stroke="#111" stroke-width="1.1" />
<ellipse cx="468.7" cy="910.0" rx="3.9" ry="4.7" fill="#4ba8e8" stroke="#111" stroke-width="1.1" />
<ellipse cx="561.5" cy="909.9" rx="3.9" ry="4.7" fill="#f0983a" stroke="#111" stroke-width="1.1" />
<ellipse cx="517.9" cy="965.8" rx="3.9" ry="4.7" fill="#f8f040" stroke="#111" stroke-width="1.1" />
<ellipse cx="504.7" cy="888.2" rx="3.9" ry="4.7" fill="#2a3a9a" stroke="#111" stroke-width="1.1" />
<ellipse cx="533.2" cy="891.5" rx="3.9" ry="4.7" fill="#e03a2a" stroke="#111" stroke-width="1.1" />
<ellipse cx="517.9" cy="909.8" rx="3.9" ry="4.7" fill="#e0308a" stroke="#111" stroke-width="1.1" />
<ellipse cx="500.8" cy="925.8" rx="3.9" ry="4.7" fill="#7a2a9a" stroke="#111" stroke-width="1.1" />
<ellipse cx="531.7" cy="927.2" rx="3.9" ry="4.7" fill="#3aaa4a" stroke="#111" stroke-width="1.1" />
<ellipse cx="491.7" cy="877.6" rx="3.9" ry="4.7" fill="#b5b5b5" stroke="#111" stroke-width="1.1" />
<ellipse cx="543.8" cy="880.1" rx="3.9" ry="4.7" fill="#b5b5b5" stroke="#111" stroke-width="1.1" />
<ellipse cx="493.8" cy="939.2" rx="3.9" ry="4.7" fill="#b5b5b5" stroke="#111" stroke-width="1.1" />
<ellipse cx="541.3" cy="940.1" rx="3.9" ry="4.7" fill="#b5b5b5" stroke="#111" stroke-width="1.1" />
<text x="0" y="0" font-size="12.00" fill="#555" text-anchor="middle" font-weight="normal" font-family='"Liberation Serif", serif' font-style="normal" transform="matrix(1 0 0 1.0 517.90 836.80)" >a</text>
<text x="0" y="0" font-size="12.00" fill="#555" text-anchor="middle" font-weight="normal" font-family='"Liberation Serif", serif' font-style="normal" transform="matrix(1 0 0 1.0 466.90 903.80)" >b</text>
<text x="0" y="0" font-size="12.00" fill="#555" text-anchor="middle" font-weight="normal" font-family='"Liberation Serif", serif' font-style="normal" transform="matrix(1 0 0 1.0 563.90 902.80)" >c</text>
<text x="0" y="0" font-size="12.00" fill="#555" text-anchor="middle" font-weight="normal" font-family='"Liberation Serif", serif' font-style="normal" transform="matrix(1 0 0 1.0 517.90 983.80)" >d</text>
<text x="0" y="0" font-size="12.00" fill="#555" text-anchor="middle" font-weight="normal" font-family='"Liberation Serif", serif' font-style="normal" transform="matrix(1 0 0 1.0 503.40 903.80)" >h</text>
<text x="0" y="0" font-size="12.00" fill="#555" text-anchor="middle" font-weight="normal" font-family='"Liberation Serif", serif' font-style="normal" transform="matrix(1 0 0 1.0 521.10 903.30)" >i</text>
<text x="0" y="0" font-size="12.00" fill="#555" text-anchor="middle" font-weight="normal" font-family='"Liberation Serif", serif' font-style="normal" transform="matrix(1 0 0 1.0 535.90 904.30)" >g</text>
<text x="0" y="0" font-size="12.00" fill="#555" text-anchor="middle" font-weight="normal" font-family='"Liberation Serif", serif' font-style="normal" transform="matrix(1 0 0 1.0 498.90 918.80)" >e</text>
<text x="0" y="0" font-size="12.00" fill="#555" text-anchor="middle" font-weight="normal" font-family='"Liberation Serif", serif' font-style="normal" transform="matrix(1 0 0 1.0 533.90 919.80)" >f</text>
<text x="0" y="0" font-size="12.00" fill="#555" text-anchor="middle" font-weight="normal" font-family='"Liberation Serif", serif' font-style="normal" transform="matrix(1 0 0 1.0 483.90 880.30)" >j</text>
<text x="0" y="0" font-size="12.00" fill="#555" text-anchor="middle" font-weight="normal" font-family='"Liberation Serif", serif' font-style="normal" transform="matrix(1 0 0 1.0 550.90 883.30)" >k</text>
<text x="0" y="0" font-size="12.00" fill="#555" text-anchor="middle" font-weight="normal" font-family='"Liberation Serif", serif' font-style="normal" transform="matrix(1 0 0 1.0 485.90 946.80)" >l</text>
<text x="0" y="0" font-size="12.00" fill="#555" text-anchor="middle" font-weight="normal" font-family='"Liberation Serif", serif' font-style="normal" transform="matrix(1 0 0 1.0 550.90 947.80)" >m</text>
<line x1="654.5" y1="847.6" x2="604.8" y2="911.4" stroke="#111" stroke-width="1.1" />
<line x1="654.5" y1="847.6" x2="698.1" y2="911.4" stroke="#111" stroke-width="1.1" />
<line x1="654.5" y1="847.6" x2="640.9" y2="890.0" stroke="#111" stroke-width="1.1" />
<line x1="654.5" y1="847.6" x2="653.8" y2="880.2" stroke="#111" stroke-width="1.1" />
<line x1="654.5" y1="847.6" x2="669.1" y2="892.4" stroke="#111" stroke-width="1.1" />
<line x1="653.8" y1="880.2" x2="640.9" y2="890.0" stroke="#111" stroke-width="1.1" />
<line x1="653.8" y1="880.2" x2="669.1" y2="892.4" stroke="#111" stroke-width="1.1" />
<line x1="653.8" y1="880.2" x2="654.5" y2="911.1" stroke="#111" stroke-width="1.1" />
<line x1="604.8" y1="911.4" x2="640.9" y2="890.0" stroke="#111" stroke-width="1.1" />
<line x1="604.8" y1="911.4" x2="654.5" y2="911.1" stroke="#111" stroke-width="1.1" />
<line x1="654.5" y1="911.1" x2="698.1" y2="911.4" stroke="#111" stroke-width="1.1" />
<line x1="604.8" y1="911.4" x2="637.3" y2="927.8" stroke="#111" stroke-width="1.1" />
<line x1="604.8" y1="911.4" x2="654.5" y2="967.0" stroke="#111" stroke-width="1.1" />
<line x1="698.1" y1="911.4" x2="669.1" y2="892.4" stroke="#111" stroke-width="1.1" />
<line x1="698.1" y1="911.4" x2="668.2" y2="928.6" stroke="#111" stroke-width="1.1" />
<line x1="698.1" y1="911.4" x2="654.5" y2="967.0" stroke="#111" stroke-width="1.1" />
<line x1="640.9" y1="890.0" x2="654.5" y2="911.1" stroke="#111" stroke-width="1.1" />
<line x1="669.1" y1="892.4" x2="654.5" y2="911.1" stroke="#111" stroke-width="1.1" />
<line x1="637.3" y1="927.8" x2="654.5" y2="911.1" stroke="#111" stroke-width="1.1" />
<line x1="668.2" y1="928.6" x2="654.5" y2="911.1" stroke="#111" stroke-width="1.1" />
<line x1="637.3" y1="927.8" x2="654.5" y2="938.4" stroke="#111" stroke-width="1.1" />
<line x1="668.2" y1="928.6" x2="654.5" y2="938.4" stroke="#111" stroke-width="1.1" />
<line x1="654.5" y1="938.4" x2="654.5" y2="967.0" stroke="#111" stroke-width="1.1" />
<line x1="654.5" y1="911.1" x2="654.5" y2="938.4" stroke="#111" stroke-width="1.1" />
<line x1="637.3" y1="927.8" x2="654.5" y2="967.0" stroke="#111" stroke-width="1.1" />
<line x1="668.2" y1="928.6" x2="654.5" y2="967.0" stroke="#111" stroke-width="1.1" />
<ellipse cx="654.5" cy="847.6" rx="3.9" ry="4.7" fill="#7dc45a" stroke="#111" stroke-width="1.1" />
<ellipse cx="604.8" cy="911.4" rx="3.9" ry="4.7" fill="#4ba8e8" stroke="#111" stroke-width="1.1" />
<ellipse cx="698.1" cy="911.4" rx="3.9" ry="4.7" fill="#f0983a" stroke="#111" stroke-width="1.1" />
<ellipse cx="654.5" cy="967.0" rx="3.9" ry="4.7" fill="#f8f040" stroke="#111" stroke-width="1.1" />
<ellipse cx="640.9" cy="890.0" rx="3.9" ry="4.7" fill="#2a3a9a" stroke="#111" stroke-width="1.1" />
<ellipse cx="669.1" cy="892.4" rx="3.9" ry="4.7" fill="#e03a2a" stroke="#111" stroke-width="1.1" />
<ellipse cx="654.5" cy="911.1" rx="3.9" ry="4.7" fill="#e0308a" stroke="#111" stroke-width="1.1" />
<ellipse cx="637.3" cy="927.8" rx="3.9" ry="4.7" fill="#7a2a9a" stroke="#111" stroke-width="1.1" />
<ellipse cx="668.2" cy="928.6" rx="3.9" ry="4.7" fill="#3aaa4a" stroke="#111" stroke-width="1.1" />
<ellipse cx="653.8" cy="880.2" rx="3.9" ry="4.7" fill="#b5b5b5" stroke="#111" stroke-width="1.1" />
<ellipse cx="654.5" cy="938.4" rx="3.9" ry="4.7" fill="#b5b5b5" stroke="#111" stroke-width="1.1" />
<text x="0" y="0" font-size="12.00" fill="#555" text-anchor="middle" font-weight="normal" font-family='"Liberation Serif", serif' font-style="normal" transform="matrix(1 0 0 1.0 654.50 838.10)" >a</text>
<text x="0" y="0" font-size="12.00" fill="#555" text-anchor="middle" font-weight="normal" font-family='"Liberation Serif", serif' font-style="normal" transform="matrix(1 0 0 1.0 603.50 905.10)" >b</text>
<text x="0" y="0" font-size="12.00" fill="#555" text-anchor="middle" font-weight="normal" font-family='"Liberation Serif", serif' font-style="normal" transform="matrix(1 0 0 1.0 700.50 904.10)" >c</text>
<text x="0" y="0" font-size="12.00" fill="#555" text-anchor="middle" font-weight="normal" font-family='"Liberation Serif", serif' font-style="normal" transform="matrix(1 0 0 1.0 654.50 985.10)" >d</text>
<text x="0" y="0" font-size="12.00" fill="#555" text-anchor="middle" font-weight="normal" font-family='"Liberation Serif", serif' font-style="normal" transform="matrix(1 0 0 1.0 640.60 904.60)" >h</text>
<text x="0" y="0" font-size="12.00" fill="#555" text-anchor="middle" font-weight="normal" font-family='"Liberation Serif", serif' font-style="normal" transform="matrix(1 0 0 1.0 659.30 893.60)" >k</text>
<text x="0" y="0" font-size="12.00" fill="#555" text-anchor="middle" font-weight="normal" font-family='"Liberation Serif", serif' font-style="normal" transform="matrix(1 0 0 1.0 657.70 904.10)" >i</text>
<text x="0" y="0" font-size="12.00" fill="#555" text-anchor="middle" font-weight="normal" font-family='"Liberation Serif", serif' font-style="normal" transform="matrix(1 0 0 1.0 671.50 905.60)" >g</text>
<text x="0" y="0" font-size="12.00" fill="#555" text-anchor="middle" font-weight="normal" font-family='"Liberation Serif", serif' font-style="normal" transform="matrix(1 0 0 1.0 635.50 920.10)" >e</text>
<text x="0" y="0" font-size="12.00" fill="#555" text-anchor="middle" font-weight="normal" font-family='"Liberation Serif", serif' font-style="normal" transform="matrix(1 0 0 1.0 670.50 921.10)" >f</text>
<text x="0" y="0" font-size="12.00" fill="#555" text-anchor="middle" font-weight="normal" font-family='"Liberation Serif", serif' font-style="normal" transform="matrix(1 0 0 1.0 647.40 931.60)" >m</text>
<g transform="translate(830 500) scale(0.20833)">
<rect x="107" y="92" width="143" height="338" fill="#4ba3df" stroke="#4ba3df" stroke-width="5"/>
<rect x="107" y="430" width="65" height="200" fill="#4ba3df" stroke="#4ba3df" stroke-width="5"/>
<rect x="250" y="92" width="142" height="96" fill="#84c06a" stroke="#84c06a" stroke-width="5"/>
<rect x="320" y="188" width="72" height="180" fill="#84c06a" stroke="#84c06a" stroke-width="5"/>
<rect x="392" y="92" width="150" height="73" fill="#f1a043" stroke="#f1a043" stroke-width="5"/>
<rect x="475" y="165" width="67" height="465" fill="#f1a043" stroke="#f1a043" stroke-width="5"/>
<rect x="392" y="165" width="83" height="203" fill="#e23c2c" stroke="#e23c2c" stroke-width="5"/>
<rect x="250" y="188" width="70" height="180" fill="#28399b" stroke="#28399b" stroke-width="5"/>
<rect x="250" y="368" width="225" height="152" fill="#e0318f" stroke="#e0318f" stroke-width="5"/>
<rect x="172" y="430" width="78" height="90" fill="#822c93" stroke="#822c93" stroke-width="5"/>
<rect x="172" y="520" width="213" height="110" fill="#f6ec4c" stroke="#f6ec4c" stroke-width="5"/>
<rect x="385" y="575" width="90" height="55" fill="#f6ec4c" stroke="#f6ec4c" stroke-width="5"/>
<rect x="385" y="520" width="90" height="55" fill="#46ad4b" stroke="#46ad4b" stroke-width="5"/>
<path d="M107 92L172 92 M107 92L107 430 M107 630L172 630 M107 430L107 630 M172 430L172 630 M172 92L250 92 M172 430L250 430 M250 92L250 430" fill="none" stroke="#1a1a1a" stroke-width="6" stroke-linecap="square"/>
<path d="M250 92L320 92 M250 188L320 188 M250 92L250 188 M320 92L392 92 M392 92L392 188 M320 368L392 368 M320 188L320 368 M392 188L392 368" fill="none" stroke="#1a1a1a" stroke-width="6" stroke-linecap="square"/>
<path d="M392 92L475 92 M392 165L475 165 M392 92L392 165 M475 92L542 92 M542 92L542 165 M475 630L542 630 M475 165L475 630 M542 165L542 630" fill="none" stroke="#1a1a1a" stroke-width="6" stroke-linecap="square"/>
<path d="M392 165L475 165 M392 368L475 368 M392 165L392 368 M475 165L475 368" fill="none" stroke="#1a1a1a" stroke-width="6" stroke-linecap="square"/>
<path d="M250 188L320 188 M250 368L320 368 M250 188L250 368 M320 188L320 368" fill="none" stroke="#1a1a1a" stroke-width="6" stroke-linecap="square"/>
<path d="M250 368L475 368 M250 520L475 520 M250 368L250 520 M475 368L475 520" fill="none" stroke="#1a1a1a" stroke-width="6" stroke-linecap="square"/>
<path d="M172 430L250 430 M172 520L250 520 M172 430L172 520 M250 430L250 520" fill="none" stroke="#1a1a1a" stroke-width="6" stroke-linecap="square"/>
<path d="M172 520L385 520 M172 520L172 575 M385 520L385 575 M172 630L385 630 M172 575L172 630 M385 575L475 575 M385 630L475 630 M475 575L475 630" fill="none" stroke="#1a1a1a" stroke-width="6" stroke-linecap="square"/>
<path d="M385 520L475 520 M385 575L475 575 M385 520L385 575 M475 520L475 575" fill="none" stroke="#1a1a1a" stroke-width="6" stroke-linecap="square"/>
<text x="170" y="312" font-size="78" font-family='"Liberation Serif", serif' fill="#1a1a2a" fill-opacity="0.75" text-anchor="middle">b</text>
<text x="312" y="162" font-size="78" font-family='"Liberation Serif", serif' fill="#1a1a2a" fill-opacity="0.75" text-anchor="middle">a</text>
<text x="283" y="317" font-size="78" font-family='"Liberation Serif", serif' fill="#1a1a2a" fill-opacity="0.75" text-anchor="middle">h</text>
<text x="433" y="287" font-size="78" font-family='"Liberation Serif", serif' fill="#1a1a2a" fill-opacity="0.75" text-anchor="middle">g</text>
<text x="510" y="397" font-size="78" font-family='"Liberation Serif", serif' fill="#1a1a2a" fill-opacity="0.75" text-anchor="middle">c</text>
<text x="352" y="477" font-size="78" font-family='"Liberation Serif", serif' fill="#1a1a2a" fill-opacity="0.75" text-anchor="middle">i</text>
<text x="210" y="495" font-size="78" font-family='"Liberation Serif", serif' fill="#1a1a2a" fill-opacity="0.75" text-anchor="middle">e</text>
<text x="280" y="602" font-size="78" font-family='"Liberation Serif", serif' fill="#1a1a2a" fill-opacity="0.75" text-anchor="middle">d</text>
<text x="432" y="565" font-size="78" font-family='"Liberation Serif", serif' fill="#1a1a2a" fill-opacity="0.75" text-anchor="middle">f</text>
</g>
<text x="0" y="0" font-size="11.26" fill="#222" text-anchor="start" font-weight="normal" font-family='"Liberation Serif", serif' font-style="normal" textLength="76.6" lengthAdjust="spacingAndGlyphs" transform="matrix(1 0 0 1.2077135411325757 861.30 650.00)" stroke="#333" stroke-width="0.2">L-shaped Rooms</text>
<g transform="translate(830 500) scale(0.20833)">
<rect x="683" y="88" width="434" height="107" fill="#84c06a" stroke="#84c06a" stroke-width="5"/>
<rect x="815" y="195" width="60" height="95" fill="#84c06a" stroke="#84c06a" stroke-width="5"/>
<rect x="683" y="195" width="79" height="435" fill="#4ba3df" stroke="#4ba3df" stroke-width="5"/>
<rect x="762" y="195" width="53" height="95" fill="#28399b" stroke="#28399b" stroke-width="5"/>
<rect x="875" y="195" width="165" height="95" fill="#e23c2c" stroke="#e23c2c" stroke-width="5"/>
<rect x="1040" y="195" width="77" height="435" fill="#f1a043" stroke="#f1a043" stroke-width="5"/>
<rect x="762" y="290" width="278" height="135" fill="#e0318f" stroke="#e0318f" stroke-width="5"/>
<rect x="762" y="425" width="158" height="100" fill="#822c93" stroke="#822c93" stroke-width="5"/>
<rect x="980" y="425" width="60" height="100" fill="#46ad4b" stroke="#46ad4b" stroke-width="5"/>
<rect x="762" y="525" width="278" height="105" fill="#f6ec4c" stroke="#f6ec4c" stroke-width="5"/>
<rect x="920" y="425" width="60" height="100" fill="#f6ec4c" stroke="#f6ec4c" stroke-width="5"/>
<path d="M683 88L815 88 M683 195L815 195 M683 88L683 195 M815 88L875 88 M815 290L875 290 M815 195L815 290 M875 195L875 290 M875 88L1117 88 M875 195L1117 195 M1117 88L1117 195" fill="none" stroke="#1a1a1a" stroke-width="6" stroke-linecap="square"/>
<path d="M683 195L762 195 M683 630L762 630 M683 195L683 630 M762 195L762 630" fill="none" stroke="#1a1a1a" stroke-width="6" stroke-linecap="square"/>
<path d="M762 195L815 195 M762 290L815 290 M762 195L762 290 M815 195L815 290" fill="none" stroke="#1a1a1a" stroke-width="6" stroke-linecap="square"/>
<path d="M875 195L1040 195 M875 290L1040 290 M875 195L875 290 M1040 195L1040 290" fill="none" stroke="#1a1a1a" stroke-width="6" stroke-linecap="square"/>
<path d="M1040 195L1117 195 M1040 630L1117 630 M1040 195L1040 630 M1117 195L1117 630" fill="none" stroke="#1a1a1a" stroke-width="6" stroke-linecap="square"/>
<path d="M762 290L1040 290 M762 425L1040 425 M762 290L762 425 M1040 290L1040 425" fill="none" stroke="#1a1a1a" stroke-width="6" stroke-linecap="square"/>
<path d="M762 425L920 425 M762 525L920 525 M762 425L762 525 M920 425L920 525" fill="none" stroke="#1a1a1a" stroke-width="6" stroke-linecap="square"/>
<path d="M980 425L1040 425 M980 525L1040 525 M980 425L980 525 M1040 425L1040 525" fill="none" stroke="#1a1a1a" stroke-width="6" stroke-linecap="square"/>
<path d="M762 525L920 525 M762 630L920 630 M762 525L762 630 M920 425L980 425 M920 425L920 525 M980 425L980 525 M920 630L980 630 M980 525L1040 525 M980 630L1040 630 M1040 525L1040 630" fill="none" stroke="#1a1a1a" stroke-width="6" stroke-linecap="square"/>
<text x="875" y="162" font-size="78" font-family='"Liberation Serif", serif' fill="#1a1a2a" fill-opacity="0.75" text-anchor="middle">a</text>
<text x="720" y="427" font-size="78" font-family='"Liberation Serif", serif' fill="#1a1a2a" fill-opacity="0.75" text-anchor="middle">b</text>
<text x="787" y="275" font-size="78" font-family='"Liberation Serif", serif' fill="#1a1a2a" fill-opacity="0.75" text-anchor="middle">h</text>
<text x="955" y="267" font-size="78" font-family='"Liberation Serif", serif' fill="#1a1a2a" fill-opacity="0.75" text-anchor="middle">g</text>
<text x="898" y="379" font-size="78" font-family='"Liberation Serif", serif' fill="#1a1a2a" fill-opacity="0.75" text-anchor="middle">i</text>
<text x="1075" y="415" font-size="78" font-family='"Liberation Serif", serif' fill="#1a1a2a" fill-opacity="0.75" text-anchor="middle">c</text>
<text x="840" y="492" font-size="78" font-family='"Liberation Serif", serif' fill="#1a1a2a" fill-opacity="0.75" text-anchor="middle">e</text>
<text x="1008" y="502" font-size="78" font-family='"Liberation Serif", serif' fill="#1a1a2a" fill-opacity="0.75" text-anchor="middle">f</text>
<text x="905" y="597" font-size="78" font-family='"Liberation Serif", serif' fill="#1a1a2a" fill-opacity="0.75" text-anchor="middle">d</text>
</g>
<text x="0" y="0" font-size="11.47" fill="#222" text-anchor="start" font-weight="normal" font-family='"Liberation Serif", serif' font-style="normal" textLength="77" lengthAdjust="spacingAndGlyphs" transform="matrix(1 0 0 1.1852319932710795 981.00 650.00)" stroke="#333" stroke-width="0.2">T-shaped Rooms</text>
<g transform="translate(830 665) scale(0.20833)">
<rect x="107" y="68" width="433" height="110" fill="#84c06a" stroke="#84c06a" stroke-width="5"/>
<rect x="107" y="178" width="78" height="60" fill="#84c06a" stroke="#84c06a" stroke-width="5"/>
<rect x="238" y="178" width="60" height="90" fill="#84c06a" stroke="#84c06a" stroke-width="5"/>
<rect x="107" y="238" width="78" height="372" fill="#4ba3df" stroke="#4ba3df" stroke-width="5"/>
<rect x="185" y="178" width="53" height="90" fill="#28399b" stroke="#28399b" stroke-width="5"/>
<rect x="298" y="178" width="164" height="90" fill="#e23c2c" stroke="#e23c2c" stroke-width="5"/>
<rect x="462" y="178" width="78" height="257" fill="#f1a043" stroke="#f1a043" stroke-width="5"/>
<rect x="185" y="268" width="277" height="137" fill="#e0318f" stroke="#e0318f" stroke-width="5"/>
<rect x="185" y="405" width="163" height="100" fill="#822c93" stroke="#822c93" stroke-width="5"/>
<rect x="405" y="405" width="57" height="100" fill="#46ad4b" stroke="#46ad4b" stroke-width="5"/>
<rect x="185" y="505" width="355" height="105" fill="#f6ec4c" stroke="#f6ec4c" stroke-width="5"/>
<rect x="348" y="405" width="57" height="100" fill="#f6ec4c" stroke="#f6ec4c" stroke-width="5"/>
<rect x="462" y="435" width="78" height="70" fill="#f6ec4c" stroke="#f6ec4c" stroke-width="5"/>
<path d="M107 68L185 68 M107 68L107 178 M107 238L185 238 M107 178L107 238 M185 178L185 238 M185 68L238 68 M185 178L238 178 M238 68L298 68 M238 178L238 238 M298 178L298 238 M238 268L298 268 M238 238L238 268 M298 238L298 268 M298 68L540 68 M298 178L540 178 M540 68L540 178" fill="none" stroke="#1a1a1a" stroke-width="6" stroke-linecap="square"/>
<path d="M107 238L185 238 M107 610L185 610 M107 238L107 610 M185 238L185 610" fill="none" stroke="#1a1a1a" stroke-width="6" stroke-linecap="square"/>
<path d="M185 178L238 178 M185 268L238 268 M185 178L185 268 M238 178L238 268" fill="none" stroke="#1a1a1a" stroke-width="6" stroke-linecap="square"/>
<path d="M298 178L462 178 M298 268L462 268 M298 178L298 268 M462 178L462 268" fill="none" stroke="#1a1a1a" stroke-width="6" stroke-linecap="square"/>
<path d="M462 178L540 178 M462 435L540 435 M462 178L462 435 M540 178L540 435" fill="none" stroke="#1a1a1a" stroke-width="6" stroke-linecap="square"/>
<path d="M185 268L462 268 M185 405L462 405 M185 268L185 405 M462 268L462 405" fill="none" stroke="#1a1a1a" stroke-width="6" stroke-linecap="square"/>
<path d="M185 405L348 405 M185 505L348 505 M185 405L185 505 M348 405L348 505" fill="none" stroke="#1a1a1a" stroke-width="6" stroke-linecap="square"/>
<path d="M405 405L462 405 M405 505L462 505 M405 405L405 505 M462 405L462 505" fill="none" stroke="#1a1a1a" stroke-width="6" stroke-linecap="square"/>
<path d="M185 505L348 505 M185 610L348 610 M185 505L185 610 M348 405L405 405 M348 405L348 435 M405 405L405 435 M348 435L348 505 M405 435L405 505 M348 610L405 610 M405 505L462 505 M405 610L462 610 M462 435L540 435 M462 435L462 505 M540 435L540 505 M462 610L540 610 M540 505L540 610" fill="none" stroke="#1a1a1a" stroke-width="6" stroke-linecap="square"/>
<text x="300" y="137" font-size="78" font-family='"Liberation Serif", serif' fill="#1a1a2a" fill-opacity="0.75" text-anchor="middle">a</text>
<text x="145" y="407" font-size="78" font-family='"Liberation Serif", serif' fill="#1a1a2a" fill-opacity="0.75" text-anchor="middle">b</text>
<text x="210" y="252" font-size="78" font-family='"Liberation Serif", serif' fill="#1a1a2a" fill-opacity="0.75" text-anchor="middle">h</text>
<text x="378" y="245" font-size="78" font-family='"Liberation Serif", serif' fill="#1a1a2a" fill-opacity="0.75" text-anchor="middle">g</text>
<text x="500" y="335" font-size="78" font-family='"Liberation Serif", serif' fill="#1a1a2a" fill-opacity="0.75" text-anchor="middle">c</text>
<text x="322" y="359" font-size="78" font-family='"Liberation Serif", serif' fill="#1a1a2a" fill-opacity="0.75" text-anchor="middle">i</text>
<text x="262" y="472" font-size="78" font-family='"Liberation Serif", serif' fill="#1a1a2a" fill-opacity="0.75" text-anchor="middle">e</text>
<text x="430" y="479" font-size="78" font-family='"Liberation Serif", serif' fill="#1a1a2a" fill-opacity="0.75" text-anchor="middle">f</text>
<text x="330" y="582" font-size="78" font-family='"Liberation Serif", serif' fill="#1a1a2a" fill-opacity="0.75" text-anchor="middle">d</text>
</g>
<text x="0" y="0" font-size="11.41" fill="#222" text-anchor="start" font-weight="normal" font-family='"Liberation Serif", serif' font-style="normal" textLength="77" lengthAdjust="spacingAndGlyphs" transform="matrix(1 0 0 1.1917840467689411 861.00 808.80)" stroke="#333" stroke-width="0.2">F-shaped Rooms</text>
<g transform="translate(830 665) scale(0.20833)">
<rect x="697" y="68" width="65" height="542" fill="#4ba3df" stroke="#4ba3df" stroke-width="5"/>
<rect x="762" y="68" width="76" height="97" fill="#4ba3df" stroke="#4ba3df" stroke-width="5"/>
<rect x="762" y="522" width="65" height="88" fill="#4ba3df" stroke="#4ba3df" stroke-width="5"/>
<rect x="838" y="68" width="127" height="197" fill="#84c06a" stroke="#84c06a" stroke-width="5"/>
<rect x="1040" y="68" width="77" height="542" fill="#f1a043" stroke="#f1a043" stroke-width="5"/>
<rect x="965" y="68" width="75" height="97" fill="#f1a043" stroke="#f1a043" stroke-width="5"/>
<rect x="965" y="532" width="75" height="78" fill="#f1a043" stroke="#f1a043" stroke-width="5"/>
<rect x="965" y="165" width="75" height="100" fill="#e23c2c" stroke="#e23c2c" stroke-width="5"/>
<rect x="762" y="265" width="278" height="167" fill="#e0318f" stroke="#e0318f" stroke-width="5"/>
<rect x="762" y="165" width="76" height="100" fill="#28399b" stroke="#28399b" stroke-width="5"/>
<rect x="762" y="432" width="65" height="90" fill="#822c93" stroke="#822c93" stroke-width="5"/>
<rect x="827" y="432" width="138" height="178" fill="#f6ec4c" stroke="#f6ec4c" stroke-width="5"/>
<rect x="965" y="432" width="75" height="100" fill="#46ad4b" stroke="#46ad4b" stroke-width="5"/>
<path d="M697 68L762 68 M697 68L697 165 M697 165L697 522 M762 165L762 522 M697 610L762 610 M697 522L697 610 M762 68L827 68 M762 165L827 165 M762 522L827 522 M762 610L827 610 M827 522L827 610 M827 68L838 68 M827 165L838 165 M838 68L838 165" fill="none" stroke="#1a1a1a" stroke-width="6" stroke-linecap="square"/>
<path d="M838 68L965 68 M838 265L965 265 M838 68L838 265 M965 68L965 265" fill="none" stroke="#1a1a1a" stroke-width="6" stroke-linecap="square"/>
<path d="M965 68L1040 68 M965 165L1040 165 M965 68L965 165 M965 532L1040 532 M965 610L1040 610 M965 532L965 610 M1040 68L1117 68 M1117 68L1117 165 M1040 165L1040 532 M1117 165L1117 532 M1040 610L1117 610 M1117 532L1117 610" fill="none" stroke="#1a1a1a" stroke-width="6" stroke-linecap="square"/>
<path d="M965 165L1040 165 M965 265L1040 265 M965 165L965 265 M1040 165L1040 265" fill="none" stroke="#1a1a1a" stroke-width="6" stroke-linecap="square"/>
<path d="M762 265L1040 265 M762 432L1040 432 M762 265L762 432 M1040 265L1040 432" fill="none" stroke="#1a1a1a" stroke-width="6" stroke-linecap="square"/>
<path d="M762 165L838 165 M762 265L838 265 M762 165L762 265 M838 165L838 265" fill="none" stroke="#1a1a1a" stroke-width="6" stroke-linecap="square"/>
<path d="M762 432L827 432 M762 522L827 522 M762 432L762 522 M827 432L827 522" fill="none" stroke="#1a1a1a" stroke-width="6" stroke-linecap="square"/>
<path d="M827 432L965 432 M827 610L965 610 M827 432L827 610 M965 432L965 610" fill="none" stroke="#1a1a1a" stroke-width="6" stroke-linecap="square"/>
<path d="M965 432L1040 432 M965 532L1040 532 M965 432L965 532 M1040 432L1040 532" fill="none" stroke="#1a1a1a" stroke-width="6" stroke-linecap="square"/>
<text x="900" y="187" font-size="78" font-family='"Liberation Serif", serif' fill="#1a1a2a" fill-opacity="0.75" text-anchor="middle">a</text>
<text x="730" y="362" font-size="78" font-family='"Liberation Serif", serif' fill="#1a1a2a" fill-opacity="0.75" text-anchor="middle">b</text>
<text x="800" y="242" font-size="78" font-family='"Liberation Serif", serif' fill="#1a1a2a" fill-opacity="0.75" text-anchor="middle">h</text>
<text x="1002" y="229" font-size="78" font-family='"Liberation Serif", serif' fill="#1a1a2a" fill-opacity="0.75" text-anchor="middle">g</text>
<text x="1075" y="352" font-size="78" font-family='"Liberation Serif", serif' fill="#1a1a2a" fill-opacity="0.75" text-anchor="middle">c</text>
<text x="898" y="379" font-size="78" font-family='"Liberation Serif", serif' fill="#1a1a2a" fill-opacity="0.75" text-anchor="middle">i</text>
<text x="795" y="497" font-size="78" font-family='"Liberation Serif", serif' fill="#1a1a2a" fill-opacity="0.75" text-anchor="middle">e</text>
<text x="888" y="547" font-size="78" font-family='"Liberation Serif", serif' fill="#1a1a2a" fill-opacity="0.75" text-anchor="middle">d</text>
<text x="1000" y="502" font-size="78" font-family='"Liberation Serif", serif' fill="#1a1a2a" fill-opacity="0.75" text-anchor="middle">f</text>
</g>
<text x="0" y="0" font-size="11.22" fill="#222" text-anchor="start" font-weight="normal" font-family='"Liberation Serif", serif' font-style="normal" textLength="77" lengthAdjust="spacingAndGlyphs" transform="matrix(1 0 0 1.2113574444815005 981.00 808.80)" stroke="#333" stroke-width="0.2">C-shaped Rooms</text>
<g transform="translate(830 825) scale(0.20833)">
<rect x="107" y="55" width="50" height="540" fill="#4ba3df" stroke="#4ba3df" stroke-width="5"/>
<rect x="157" y="55" width="58" height="340" fill="#4ba3df" stroke="#4ba3df" stroke-width="5"/>
<rect x="215" y="55" width="50" height="95" fill="#4ba3df" stroke="#4ba3df" stroke-width="5"/>
<rect x="215" y="150" width="50" height="182" fill="#28399b" stroke="#28399b" stroke-width="5"/>
<rect x="265" y="55" width="57" height="277" fill="#84c06a" stroke="#84c06a" stroke-width="5"/>
<rect x="322" y="130" width="103" height="202" fill="#e23c2c" stroke="#e23c2c" stroke-width="5"/>
<rect x="322" y="55" width="218" height="75" fill="#f1a043" stroke="#f1a043" stroke-width="5"/>
<rect x="425" y="130" width="115" height="290" fill="#f1a043" stroke="#f1a043" stroke-width="5"/>
<rect x="490" y="420" width="50" height="175" fill="#f1a043" stroke="#f1a043" stroke-width="5"/>
<rect x="215" y="332" width="210" height="163" fill="#e0318f" stroke="#e0318f" stroke-width="5"/>
<rect x="157" y="395" width="58" height="100" fill="#822c93" stroke="#822c93" stroke-width="5"/>
<rect x="425" y="420" width="65" height="75" fill="#46ad4b" stroke="#46ad4b" stroke-width="5"/>
<rect x="157" y="495" width="333" height="100" fill="#f6ec4c" stroke="#f6ec4c" stroke-width="5"/>
<path d="M107 55L157 55 M107 55L107 150 M107 150L107 395 M107 595L157 595 M107 395L107 595 M157 395L157 595 M157 55L215 55 M157 395L215 395 M215 150L215 395 M215 55L265 55 M215 150L265 150 M265 55L265 150" fill="none" stroke="#1a1a1a" stroke-width="6" stroke-linecap="square"/>
<path d="M215 150L265 150 M215 332L265 332 M215 150L215 332 M265 150L265 332" fill="none" stroke="#1a1a1a" stroke-width="6" stroke-linecap="square"/>
<path d="M265 55L322 55 M265 332L322 332 M265 55L265 332 M322 55L322 332" fill="none" stroke="#1a1a1a" stroke-width="6" stroke-linecap="square"/>
<path d="M322 130L425 130 M322 332L425 332 M322 130L322 332 M425 130L425 332" fill="none" stroke="#1a1a1a" stroke-width="6" stroke-linecap="square"/>
<path d="M322 55L425 55 M322 130L425 130 M322 55L322 130 M425 55L490 55 M425 420L490 420 M425 130L425 420 M490 55L540 55 M540 55L540 130 M540 130L540 420 M490 595L540 595 M490 420L490 595 M540 420L540 595" fill="none" stroke="#1a1a1a" stroke-width="6" stroke-linecap="square"/>
<path d="M215 332L425 332 M215 495L425 495 M215 332L215 495 M425 332L425 495" fill="none" stroke="#1a1a1a" stroke-width="6" stroke-linecap="square"/>
<path d="M157 395L215 395 M157 495L215 495 M157 395L157 495 M215 395L215 495" fill="none" stroke="#1a1a1a" stroke-width="6" stroke-linecap="square"/>
<path d="M425 420L490 420 M425 495L490 495 M425 420L425 495 M490 420L490 495" fill="none" stroke="#1a1a1a" stroke-width="6" stroke-linecap="square"/>
<path d="M157 495L490 495 M157 595L490 595 M157 495L157 595 M490 495L490 595" fill="none" stroke="#1a1a1a" stroke-width="6" stroke-linecap="square"/>
<text x="162" y="275" font-size="78" font-family='"Liberation Serif", serif' fill="#1a1a2a" fill-opacity="0.75" text-anchor="middle">b</text>
<text x="240" y="272" font-size="78" font-family='"Liberation Serif", serif' fill="#1a1a2a" fill-opacity="0.75" text-anchor="middle">h</text>
<text x="295" y="225" font-size="78" font-family='"Liberation Serif", serif' fill="#1a1a2a" fill-opacity="0.75" text-anchor="middle">a</text>
<text x="370" y="267" font-size="78" font-family='"Liberation Serif", serif' fill="#1a1a2a" fill-opacity="0.75" text-anchor="middle">g</text>
<text x="475" y="272" font-size="78" font-family='"Liberation Serif", serif' fill="#1a1a2a" fill-opacity="0.75" text-anchor="middle">c</text>
<text x="320" y="447" font-size="78" font-family='"Liberation Serif", serif' fill="#1a1a2a" fill-opacity="0.75" text-anchor="middle">i</text>
<text x="185" y="472" font-size="78" font-family='"Liberation Serif", serif' fill="#1a1a2a" fill-opacity="0.75" text-anchor="middle">e</text>
<text x="455" y="482" font-size="78" font-family='"Liberation Serif", serif' fill="#1a1a2a" fill-opacity="0.75" text-anchor="middle">f</text>
<text x="315" y="572" font-size="78" font-family='"Liberation Serif", serif' fill="#1a1a2a" fill-opacity="0.75" text-anchor="middle">d</text>
</g>
<text x="0" y="0" font-size="11.41" fill="#222" text-anchor="start" font-weight="normal" font-family='"Liberation Serif", serif' font-style="normal" textLength="92" lengthAdjust="spacingAndGlyphs" transform="matrix(1 0 0 1.1914242085905686 852.50 964.60)" stroke="#333" stroke-width="0.2">Stair-shaped Rooms</text>
<g transform="translate(830 825) scale(0.20833)">
<rect x="683" y="55" width="434" height="107" fill="#84c06a" stroke="#84c06a" stroke-width="5"/>
<rect x="683" y="162" width="79" height="433" fill="#4ba3df" stroke="#4ba3df" stroke-width="5"/>
<rect x="762" y="162" width="50" height="100" fill="#28399b" stroke="#28399b" stroke-width="5"/>
<rect x="812" y="162" width="63" height="100" fill="#e0318f" stroke="#e0318f" stroke-width="5"/>
<rect x="762" y="262" width="273" height="130" fill="#e0318f" stroke="#e0318f" stroke-width="5"/>
<rect x="920" y="392" width="60" height="98" fill="#e0318f" stroke="#e0318f" stroke-width="5"/>
<rect x="875" y="162" width="160" height="100" fill="#e23c2c" stroke="#e23c2c" stroke-width="5"/>
<rect x="1035" y="162" width="82" height="433" fill="#f1a043" stroke="#f1a043" stroke-width="5"/>
<rect x="762" y="392" width="158" height="98" fill="#822c93" stroke="#822c93" stroke-width="5"/>
<rect x="980" y="392" width="55" height="98" fill="#46ad4b" stroke="#46ad4b" stroke-width="5"/>
<rect x="762" y="490" width="273" height="105" fill="#f6ec4c" stroke="#f6ec4c" stroke-width="5"/>
<path d="M683 55L1117 55 M683 162L1117 162 M683 55L683 162 M1117 55L1117 162" fill="none" stroke="#1a1a1a" stroke-width="6" stroke-linecap="square"/>
<path d="M683 162L762 162 M683 595L762 595 M683 162L683 595 M762 162L762 595" fill="none" stroke="#1a1a1a" stroke-width="6" stroke-linecap="square"/>
<path d="M762 162L812 162 M762 262L812 262 M762 162L762 262 M812 162L812 262" fill="none" stroke="#1a1a1a" stroke-width="6" stroke-linecap="square"/>
<path d="M762 262L812 262 M762 392L812 392 M762 262L762 392 M812 162L875 162 M812 162L812 262 M875 162L875 262 M812 392L875 392 M875 262L920 262 M875 392L920 392 M920 262L980 262 M920 490L980 490 M920 392L920 490 M980 392L980 490 M980 262L1035 262 M980 392L1035 392 M1035 262L1035 392" fill="none" stroke="#1a1a1a" stroke-width="6" stroke-linecap="square"/>
<path d="M875 162L1035 162 M875 262L1035 262 M875 162L875 262 M1035 162L1035 262" fill="none" stroke="#1a1a1a" stroke-width="6" stroke-linecap="square"/>
<path d="M1035 162L1117 162 M1035 595L1117 595 M1035 162L1035 595 M1117 162L1117 595" fill="none" stroke="#1a1a1a" stroke-width="6" stroke-linecap="square"/>
<path d="M762 392L920 392 M762 490L920 490 M762 392L762 490 M920 392L920 490" fill="none" stroke="#1a1a1a" stroke-width="6" stroke-linecap="square"/>
<path d="M980 392L1035 392 M980 490L1035 490 M980 392L980 490 M1035 392L1035 490" fill="none" stroke="#1a1a1a" stroke-width="6" stroke-linecap="square"/>
<path d="M762 490L1035 490 M762 595L1035 595 M762 490L762 595 M1035 490L1035 595" fill="none" stroke="#1a1a1a" stroke-width="6" stroke-linecap="square"/>
<text x="875" y="127" font-size="78" font-family='"Liberation Serif", serif' fill="#1a1a2a" fill-opacity="0.75" text-anchor="middle">a</text>
<text x="722" y="395" font-size="78" font-family='"Liberation Serif", serif' fill="#1a1a2a" fill-opacity="0.75" text-anchor="middle">b</text>
<text x="785" y="242" font-size="78" font-family='"Liberation Serif", serif' fill="#1a1a2a" fill-opacity="0.75" text-anchor="middle">h</text>
<text x="955" y="227" font-size="78" font-family='"Liberation Serif", serif' fill="#1a1a2a" fill-opacity="0.75" text-anchor="middle">g</text>
<text x="880" y="342" font-size="78" font-family='"Liberation Serif", serif' fill="#1a1a2a" fill-opacity="0.75" text-anchor="middle">i</text>
<text x="1075" y="379" font-size="78" font-family='"Liberation Serif", serif' fill="#1a1a2a" fill-opacity="0.75" text-anchor="middle">c</text>
<text x="840" y="457" font-size="78" font-family='"Liberation Serif", serif' fill="#1a1a2a" fill-opacity="0.75" text-anchor="middle">e</text>
<text x="1005" y="469" font-size="78" font-family='"Liberation Serif", serif' fill="#1a1a2a" fill-opacity="0.75" text-anchor="middle">f</text>
<text x="888" y="562" font-size="78" font-family='"Liberation Serif", serif' fill="#1a1a2a" fill-opacity="0.75" text-anchor="middle">d</text>
</g>
<text x="0" y="0" font-size="11.15" fill="#222" text-anchor="start" font-weight="normal" font-family='"Liberation Serif", serif' font-style="normal" textLength="94.5" lengthAdjust="spacingAndGlyphs" transform="matrix(1 0 0 1.218844410876133 971.30 964.60)" stroke="#333" stroke-width="0.2">Cross-shaped Rooms</text>
</svg>
</body></html>
